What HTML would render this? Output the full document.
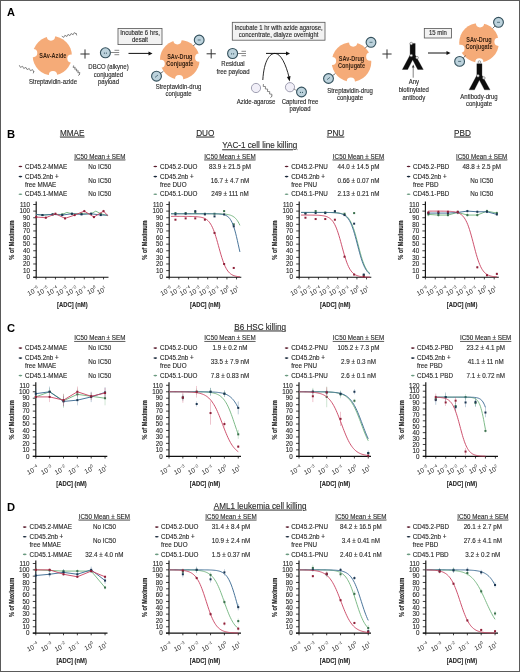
<!DOCTYPE html>
<html><head><meta charset="utf-8"><style>
html,body{margin:0;padding:0;background:#fff;}
.wrap{position:relative;width:520px;height:672px;overflow:hidden;background:#fff;}
svg{display:block;font-family:"Liberation Sans", sans-serif;filter:blur(0.45px);}
.bd{position:absolute;left:0;top:0;width:520px;height:672px;box-sizing:border-box;border:1px solid #5a5a5a;}
</style></head><body>
<div class="wrap">
<svg width="520" height="672" viewBox="0 0 520 672" font-family='"Liberation Sans", sans-serif'>
<rect x="0" y="0" width="520" height="672" fill="#fff"/>
<text transform="translate(7.00,16.30) scale(1,1.05)" font-size="11" text-anchor="start" font-weight="bold" fill="#000" stroke="#000" stroke-width="0" >A</text>
<g transform="translate(52.3,55.8)">
<circle r="19.6" fill="#f5ab78"/>
<circle cx="-1.35" cy="-19.25" r="4.1" fill="#fff"/>
<circle cx="19.11" cy="2.69" r="4.1" fill="#fff"/>
<circle cx="0.67" cy="19.29" r="4.1" fill="#fff"/>
<circle cx="-19.11" cy="-2.69" r="4.1" fill="#fff"/>
</g>
<text transform="translate(52.80,58.00) scale(0.84,1.05)" font-size="6.6" text-anchor="middle" font-weight="bold" fill="#3a2414" stroke="#3a2414" stroke-width="0" >SAv-Azide</text>
<polyline points="61.77,36.18 63.79,37.37 64.88,35.29 66.90,36.48 67.99,34.40 70.01,35.60 71.10,33.52 73.12,34.71 74.21,32.63 76.23,33.82" fill="none" stroke="#555" stroke-width="0.7"/>
<line x1="76.00" y1="33.00" x2="76.69" y2="35.40" stroke="#555" stroke-width="0.7"/>
<polyline points="19.27,65.19 20.40,67.36 22.60,66.30 23.73,68.47 25.94,67.42 27.06,69.58 29.27,68.53 30.40,70.70 32.60,69.64 33.73,71.81" fill="none" stroke="#555" stroke-width="0.7"/>
<line x1="34.00" y1="71.00" x2="33.21" y2="73.37" stroke="#555" stroke-width="0.7"/>
<polyline points="73.64,65.44 73.14,67.45 75.20,67.22 74.69,69.23 76.75,69.00 76.25,71.00 78.31,70.77 77.80,72.78 79.86,72.55 79.36,74.56" fill="none" stroke="#555" stroke-width="0.7"/>
<line x1="80.00" y1="74.00" x2="78.12" y2="75.65" stroke="#555" stroke-width="0.7"/>
<text transform="translate(53.00,84.30) scale(1,1.05)" font-size="6.0" text-anchor="middle" font-weight="normal" fill="#2a2a2a" stroke="#2a2a2a" stroke-width="0.12" >Streptavidin-azide</text>
<path d="M80.4,54 H89.6 M85,49.4 V58.6" stroke="#333" stroke-width="1"/>
<circle cx="105.4" cy="52.8" r="5.0" fill="#bcd2dc" stroke="#33505c" stroke-width="1.1"/>
<circle cx="104.4" cy="53.099999999999994" r="0.6" fill="#2e4f5c"/><circle cx="106.4" cy="53.099999999999994" r="0.6" fill="#2e4f5c"/>
<line x1="110.6" y1="52.5" x2="119.19999999999999" y2="52.5" stroke="#555" stroke-width="0.7"/>
<line x1="114.47" y1="50.3" x2="119.19999999999999" y2="50.3" stroke="#555" stroke-width="0.7"/>
<line x1="114.47" y1="54.7" x2="119.19999999999999" y2="54.7" stroke="#555" stroke-width="0.7"/>
<text transform="translate(108.50,69.00) scale(1,1.05)" font-size="6.0" text-anchor="middle" font-weight="normal" fill="#2a2a2a" stroke="#2a2a2a" stroke-width="0.12" >DBCO (alkyne)</text>
<text transform="translate(108.50,76.60) scale(1,1.05)" font-size="6.0" text-anchor="middle" font-weight="normal" fill="#2a2a2a" stroke="#2a2a2a" stroke-width="0.12" >conjugated</text>
<text transform="translate(108.50,84.30) scale(1,1.05)" font-size="6.0" text-anchor="middle" font-weight="normal" fill="#2a2a2a" stroke="#2a2a2a" stroke-width="0.12" >payload</text>
<rect x="118" y="28.5" width="44" height="16.1" fill="#f2f2f2" stroke="#555" stroke-width="0.8"/>
<text transform="translate(140.00,35.05) scale(1,1.05)" font-size="6.0" text-anchor="middle" font-weight="normal" fill="#2a2a2a" stroke="#2a2a2a" stroke-width="0.12" >Incubate 6 hrs,</text>
<text transform="translate(140.00,42.25) scale(1,1.05)" font-size="6.0" text-anchor="middle" font-weight="normal" fill="#2a2a2a" stroke="#2a2a2a" stroke-width="0.12" >desalt</text>
<line x1="128.5" y1="53.4" x2="149.5" y2="53.4" stroke="#111" stroke-width="1"/>
<path d="M152.5,53.4 l-4,-2 v4 z" fill="#111"/>
<g transform="translate(179.8,59.7)">
<circle r="19.8" fill="#f5ab78"/>
<circle cx="-2.38" cy="-19.35" r="4.1" fill="#fff"/>
<circle cx="19.39" cy="-2.04" r="4.1" fill="#fff"/>
<circle cx="-0.68" cy="19.49" r="4.1" fill="#fff"/>
<circle cx="-19.07" cy="4.05" r="4.1" fill="#fff"/>
</g>
<text transform="translate(179.80,58.80) scale(0.84,1.05)" font-size="6.6" text-anchor="middle" font-weight="bold" fill="#3a2414" stroke="#3a2414" stroke-width="0" >SAv-Drug</text>
<text transform="translate(179.80,65.80) scale(0.84,1.05)" font-size="6.6" text-anchor="middle" font-weight="bold" fill="#3a2414" stroke="#3a2414" stroke-width="0" >Conjugate</text>
<line x1="195.55" y1="43.71" x2="193.31" y2="45.99" stroke="#333" stroke-width="0.7"/>
<line x1="160.74" y1="73.19" x2="163.36" y2="71.35" stroke="#333" stroke-width="0.7"/>
<circle cx="199.2" cy="40" r="4.9" fill="#bcd2dc" stroke="#33505c" stroke-width="1.1"/>
<line x1="197.7" y1="40" x2="200.7" y2="40" stroke="#2e4f5c" stroke-width="0.7"/>
<circle cx="156.5" cy="76.2" r="4.9" fill="#bcd2dc" stroke="#33505c" stroke-width="1.1"/>
<line x1="155.0" y1="77.4" x2="158.0" y2="75.0" stroke="#2e4f5c" stroke-width="0.7"/>
<text transform="translate(178.50,89.00) scale(1,1.05)" font-size="6.0" text-anchor="middle" font-weight="normal" fill="#2a2a2a" stroke="#2a2a2a" stroke-width="0.12" >Streptavidin-drug</text>
<text transform="translate(178.50,96.30) scale(1,1.05)" font-size="6.0" text-anchor="middle" font-weight="normal" fill="#2a2a2a" stroke="#2a2a2a" stroke-width="0.12" >conjugate</text>
<path d="M206.6,53.8 H215.79999999999998 M211.2,49.199999999999996 V58.4" stroke="#333" stroke-width="1"/>
<circle cx="232.6" cy="53.5" r="5.0" fill="#bcd2dc" stroke="#33505c" stroke-width="1.1"/>
<circle cx="231.6" cy="53.8" r="0.6" fill="#2e4f5c"/><circle cx="233.6" cy="53.8" r="0.6" fill="#2e4f5c"/>
<line x1="237.8" y1="53.5" x2="246.0" y2="53.5" stroke="#555" stroke-width="0.7"/>
<line x1="241.49" y1="51.3" x2="246.0" y2="51.3" stroke="#555" stroke-width="0.7"/>
<line x1="241.49" y1="55.7" x2="246.0" y2="55.7" stroke="#555" stroke-width="0.7"/>
<text transform="translate(233.00,65.80) scale(1,1.05)" font-size="6.0" text-anchor="middle" font-weight="normal" fill="#2a2a2a" stroke="#2a2a2a" stroke-width="0.12" >Residual</text>
<text transform="translate(233.00,73.50) scale(1,1.05)" font-size="6.0" text-anchor="middle" font-weight="normal" fill="#2a2a2a" stroke="#2a2a2a" stroke-width="0.12" >free payload</text>
<rect x="232.3" y="22.3" width="92.7" height="17.9" fill="#f2f2f2" stroke="#555" stroke-width="0.8"/>
<text transform="translate(278.65,29.75) scale(1,1.05)" font-size="6.0" text-anchor="middle" font-weight="normal" fill="#2a2a2a" stroke="#2a2a2a" stroke-width="0.12" >Incubate 1 hr with azide agarose,</text>
<text transform="translate(278.65,36.95) scale(1,1.05)" font-size="6.0" text-anchor="middle" font-weight="normal" fill="#2a2a2a" stroke="#2a2a2a" stroke-width="0.12" >concentrate, dialyze overnight</text>
<line x1="266" y1="53.4" x2="287" y2="53.4" stroke="#111" stroke-width="1"/>
<path d="M290,53.4 l-4,-2 v4 z" fill="#111"/>
<path d="M262.8,80 C264,60 270,53.4 275,53.4 C281,53.4 286,65 289,77" fill="none" stroke="#111" stroke-width="0.9"/>
<path d="M289.7,81.5 l-2.8,-4.6 l3.6,-0.8 z" fill="#111"/>
<circle cx="256" cy="88" r="4.6" fill="#f1eff8" stroke="#8a8aa0" stroke-width="0.8"/>
<polyline points="263.45,84.06 263.20,86.41 265.56,86.59 265.31,88.94 267.68,89.12 267.42,91.48 269.79,91.66 269.54,94.01 271.90,94.19 271.65,96.54" fill="none" stroke="#555" stroke-width="0.7"/>
<line x1="272.30" y1="96.00" x2="270.38" y2="97.60" stroke="#555" stroke-width="0.7"/>
<circle cx="290" cy="87.2" r="4.6" fill="#f1eff8" stroke="#8a8aa0" stroke-width="0.8"/>
<line x1="293.5" y1="89" x2="297" y2="90.5" stroke="#666" stroke-width="0.6"/>
<circle cx="301.5" cy="92" r="4.9" fill="#bcd2dc" stroke="#33505c" stroke-width="1.1"/>
<circle cx="300.5" cy="92.3" r="0.6" fill="#2e4f5c"/><circle cx="302.5" cy="92.3" r="0.6" fill="#2e4f5c"/>
<text transform="translate(256.00,104.30) scale(1,1.05)" font-size="6.0" text-anchor="middle" font-weight="normal" fill="#2a2a2a" stroke="#2a2a2a" stroke-width="0.12" >Azide-agarose</text>
<text transform="translate(300.00,104.30) scale(1,1.05)" font-size="6.0" text-anchor="middle" font-weight="normal" fill="#2a2a2a" stroke="#2a2a2a" stroke-width="0.12" >Captured free</text>
<text transform="translate(300.00,111.00) scale(1,1.05)" font-size="6.0" text-anchor="middle" font-weight="normal" fill="#2a2a2a" stroke="#2a2a2a" stroke-width="0.12" >payload</text>
<g transform="translate(351.5,62)">
<circle r="19.8" fill="#f5ab78"/>
<circle cx="1.70" cy="-19.43" r="4.1" fill="#fff"/>
<circle cx="18.74" cy="-5.37" r="4.1" fill="#fff"/>
<circle cx="-0.68" cy="19.49" r="4.1" fill="#fff"/>
<circle cx="-19.47" cy="-1.02" r="4.1" fill="#fff"/>
</g>
<text transform="translate(351.50,61.10) scale(0.84,1.05)" font-size="6.6" text-anchor="middle" font-weight="bold" fill="#3a2414" stroke="#3a2414" stroke-width="0" >SAv-Drug</text>
<text transform="translate(351.50,68.10) scale(0.84,1.05)" font-size="6.6" text-anchor="middle" font-weight="bold" fill="#3a2414" stroke="#3a2414" stroke-width="0" >Conjugate</text>
<line x1="367.34" y1="46.00" x2="365.09" y2="48.27" stroke="#333" stroke-width="0.7"/>
<line x1="332.73" y1="75.47" x2="335.33" y2="73.60" stroke="#333" stroke-width="0.7"/>
<circle cx="371" cy="42.3" r="4.9" fill="#bcd2dc" stroke="#33505c" stroke-width="1.1"/>
<line x1="369.5" y1="42.3" x2="372.5" y2="42.3" stroke="#2e4f5c" stroke-width="0.7"/>
<circle cx="328.5" cy="78.5" r="4.9" fill="#bcd2dc" stroke="#33505c" stroke-width="1.1"/>
<line x1="327.0" y1="79.7" x2="330.0" y2="77.3" stroke="#2e4f5c" stroke-width="0.7"/>
<text transform="translate(350.00,92.80) scale(1,1.05)" font-size="6.0" text-anchor="middle" font-weight="normal" fill="#2a2a2a" stroke="#2a2a2a" stroke-width="0.12" >Streptavidin-drug</text>
<text transform="translate(350.00,100.00) scale(1,1.05)" font-size="6.0" text-anchor="middle" font-weight="normal" fill="#2a2a2a" stroke="#2a2a2a" stroke-width="0.12" >conjugate</text>
<path d="M382.4,54 H391.6 M387,49.4 V58.6" stroke="#333" stroke-width="1"/>
<path d="M410.10,43.40 L415.20,43.40 L415.20,55.00 L423.25,69.50 L417.75,69.50 L412.65,59.80 L407.65,69.50 L402.35,69.50 L410.10,55.00 Z" fill="#0d0d0d" stroke="#0d0d0d" stroke-width="0.3" stroke-linejoin="round"/>
<circle cx="411.25" cy="55.50" r="1.35" fill="#f4f4f4" stroke="#444" stroke-width="0.45"/>
<circle cx="417.05" cy="57.70" r="1.35" fill="#f4f4f4" stroke="#444" stroke-width="0.45"/>
<circle cx="411.25" cy="43.60" r="1.35" fill="#f4f4f4" stroke="#444" stroke-width="0.45"/>
<line x1="413.2" y1="77.7" x2="413.2" y2="66.5" stroke="#333" stroke-width="0.6"/>
<path d="M413.2,64.6 l-1.3,2.9 h2.6 z" fill="#333"/>
<text transform="translate(413.80,84.30) scale(1,1.05)" font-size="6.0" text-anchor="middle" font-weight="normal" fill="#2a2a2a" stroke="#2a2a2a" stroke-width="0.12" >Any</text>
<text transform="translate(413.80,92.00) scale(1,1.05)" font-size="6.0" text-anchor="middle" font-weight="normal" fill="#2a2a2a" stroke="#2a2a2a" stroke-width="0.12" >biotinylated</text>
<text transform="translate(413.80,99.70) scale(1,1.05)" font-size="6.0" text-anchor="middle" font-weight="normal" fill="#2a2a2a" stroke="#2a2a2a" stroke-width="0.12" >antibody</text>
<rect x="424.3" y="28.4" width="27.2" height="9.6" fill="#f2f2f2" stroke="#555" stroke-width="0.8"/>
<text transform="translate(437.90,35.30) scale(1,1.05)" font-size="6.0" text-anchor="middle" font-weight="normal" fill="#2a2a2a" stroke="#2a2a2a" stroke-width="0.12" >15 min</text>
<line x1="428" y1="53" x2="447.5" y2="53" stroke="#111" stroke-width="1"/>
<path d="M450.5,53 l-4,-2 v4 z" fill="#111"/>
<g transform="translate(479,42.8)">
<circle r="19.8" fill="#f5ab78"/>
<circle cx="1.02" cy="-19.47" r="4.1" fill="#fff"/>
<circle cx="19.47" cy="-1.02" r="4.1" fill="#fff"/>
<circle cx="0.34" cy="19.50" r="4.1" fill="#fff"/>
<circle cx="-18.55" cy="6.03" r="4.1" fill="#fff"/>
</g>
<text transform="translate(479.00,41.90) scale(0.84,1.05)" font-size="6.6" text-anchor="middle" font-weight="bold" fill="#3a2414" stroke="#3a2414" stroke-width="0" >SAv-Drug</text>
<text transform="translate(479.00,48.90) scale(0.84,1.05)" font-size="6.6" text-anchor="middle" font-weight="bold" fill="#3a2414" stroke="#3a2414" stroke-width="0" >Conjugate</text>
<line x1="494.92" y1="26.07" x2="492.71" y2="28.39" stroke="#333" stroke-width="0.7"/>
<line x1="463.35" y1="57.80" x2="465.66" y2="55.59" stroke="#333" stroke-width="0.7"/>
<circle cx="498.5" cy="22.3" r="4.9" fill="#bcd2dc" stroke="#33505c" stroke-width="1.1"/>
<line x1="497.0" y1="22.3" x2="500.0" y2="22.3" stroke="#2e4f5c" stroke-width="0.7"/>
<circle cx="459.6" cy="61.4" r="4.9" fill="#bcd2dc" stroke="#33505c" stroke-width="1.1"/>
<line x1="458.1" y1="61.4" x2="461.1" y2="61.4" stroke="#2e4f5c" stroke-width="0.7"/>
<path d="M476.85,63.70 L481.95,63.70 L481.95,75.30 L490.00,89.80 L484.50,89.80 L479.40,80.10 L474.40,89.80 L469.10,89.80 L476.85,75.30 Z" fill="#0d0d0d" stroke="#0d0d0d" stroke-width="0.3" stroke-linejoin="round"/>
<circle cx="478.00" cy="75.80" r="1.35" fill="#f4f4f4" stroke="#444" stroke-width="0.45"/>
<circle cx="483.80" cy="78.00" r="1.35" fill="#f4f4f4" stroke="#444" stroke-width="0.45"/>
<circle cx="479.40" cy="62.10" r="1.35" fill="#f4f4f4" stroke="#444" stroke-width="0.45"/>
<text transform="translate(479.00,99.30) scale(1,1.05)" font-size="6.0" text-anchor="middle" font-weight="normal" fill="#2a2a2a" stroke="#2a2a2a" stroke-width="0.12" >Antibody-drug</text>
<text transform="translate(479.00,106.20) scale(1,1.05)" font-size="6.0" text-anchor="middle" font-weight="normal" fill="#2a2a2a" stroke="#2a2a2a" stroke-width="0.12" >conjugate</text>
<text transform="translate(7.00,138.20) scale(1,1.05)" font-size="11.2" text-anchor="start" font-weight="bold" fill="#000" stroke="#000" stroke-width="0" >B</text>
<text transform="translate(72.25,135.60) scale(1,1.05)" font-size="8.2" text-anchor="middle" font-weight="normal" fill="#2a2a2a" stroke="#2a2a2a" stroke-width="0.12" text-decoration="underline">MMAE</text>
<text transform="translate(205.25,135.60) scale(1,1.05)" font-size="8.2" text-anchor="middle" font-weight="normal" fill="#2a2a2a" stroke="#2a2a2a" stroke-width="0.12" text-decoration="underline">DUO</text>
<text transform="translate(335.60,135.60) scale(1,1.05)" font-size="8.2" text-anchor="middle" font-weight="normal" fill="#2a2a2a" stroke="#2a2a2a" stroke-width="0.12" text-decoration="underline">PNU</text>
<text transform="translate(462.50,135.60) scale(1,1.05)" font-size="8.2" text-anchor="middle" font-weight="normal" fill="#2a2a2a" stroke="#2a2a2a" stroke-width="0.12" text-decoration="underline">PBD</text>
<text transform="translate(259.75,148.30) scale(1,1.05)" font-size="8.1" text-anchor="middle" font-weight="normal" fill="#2a2a2a" stroke="#2a2a2a" stroke-width="0.12" text-decoration="underline">YAC-1 cell line killing</text>
<text transform="translate(99.80,158.60) scale(1,1.05)" font-size="6.3" text-anchor="middle" font-weight="normal" fill="#2a2a2a" stroke="#2a2a2a" stroke-width="0.12" text-decoration="underline">IC50 Mean ± SEM</text>
<ellipse cx="20.40" cy="166.50" rx="1.9" ry="0.8" fill="#5a1d2e"/>
<ellipse cx="20.40" cy="176.60" rx="1.9" ry="0.8" fill="#18283a"/>
<ellipse cx="20.40" cy="194.30" rx="1.9" ry="0.8" fill="#6b9a80"/>
<text transform="translate(24.90,168.60) scale(1,1.05)" font-size="6.3" text-anchor="start" font-weight="normal" fill="#2a2a2a" stroke="#2a2a2a" stroke-width="0.12" >CD45.2-MMAE</text>
<text transform="translate(24.90,178.70) scale(1,1.05)" font-size="6.3" text-anchor="start" font-weight="normal" fill="#2a2a2a" stroke="#2a2a2a" stroke-width="0.12" >CD45.2nb +</text>
<text transform="translate(24.90,187.00) scale(1,1.05)" font-size="6.3" text-anchor="start" font-weight="normal" fill="#2a2a2a" stroke="#2a2a2a" stroke-width="0.12" >free MMAE</text>
<text transform="translate(24.90,196.40) scale(1,1.05)" font-size="6.3" text-anchor="start" font-weight="normal" fill="#2a2a2a" stroke="#2a2a2a" stroke-width="0.12" >CD45.1-MMAE</text>
<text transform="translate(99.80,168.60) scale(1,1.05)" font-size="6.3" text-anchor="middle" font-weight="normal" fill="#2a2a2a" stroke="#2a2a2a" stroke-width="0.12" >No IC50</text>
<text transform="translate(99.80,182.85) scale(1,1.05)" font-size="6.3" text-anchor="middle" font-weight="normal" fill="#2a2a2a" stroke="#2a2a2a" stroke-width="0.12" >No IC50</text>
<text transform="translate(99.80,196.40) scale(1,1.05)" font-size="6.3" text-anchor="middle" font-weight="normal" fill="#2a2a2a" stroke="#2a2a2a" stroke-width="0.12" >No IC50</text>
<text transform="translate(230.00,158.60) scale(1,1.05)" font-size="6.3" text-anchor="middle" font-weight="normal" fill="#2a2a2a" stroke="#2a2a2a" stroke-width="0.12" text-decoration="underline">IC50 Mean ± SEM</text>
<ellipse cx="155.30" cy="166.50" rx="1.9" ry="0.8" fill="#5a1d2e"/>
<ellipse cx="155.30" cy="176.60" rx="1.9" ry="0.8" fill="#18283a"/>
<ellipse cx="155.30" cy="194.30" rx="1.9" ry="0.8" fill="#6b9a80"/>
<text transform="translate(160.00,168.60) scale(1,1.05)" font-size="6.3" text-anchor="start" font-weight="normal" fill="#2a2a2a" stroke="#2a2a2a" stroke-width="0.12" >CD45.2-DUO</text>
<text transform="translate(160.00,178.70) scale(1,1.05)" font-size="6.3" text-anchor="start" font-weight="normal" fill="#2a2a2a" stroke="#2a2a2a" stroke-width="0.12" >CD45.2nb +</text>
<text transform="translate(160.00,187.00) scale(1,1.05)" font-size="6.3" text-anchor="start" font-weight="normal" fill="#2a2a2a" stroke="#2a2a2a" stroke-width="0.12" >free DUO</text>
<text transform="translate(160.00,196.40) scale(1,1.05)" font-size="6.3" text-anchor="start" font-weight="normal" fill="#2a2a2a" stroke="#2a2a2a" stroke-width="0.12" >CD45.1-DUO</text>
<text transform="translate(230.00,168.60) scale(1,1.05)" font-size="6.3" text-anchor="middle" font-weight="normal" fill="#2a2a2a" stroke="#2a2a2a" stroke-width="0.12" >83.9 ± 21.5 pM</text>
<text transform="translate(230.00,182.85) scale(1,1.05)" font-size="6.3" text-anchor="middle" font-weight="normal" fill="#2a2a2a" stroke="#2a2a2a" stroke-width="0.12" >16.7 ± 4.7 nM</text>
<text transform="translate(230.00,196.40) scale(1,1.05)" font-size="6.3" text-anchor="middle" font-weight="normal" fill="#2a2a2a" stroke="#2a2a2a" stroke-width="0.12" >249 ± 111 nM</text>
<text transform="translate(358.50,158.60) scale(1,1.05)" font-size="6.3" text-anchor="middle" font-weight="normal" fill="#2a2a2a" stroke="#2a2a2a" stroke-width="0.12" text-decoration="underline">IC50 Mean ± SEM</text>
<ellipse cx="286.60" cy="166.50" rx="1.9" ry="0.8" fill="#5a1d2e"/>
<ellipse cx="286.60" cy="176.60" rx="1.9" ry="0.8" fill="#18283a"/>
<ellipse cx="286.60" cy="194.30" rx="1.9" ry="0.8" fill="#6b9a80"/>
<text transform="translate(291.20,168.60) scale(1,1.05)" font-size="6.3" text-anchor="start" font-weight="normal" fill="#2a2a2a" stroke="#2a2a2a" stroke-width="0.12" >CD45.2-PNU</text>
<text transform="translate(291.20,178.70) scale(1,1.05)" font-size="6.3" text-anchor="start" font-weight="normal" fill="#2a2a2a" stroke="#2a2a2a" stroke-width="0.12" >CD45.2nb +</text>
<text transform="translate(291.20,187.00) scale(1,1.05)" font-size="6.3" text-anchor="start" font-weight="normal" fill="#2a2a2a" stroke="#2a2a2a" stroke-width="0.12" >free PNU</text>
<text transform="translate(291.20,196.40) scale(1,1.05)" font-size="6.3" text-anchor="start" font-weight="normal" fill="#2a2a2a" stroke="#2a2a2a" stroke-width="0.12" >CD45.1-PNU</text>
<text transform="translate(358.50,168.60) scale(1,1.05)" font-size="6.3" text-anchor="middle" font-weight="normal" fill="#2a2a2a" stroke="#2a2a2a" stroke-width="0.12" >44.0 ± 14.5 pM</text>
<text transform="translate(358.50,182.85) scale(1,1.05)" font-size="6.3" text-anchor="middle" font-weight="normal" fill="#2a2a2a" stroke="#2a2a2a" stroke-width="0.12" >0.66 ± 0.07 nM</text>
<text transform="translate(358.50,196.40) scale(1,1.05)" font-size="6.3" text-anchor="middle" font-weight="normal" fill="#2a2a2a" stroke="#2a2a2a" stroke-width="0.12" >2.13 ± 0.21 nM</text>
<text transform="translate(481.70,158.60) scale(1,1.05)" font-size="6.3" text-anchor="middle" font-weight="normal" fill="#2a2a2a" stroke="#2a2a2a" stroke-width="0.12" text-decoration="underline">IC50 Mean ± SEM</text>
<ellipse cx="408.60" cy="166.50" rx="1.9" ry="0.8" fill="#5a1d2e"/>
<ellipse cx="408.60" cy="176.60" rx="1.9" ry="0.8" fill="#18283a"/>
<ellipse cx="408.60" cy="194.30" rx="1.9" ry="0.8" fill="#6b9a80"/>
<text transform="translate(413.00,168.60) scale(1,1.05)" font-size="6.3" text-anchor="start" font-weight="normal" fill="#2a2a2a" stroke="#2a2a2a" stroke-width="0.12" >CD45.2-PBD</text>
<text transform="translate(413.00,178.70) scale(1,1.05)" font-size="6.3" text-anchor="start" font-weight="normal" fill="#2a2a2a" stroke="#2a2a2a" stroke-width="0.12" >CD45.2nb +</text>
<text transform="translate(413.00,187.00) scale(1,1.05)" font-size="6.3" text-anchor="start" font-weight="normal" fill="#2a2a2a" stroke="#2a2a2a" stroke-width="0.12" >free PBD</text>
<text transform="translate(413.00,196.40) scale(1,1.05)" font-size="6.3" text-anchor="start" font-weight="normal" fill="#2a2a2a" stroke="#2a2a2a" stroke-width="0.12" >CD45.1-PBD</text>
<text transform="translate(481.70,168.60) scale(1,1.05)" font-size="6.3" text-anchor="middle" font-weight="normal" fill="#2a2a2a" stroke="#2a2a2a" stroke-width="0.12" >48.8 ± 2.5 pM</text>
<text transform="translate(481.70,182.85) scale(1,1.05)" font-size="6.3" text-anchor="middle" font-weight="normal" fill="#2a2a2a" stroke="#2a2a2a" stroke-width="0.12" >No IC50</text>
<text transform="translate(481.70,196.40) scale(1,1.05)" font-size="6.3" text-anchor="middle" font-weight="normal" fill="#2a2a2a" stroke="#2a2a2a" stroke-width="0.12" >No IC50</text>
<path d="M36.2,201.5 V277.2 M33.2,277.2 H108.5" fill="none" stroke="#111" stroke-width="1.15"/>
<line x1="33.2" y1="277.20" x2="36.2" y2="277.20" stroke="#111" stroke-width="0.8"/>
<text transform="translate(30.00,279.40) scale(1,1.05)" font-size="6.3" text-anchor="end" font-weight="normal" fill="#2a2a2a" stroke="#2a2a2a" stroke-width="0.12" >0</text>
<line x1="33.2" y1="270.59" x2="36.2" y2="270.59" stroke="#111" stroke-width="0.8"/>
<text transform="translate(30.00,272.79) scale(1,1.05)" font-size="6.3" text-anchor="end" font-weight="normal" fill="#2a2a2a" stroke="#2a2a2a" stroke-width="0.12" >10</text>
<line x1="33.2" y1="263.98" x2="36.2" y2="263.98" stroke="#111" stroke-width="0.8"/>
<text transform="translate(30.00,266.18) scale(1,1.05)" font-size="6.3" text-anchor="end" font-weight="normal" fill="#2a2a2a" stroke="#2a2a2a" stroke-width="0.12" >20</text>
<line x1="33.2" y1="257.37" x2="36.2" y2="257.37" stroke="#111" stroke-width="0.8"/>
<text transform="translate(30.00,259.57) scale(1,1.05)" font-size="6.3" text-anchor="end" font-weight="normal" fill="#2a2a2a" stroke="#2a2a2a" stroke-width="0.12" >30</text>
<line x1="33.2" y1="250.76" x2="36.2" y2="250.76" stroke="#111" stroke-width="0.8"/>
<text transform="translate(30.00,252.96) scale(1,1.05)" font-size="6.3" text-anchor="end" font-weight="normal" fill="#2a2a2a" stroke="#2a2a2a" stroke-width="0.12" >40</text>
<line x1="33.2" y1="244.15" x2="36.2" y2="244.15" stroke="#111" stroke-width="0.8"/>
<text transform="translate(30.00,246.35) scale(1,1.05)" font-size="6.3" text-anchor="end" font-weight="normal" fill="#2a2a2a" stroke="#2a2a2a" stroke-width="0.12" >50</text>
<line x1="33.2" y1="237.55" x2="36.2" y2="237.55" stroke="#111" stroke-width="0.8"/>
<text transform="translate(30.00,239.75) scale(1,1.05)" font-size="6.3" text-anchor="end" font-weight="normal" fill="#2a2a2a" stroke="#2a2a2a" stroke-width="0.12" >60</text>
<line x1="33.2" y1="230.94" x2="36.2" y2="230.94" stroke="#111" stroke-width="0.8"/>
<text transform="translate(30.00,233.14) scale(1,1.05)" font-size="6.3" text-anchor="end" font-weight="normal" fill="#2a2a2a" stroke="#2a2a2a" stroke-width="0.12" >70</text>
<line x1="33.2" y1="224.33" x2="36.2" y2="224.33" stroke="#111" stroke-width="0.8"/>
<text transform="translate(30.00,226.53) scale(1,1.05)" font-size="6.3" text-anchor="end" font-weight="normal" fill="#2a2a2a" stroke="#2a2a2a" stroke-width="0.12" >80</text>
<line x1="33.2" y1="217.72" x2="36.2" y2="217.72" stroke="#111" stroke-width="0.8"/>
<text transform="translate(30.00,219.92) scale(1,1.05)" font-size="6.3" text-anchor="end" font-weight="normal" fill="#2a2a2a" stroke="#2a2a2a" stroke-width="0.12" >90</text>
<line x1="33.2" y1="211.11" x2="36.2" y2="211.11" stroke="#111" stroke-width="0.8"/>
<text transform="translate(30.00,213.31) scale(1,1.05)" font-size="6.3" text-anchor="end" font-weight="normal" fill="#2a2a2a" stroke="#2a2a2a" stroke-width="0.12" >100</text>
<line x1="33.2" y1="204.50" x2="36.2" y2="204.50" stroke="#111" stroke-width="0.8"/>
<text transform="translate(30.00,206.70) scale(1,1.05)" font-size="6.3" text-anchor="end" font-weight="normal" fill="#2a2a2a" stroke="#2a2a2a" stroke-width="0.12" >110</text>
<line x1="36.20" y1="277.2" x2="36.20" y2="279.4" stroke="#111" stroke-width="0.8"/>
<text transform="translate(39.50,290.4) rotate(-27)" font-size="6.6" text-anchor="end" fill="#2a2a2a">10<tspan font-size="4.2" dy="-3.1">&#8722;6</tspan></text>
<line x1="45.82" y1="277.2" x2="45.82" y2="279.4" stroke="#111" stroke-width="0.8"/>
<text transform="translate(49.12,290.4) rotate(-27)" font-size="6.6" text-anchor="end" fill="#2a2a2a">10<tspan font-size="4.2" dy="-3.1">&#8722;5</tspan></text>
<line x1="55.44" y1="277.2" x2="55.44" y2="279.4" stroke="#111" stroke-width="0.8"/>
<text transform="translate(58.74,290.4) rotate(-27)" font-size="6.6" text-anchor="end" fill="#2a2a2a">10<tspan font-size="4.2" dy="-3.1">&#8722;4</tspan></text>
<line x1="65.06" y1="277.2" x2="65.06" y2="279.4" stroke="#111" stroke-width="0.8"/>
<text transform="translate(68.36,290.4) rotate(-27)" font-size="6.6" text-anchor="end" fill="#2a2a2a">10<tspan font-size="4.2" dy="-3.1">&#8722;3</tspan></text>
<line x1="74.68" y1="277.2" x2="74.68" y2="279.4" stroke="#111" stroke-width="0.8"/>
<text transform="translate(77.98,290.4) rotate(-27)" font-size="6.6" text-anchor="end" fill="#2a2a2a">10<tspan font-size="4.2" dy="-3.1">&#8722;2</tspan></text>
<line x1="84.30" y1="277.2" x2="84.30" y2="279.4" stroke="#111" stroke-width="0.8"/>
<text transform="translate(87.60,290.4) rotate(-27)" font-size="6.6" text-anchor="end" fill="#2a2a2a">10<tspan font-size="4.2" dy="-3.1">&#8722;1</tspan></text>
<line x1="93.92" y1="277.2" x2="93.92" y2="279.4" stroke="#111" stroke-width="0.8"/>
<text transform="translate(97.22,290.4) rotate(-27)" font-size="6.6" text-anchor="end" fill="#2a2a2a">10<tspan font-size="4.2" dy="-3.1">0</tspan></text>
<line x1="103.54" y1="277.2" x2="103.54" y2="279.4" stroke="#111" stroke-width="0.8"/>
<text transform="translate(106.84,290.4) rotate(-27)" font-size="6.6" text-anchor="end" fill="#2a2a2a">10<tspan font-size="4.2" dy="-3.1">1</tspan></text>
<text transform="translate(72.35,307.2) scale(0.73,1)" font-size="8" font-weight="bold" text-anchor="middle" fill="#2a2a2a" stroke="#2a2a2a" stroke-width="0.15">[ADC] (nM)</text>
<text transform="translate(14.00,240.05) rotate(-90) scale(0.72,1)" font-size="7.8" font-weight="bold" text-anchor="middle" fill="#2a2a2a" stroke="#2a2a2a" stroke-width="0.15">% of Maximum</text>
<polyline points="36.20,214.41 42.45,215.07 52.65,214.41 62.27,214.41 66.98,212.43 71.89,213.75 81.51,213.75 91.13,213.75 95.84,211.11 100.75,213.75 107.87,215.74" fill="none" stroke="#6fb37c" stroke-width="0.9"/>
<rect x="41.45" y="214.07" width="2" height="2" fill="#3a6f4c"/>
<rect x="51.65" y="213.41" width="2" height="2" fill="#3a6f4c"/>
<rect x="61.27" y="213.41" width="2" height="2" fill="#3a6f4c"/>
<rect x="70.89" y="212.75" width="2" height="2" fill="#3a6f4c"/>
<rect x="80.51" y="212.75" width="2" height="2" fill="#3a6f4c"/>
<rect x="90.13" y="212.75" width="2" height="2" fill="#3a6f4c"/>
<rect x="99.75" y="212.75" width="2" height="2" fill="#3a6f4c"/>
<polyline points="36.20,214.41 42.45,215.07 52.65,214.41 62.27,215.07 71.89,213.75 81.51,214.41 91.13,213.75 100.75,215.07 107.87,215.07" fill="none" stroke="#36658f" stroke-width="0.9"/>
<rect x="41.45" y="214.07" width="2" height="2" fill="#1c3550"/>
<rect x="51.65" y="213.41" width="2" height="2" fill="#1c3550"/>
<rect x="61.27" y="214.07" width="2" height="2" fill="#1c3550"/>
<rect x="70.89" y="212.75" width="2" height="2" fill="#1c3550"/>
<rect x="80.51" y="213.41" width="2" height="2" fill="#1c3550"/>
<rect x="90.13" y="212.75" width="2" height="2" fill="#1c3550"/>
<rect x="99.75" y="214.07" width="2" height="2" fill="#1c3550"/>
<polyline points="36.20,217.06 45.82,217.72 55.44,213.75 65.06,218.38 74.68,215.07 84.30,211.11 93.92,217.06 103.54,211.11 107.87,215.74" fill="none" stroke="#c8405f" stroke-width="0.9"/>
<line x1="36.20" y1="218.38" x2="36.20" y2="215.74" stroke="#c8405f" stroke-width="0.6" opacity="0.55"/>
<rect x="35.20" y="216.06" width="2" height="2" fill="#8e2038"/>
<line x1="45.82" y1="219.04" x2="45.82" y2="216.40" stroke="#c8405f" stroke-width="0.6" opacity="0.55"/>
<rect x="44.82" y="216.72" width="2" height="2" fill="#8e2038"/>
<line x1="55.44" y1="215.07" x2="55.44" y2="212.43" stroke="#c8405f" stroke-width="0.6" opacity="0.55"/>
<rect x="54.44" y="212.75" width="2" height="2" fill="#8e2038"/>
<line x1="65.06" y1="219.70" x2="65.06" y2="217.06" stroke="#c8405f" stroke-width="0.6" opacity="0.55"/>
<rect x="64.06" y="217.38" width="2" height="2" fill="#8e2038"/>
<line x1="74.68" y1="216.40" x2="74.68" y2="213.75" stroke="#c8405f" stroke-width="0.6" opacity="0.55"/>
<rect x="73.68" y="214.07" width="2" height="2" fill="#8e2038"/>
<line x1="84.30" y1="212.43" x2="84.30" y2="209.79" stroke="#c8405f" stroke-width="0.6" opacity="0.55"/>
<rect x="83.30" y="210.11" width="2" height="2" fill="#8e2038"/>
<line x1="93.92" y1="218.38" x2="93.92" y2="215.74" stroke="#c8405f" stroke-width="0.6" opacity="0.55"/>
<rect x="92.92" y="216.06" width="2" height="2" fill="#8e2038"/>
<line x1="103.54" y1="212.43" x2="103.54" y2="209.79" stroke="#c8405f" stroke-width="0.6" opacity="0.55"/>
<rect x="102.54" y="210.11" width="2" height="2" fill="#8e2038"/>
<path d="M169.2,201.5 V277.2 M166.2,277.2 H241.3" fill="none" stroke="#111" stroke-width="1.15"/>
<line x1="166.2" y1="277.20" x2="169.2" y2="277.20" stroke="#111" stroke-width="0.8"/>
<text transform="translate(163.00,279.40) scale(1,1.05)" font-size="6.3" text-anchor="end" font-weight="normal" fill="#2a2a2a" stroke="#2a2a2a" stroke-width="0.12" >0</text>
<line x1="166.2" y1="270.59" x2="169.2" y2="270.59" stroke="#111" stroke-width="0.8"/>
<text transform="translate(163.00,272.79) scale(1,1.05)" font-size="6.3" text-anchor="end" font-weight="normal" fill="#2a2a2a" stroke="#2a2a2a" stroke-width="0.12" >10</text>
<line x1="166.2" y1="263.98" x2="169.2" y2="263.98" stroke="#111" stroke-width="0.8"/>
<text transform="translate(163.00,266.18) scale(1,1.05)" font-size="6.3" text-anchor="end" font-weight="normal" fill="#2a2a2a" stroke="#2a2a2a" stroke-width="0.12" >20</text>
<line x1="166.2" y1="257.37" x2="169.2" y2="257.37" stroke="#111" stroke-width="0.8"/>
<text transform="translate(163.00,259.57) scale(1,1.05)" font-size="6.3" text-anchor="end" font-weight="normal" fill="#2a2a2a" stroke="#2a2a2a" stroke-width="0.12" >30</text>
<line x1="166.2" y1="250.76" x2="169.2" y2="250.76" stroke="#111" stroke-width="0.8"/>
<text transform="translate(163.00,252.96) scale(1,1.05)" font-size="6.3" text-anchor="end" font-weight="normal" fill="#2a2a2a" stroke="#2a2a2a" stroke-width="0.12" >40</text>
<line x1="166.2" y1="244.15" x2="169.2" y2="244.15" stroke="#111" stroke-width="0.8"/>
<text transform="translate(163.00,246.35) scale(1,1.05)" font-size="6.3" text-anchor="end" font-weight="normal" fill="#2a2a2a" stroke="#2a2a2a" stroke-width="0.12" >50</text>
<line x1="166.2" y1="237.55" x2="169.2" y2="237.55" stroke="#111" stroke-width="0.8"/>
<text transform="translate(163.00,239.75) scale(1,1.05)" font-size="6.3" text-anchor="end" font-weight="normal" fill="#2a2a2a" stroke="#2a2a2a" stroke-width="0.12" >60</text>
<line x1="166.2" y1="230.94" x2="169.2" y2="230.94" stroke="#111" stroke-width="0.8"/>
<text transform="translate(163.00,233.14) scale(1,1.05)" font-size="6.3" text-anchor="end" font-weight="normal" fill="#2a2a2a" stroke="#2a2a2a" stroke-width="0.12" >70</text>
<line x1="166.2" y1="224.33" x2="169.2" y2="224.33" stroke="#111" stroke-width="0.8"/>
<text transform="translate(163.00,226.53) scale(1,1.05)" font-size="6.3" text-anchor="end" font-weight="normal" fill="#2a2a2a" stroke="#2a2a2a" stroke-width="0.12" >80</text>
<line x1="166.2" y1="217.72" x2="169.2" y2="217.72" stroke="#111" stroke-width="0.8"/>
<text transform="translate(163.00,219.92) scale(1,1.05)" font-size="6.3" text-anchor="end" font-weight="normal" fill="#2a2a2a" stroke="#2a2a2a" stroke-width="0.12" >90</text>
<line x1="166.2" y1="211.11" x2="169.2" y2="211.11" stroke="#111" stroke-width="0.8"/>
<text transform="translate(163.00,213.31) scale(1,1.05)" font-size="6.3" text-anchor="end" font-weight="normal" fill="#2a2a2a" stroke="#2a2a2a" stroke-width="0.12" >100</text>
<line x1="166.2" y1="204.50" x2="169.2" y2="204.50" stroke="#111" stroke-width="0.8"/>
<text transform="translate(163.00,206.70) scale(1,1.05)" font-size="6.3" text-anchor="end" font-weight="normal" fill="#2a2a2a" stroke="#2a2a2a" stroke-width="0.12" >110</text>
<line x1="169.20" y1="277.2" x2="169.20" y2="279.4" stroke="#111" stroke-width="0.8"/>
<text transform="translate(172.50,290.4) rotate(-27)" font-size="6.6" text-anchor="end" fill="#2a2a2a">10<tspan font-size="4.2" dy="-3.1">&#8722;6</tspan></text>
<line x1="178.82" y1="277.2" x2="178.82" y2="279.4" stroke="#111" stroke-width="0.8"/>
<text transform="translate(182.12,290.4) rotate(-27)" font-size="6.6" text-anchor="end" fill="#2a2a2a">10<tspan font-size="4.2" dy="-3.1">&#8722;5</tspan></text>
<line x1="188.44" y1="277.2" x2="188.44" y2="279.4" stroke="#111" stroke-width="0.8"/>
<text transform="translate(191.74,290.4) rotate(-27)" font-size="6.6" text-anchor="end" fill="#2a2a2a">10<tspan font-size="4.2" dy="-3.1">&#8722;4</tspan></text>
<line x1="198.06" y1="277.2" x2="198.06" y2="279.4" stroke="#111" stroke-width="0.8"/>
<text transform="translate(201.36,290.4) rotate(-27)" font-size="6.6" text-anchor="end" fill="#2a2a2a">10<tspan font-size="4.2" dy="-3.1">&#8722;3</tspan></text>
<line x1="207.68" y1="277.2" x2="207.68" y2="279.4" stroke="#111" stroke-width="0.8"/>
<text transform="translate(210.98,290.4) rotate(-27)" font-size="6.6" text-anchor="end" fill="#2a2a2a">10<tspan font-size="4.2" dy="-3.1">&#8722;2</tspan></text>
<line x1="217.30" y1="277.2" x2="217.30" y2="279.4" stroke="#111" stroke-width="0.8"/>
<text transform="translate(220.60,290.4) rotate(-27)" font-size="6.6" text-anchor="end" fill="#2a2a2a">10<tspan font-size="4.2" dy="-3.1">&#8722;1</tspan></text>
<line x1="226.92" y1="277.2" x2="226.92" y2="279.4" stroke="#111" stroke-width="0.8"/>
<text transform="translate(230.22,290.4) rotate(-27)" font-size="6.6" text-anchor="end" fill="#2a2a2a">10<tspan font-size="4.2" dy="-3.1">0</tspan></text>
<line x1="236.54" y1="277.2" x2="236.54" y2="279.4" stroke="#111" stroke-width="0.8"/>
<text transform="translate(239.84,290.4) rotate(-27)" font-size="6.6" text-anchor="end" fill="#2a2a2a">10<tspan font-size="4.2" dy="-3.1">1</tspan></text>
<text transform="translate(205.25,307.2) scale(0.73,1)" font-size="8" font-weight="bold" text-anchor="middle" fill="#2a2a2a" stroke="#2a2a2a" stroke-width="0.15">[ADC] (nM)</text>
<text transform="translate(147.00,240.05) rotate(-90) scale(0.72,1)" font-size="7.8" font-weight="bold" text-anchor="middle" fill="#2a2a2a" stroke="#2a2a2a" stroke-width="0.15">% of Maximum</text>
<polyline points="171.12,213.75 171.98,213.75 172.84,213.75 173.70,213.75 174.56,213.75 175.42,213.75 176.28,213.75 177.14,213.75 178.00,213.75 178.86,213.75 179.72,213.75 180.58,213.75 181.44,213.75 182.30,213.75 183.16,213.75 184.02,213.75 184.88,213.75 185.74,213.75 186.60,213.75 187.46,213.75 188.32,213.75 189.18,213.75 190.04,213.75 190.90,213.75 191.76,213.75 192.62,213.75 193.48,213.75 194.34,213.75 195.20,213.75 196.06,213.75 196.92,213.75 197.78,213.75 198.64,213.75 199.50,213.75 200.36,213.75 201.22,213.75 202.08,213.75 202.94,213.75 203.80,213.76 204.66,213.76 205.52,213.76 206.38,213.76 207.24,213.76 208.09,213.76 208.95,213.76 209.81,213.76 210.67,213.77 211.53,213.77 212.39,213.77 213.25,213.78 214.11,213.78 214.97,213.79 215.83,213.80 216.69,213.81 217.55,213.82 218.41,213.84 219.27,213.85 220.13,213.88 220.99,213.91 221.85,213.94 222.71,213.98 223.57,214.04 224.43,214.10 225.29,214.18 226.15,214.28 227.01,214.39 227.87,214.54 228.73,214.72 229.59,214.93 230.45,215.20 231.31,215.52 232.17,215.91 233.03,216.38 233.89,216.95 234.75,217.63 235.61,218.45 236.47,219.43 237.33,220.59 238.19,221.95 239.05,223.53 239.91,225.36" fill="none" stroke="#6fb37c" stroke-width="0.9"/>
<rect x="174.45" y="212.09" width="2" height="2" fill="#3a6f4c"/>
<rect x="184.65" y="212.09" width="2" height="2" fill="#3a6f4c"/>
<rect x="194.27" y="211.43" width="2" height="2" fill="#3a6f4c"/>
<rect x="203.89" y="212.75" width="2" height="2" fill="#3a6f4c"/>
<rect x="213.51" y="212.75" width="2" height="2" fill="#3a6f4c"/>
<rect x="223.13" y="210.11" width="2" height="2" fill="#3a6f4c"/>
<rect x="232.75" y="223.33" width="2" height="2" fill="#3a6f4c"/>
<polyline points="171.12,213.75 171.98,213.75 172.84,213.75 173.70,213.75 174.56,213.75 175.42,213.75 176.28,213.75 177.14,213.75 178.00,213.75 178.86,213.75 179.72,213.75 180.58,213.75 181.44,213.75 182.30,213.75 183.16,213.75 184.02,213.75 184.88,213.75 185.74,213.75 186.60,213.75 187.46,213.75 188.32,213.75 189.18,213.75 190.04,213.75 190.90,213.75 191.76,213.75 192.62,213.75 193.48,213.75 194.34,213.75 195.20,213.75 196.06,213.75 196.92,213.75 197.78,213.75 198.64,213.75 199.50,213.75 200.36,213.75 201.22,213.75 202.08,213.75 202.94,213.76 203.80,213.76 204.66,213.76 205.52,213.76 206.38,213.76 207.24,213.76 208.09,213.76 208.95,213.77 209.81,213.77 210.67,213.77 211.53,213.78 212.39,213.79 213.25,213.80 214.11,213.81 214.97,213.83 215.83,213.85 216.69,213.87 217.55,213.91 218.41,213.95 219.27,214.01 220.13,214.08 220.99,214.17 221.85,214.29 222.71,214.43 223.57,214.62 224.43,214.86 225.29,215.16 226.15,215.55 227.01,216.03 227.87,216.64 228.73,217.40 229.59,218.35 230.45,219.52 231.31,220.96 232.17,222.69 233.03,224.76 233.89,227.19 234.75,229.99 235.61,233.15 236.47,236.62 237.33,240.34 238.19,244.22 239.05,248.13 239.91,251.96" fill="none" stroke="#36658f" stroke-width="0.9"/>
<rect x="174.45" y="213.41" width="2" height="2" fill="#1c3550"/>
<rect x="184.65" y="212.75" width="2" height="2" fill="#1c3550"/>
<rect x="194.27" y="210.11" width="2" height="2" fill="#1c3550"/>
<rect x="203.89" y="213.41" width="2" height="2" fill="#1c3550"/>
<rect x="213.51" y="215.40" width="2" height="2" fill="#1c3550"/>
<rect x="223.13" y="213.41" width="2" height="2" fill="#1c3550"/>
<rect x="232.75" y="225.31" width="2" height="2" fill="#1c3550"/>
<polyline points="171.12,216.40 171.98,216.40 172.84,216.40 173.70,216.40 174.56,216.40 175.42,216.40 176.28,216.40 177.14,216.40 178.00,216.40 178.86,216.40 179.72,216.40 180.58,216.40 181.44,216.40 182.30,216.41 183.16,216.41 184.02,216.41 184.88,216.41 185.74,216.42 186.60,216.42 187.46,216.43 188.32,216.44 189.18,216.45 190.04,216.46 190.90,216.47 191.76,216.49 192.62,216.51 193.48,216.54 194.34,216.57 195.20,216.61 196.06,216.66 196.92,216.72 197.78,216.80 198.64,216.89 199.50,217.00 200.36,217.13 201.22,217.30 202.08,217.50 202.94,217.75 203.80,218.05 204.66,218.41 205.52,218.86 206.38,219.39 207.24,220.03 208.09,220.81 208.95,221.72 209.81,222.81 210.67,224.09 211.53,225.59 212.39,227.31 213.25,229.28 214.11,231.49 214.97,233.94 215.83,236.62 216.69,239.48 217.55,242.50 218.41,245.60 219.27,248.72 220.13,251.81 220.99,254.79 221.85,257.61 222.71,260.24 223.57,262.64 224.43,264.80 225.29,266.70 226.15,268.37 227.01,269.82 227.87,271.05 228.73,272.10 229.59,272.98 230.45,273.72 231.31,274.34 232.17,274.85 233.03,275.27 233.89,275.62 234.75,275.91 235.61,276.15 236.47,276.34 237.33,276.50 238.19,276.63 239.05,276.73 239.91,276.82" fill="none" stroke="#c8405f" stroke-width="0.9"/>
<rect x="174.45" y="218.70" width="2" height="2" fill="#8e2038"/>
<rect x="184.65" y="217.38" width="2" height="2" fill="#8e2038"/>
<rect x="194.27" y="217.38" width="2" height="2" fill="#8e2038"/>
<rect x="203.89" y="218.70" width="2" height="2" fill="#8e2038"/>
<rect x="213.51" y="231.92" width="2" height="2" fill="#8e2038"/>
<rect x="223.13" y="262.98" width="2" height="2" fill="#8e2038"/>
<rect x="232.75" y="266.95" width="2" height="2" fill="#8e2038"/>
<path d="M299.2,201.5 V277.2 M296.2,277.2 H371.3" fill="none" stroke="#111" stroke-width="1.15"/>
<line x1="296.2" y1="277.20" x2="299.2" y2="277.20" stroke="#111" stroke-width="0.8"/>
<text transform="translate(293.00,279.40) scale(1,1.05)" font-size="6.3" text-anchor="end" font-weight="normal" fill="#2a2a2a" stroke="#2a2a2a" stroke-width="0.12" >0</text>
<line x1="296.2" y1="270.59" x2="299.2" y2="270.59" stroke="#111" stroke-width="0.8"/>
<text transform="translate(293.00,272.79) scale(1,1.05)" font-size="6.3" text-anchor="end" font-weight="normal" fill="#2a2a2a" stroke="#2a2a2a" stroke-width="0.12" >10</text>
<line x1="296.2" y1="263.98" x2="299.2" y2="263.98" stroke="#111" stroke-width="0.8"/>
<text transform="translate(293.00,266.18) scale(1,1.05)" font-size="6.3" text-anchor="end" font-weight="normal" fill="#2a2a2a" stroke="#2a2a2a" stroke-width="0.12" >20</text>
<line x1="296.2" y1="257.37" x2="299.2" y2="257.37" stroke="#111" stroke-width="0.8"/>
<text transform="translate(293.00,259.57) scale(1,1.05)" font-size="6.3" text-anchor="end" font-weight="normal" fill="#2a2a2a" stroke="#2a2a2a" stroke-width="0.12" >30</text>
<line x1="296.2" y1="250.76" x2="299.2" y2="250.76" stroke="#111" stroke-width="0.8"/>
<text transform="translate(293.00,252.96) scale(1,1.05)" font-size="6.3" text-anchor="end" font-weight="normal" fill="#2a2a2a" stroke="#2a2a2a" stroke-width="0.12" >40</text>
<line x1="296.2" y1="244.15" x2="299.2" y2="244.15" stroke="#111" stroke-width="0.8"/>
<text transform="translate(293.00,246.35) scale(1,1.05)" font-size="6.3" text-anchor="end" font-weight="normal" fill="#2a2a2a" stroke="#2a2a2a" stroke-width="0.12" >50</text>
<line x1="296.2" y1="237.55" x2="299.2" y2="237.55" stroke="#111" stroke-width="0.8"/>
<text transform="translate(293.00,239.75) scale(1,1.05)" font-size="6.3" text-anchor="end" font-weight="normal" fill="#2a2a2a" stroke="#2a2a2a" stroke-width="0.12" >60</text>
<line x1="296.2" y1="230.94" x2="299.2" y2="230.94" stroke="#111" stroke-width="0.8"/>
<text transform="translate(293.00,233.14) scale(1,1.05)" font-size="6.3" text-anchor="end" font-weight="normal" fill="#2a2a2a" stroke="#2a2a2a" stroke-width="0.12" >70</text>
<line x1="296.2" y1="224.33" x2="299.2" y2="224.33" stroke="#111" stroke-width="0.8"/>
<text transform="translate(293.00,226.53) scale(1,1.05)" font-size="6.3" text-anchor="end" font-weight="normal" fill="#2a2a2a" stroke="#2a2a2a" stroke-width="0.12" >80</text>
<line x1="296.2" y1="217.72" x2="299.2" y2="217.72" stroke="#111" stroke-width="0.8"/>
<text transform="translate(293.00,219.92) scale(1,1.05)" font-size="6.3" text-anchor="end" font-weight="normal" fill="#2a2a2a" stroke="#2a2a2a" stroke-width="0.12" >90</text>
<line x1="296.2" y1="211.11" x2="299.2" y2="211.11" stroke="#111" stroke-width="0.8"/>
<text transform="translate(293.00,213.31) scale(1,1.05)" font-size="6.3" text-anchor="end" font-weight="normal" fill="#2a2a2a" stroke="#2a2a2a" stroke-width="0.12" >100</text>
<line x1="296.2" y1="204.50" x2="299.2" y2="204.50" stroke="#111" stroke-width="0.8"/>
<text transform="translate(293.00,206.70) scale(1,1.05)" font-size="6.3" text-anchor="end" font-weight="normal" fill="#2a2a2a" stroke="#2a2a2a" stroke-width="0.12" >110</text>
<line x1="299.20" y1="277.2" x2="299.20" y2="279.4" stroke="#111" stroke-width="0.8"/>
<text transform="translate(302.50,290.4) rotate(-27)" font-size="6.6" text-anchor="end" fill="#2a2a2a">10<tspan font-size="4.2" dy="-3.1">&#8722;6</tspan></text>
<line x1="308.82" y1="277.2" x2="308.82" y2="279.4" stroke="#111" stroke-width="0.8"/>
<text transform="translate(312.12,290.4) rotate(-27)" font-size="6.6" text-anchor="end" fill="#2a2a2a">10<tspan font-size="4.2" dy="-3.1">&#8722;5</tspan></text>
<line x1="318.44" y1="277.2" x2="318.44" y2="279.4" stroke="#111" stroke-width="0.8"/>
<text transform="translate(321.74,290.4) rotate(-27)" font-size="6.6" text-anchor="end" fill="#2a2a2a">10<tspan font-size="4.2" dy="-3.1">&#8722;4</tspan></text>
<line x1="328.06" y1="277.2" x2="328.06" y2="279.4" stroke="#111" stroke-width="0.8"/>
<text transform="translate(331.36,290.4) rotate(-27)" font-size="6.6" text-anchor="end" fill="#2a2a2a">10<tspan font-size="4.2" dy="-3.1">&#8722;3</tspan></text>
<line x1="337.68" y1="277.2" x2="337.68" y2="279.4" stroke="#111" stroke-width="0.8"/>
<text transform="translate(340.98,290.4) rotate(-27)" font-size="6.6" text-anchor="end" fill="#2a2a2a">10<tspan font-size="4.2" dy="-3.1">&#8722;2</tspan></text>
<line x1="347.30" y1="277.2" x2="347.30" y2="279.4" stroke="#111" stroke-width="0.8"/>
<text transform="translate(350.60,290.4) rotate(-27)" font-size="6.6" text-anchor="end" fill="#2a2a2a">10<tspan font-size="4.2" dy="-3.1">&#8722;1</tspan></text>
<line x1="356.92" y1="277.2" x2="356.92" y2="279.4" stroke="#111" stroke-width="0.8"/>
<text transform="translate(360.22,290.4) rotate(-27)" font-size="6.6" text-anchor="end" fill="#2a2a2a">10<tspan font-size="4.2" dy="-3.1">0</tspan></text>
<line x1="366.54" y1="277.2" x2="366.54" y2="279.4" stroke="#111" stroke-width="0.8"/>
<text transform="translate(369.84,290.4) rotate(-27)" font-size="6.6" text-anchor="end" fill="#2a2a2a">10<tspan font-size="4.2" dy="-3.1">1</tspan></text>
<text transform="translate(335.25,307.2) scale(0.73,1)" font-size="8" font-weight="bold" text-anchor="middle" fill="#2a2a2a" stroke="#2a2a2a" stroke-width="0.15">[ADC] (nM)</text>
<text transform="translate(277.00,240.05) rotate(-90) scale(0.72,1)" font-size="7.8" font-weight="bold" text-anchor="middle" fill="#2a2a2a" stroke="#2a2a2a" stroke-width="0.15">% of Maximum</text>
<polyline points="301.12,212.43 301.98,212.43 302.84,212.43 303.70,212.43 304.56,212.43 305.42,212.43 306.28,212.43 307.14,212.43 308.00,212.43 308.86,212.43 309.72,212.43 310.58,212.43 311.44,212.43 312.30,212.43 313.16,212.43 314.02,212.43 314.88,212.43 315.74,212.43 316.60,212.43 317.46,212.43 318.32,212.44 319.18,212.44 320.04,212.44 320.90,212.44 321.76,212.44 322.62,212.44 323.48,212.45 324.34,212.45 325.20,212.46 326.06,212.46 326.92,212.47 327.78,212.48 328.64,212.49 329.50,212.50 330.36,212.51 331.22,212.53 332.08,212.56 332.94,212.58 333.80,212.62 334.66,212.66 335.52,212.72 336.38,212.78 337.24,212.86 338.09,212.96 338.95,213.08 339.81,213.22 340.67,213.40 341.53,213.62 342.39,213.88 343.25,214.20 344.11,214.60 344.97,215.07 345.83,215.64 346.69,216.33 347.55,217.16 348.41,218.14 349.27,219.31 350.13,220.68 350.99,222.28 351.85,224.13 352.71,226.23 353.57,228.60 354.43,231.22 355.29,234.08 356.15,237.13 357.01,240.35 357.87,243.65 358.73,246.98 359.59,250.26 360.45,253.43 361.31,256.44 362.17,259.23 363.03,261.77 363.89,264.06 364.75,266.09 365.61,267.86 366.47,269.38 367.33,270.69 368.19,271.80 369.05,272.74 369.91,273.52" fill="none" stroke="#6fb37c" stroke-width="0.9"/>
<rect x="304.45" y="212.09" width="2" height="2" fill="#3a6f4c"/>
<rect x="314.65" y="210.11" width="2" height="2" fill="#3a6f4c"/>
<rect x="324.27" y="211.43" width="2" height="2" fill="#3a6f4c"/>
<rect x="333.89" y="210.77" width="2" height="2" fill="#3a6f4c"/>
<rect x="343.51" y="212.75" width="2" height="2" fill="#3a6f4c"/>
<rect x="353.13" y="212.09" width="2" height="2" fill="#3a6f4c"/>
<rect x="362.75" y="274.22" width="2" height="2" fill="#3a6f4c"/>
<polyline points="301.12,212.43 301.98,212.43 302.84,212.43 303.70,212.43 304.56,212.43 305.42,212.43 306.28,212.43 307.14,212.43 308.00,212.43 308.86,212.43 309.72,212.43 310.58,212.43 311.44,212.43 312.30,212.43 313.16,212.43 314.02,212.43 314.88,212.43 315.74,212.43 316.60,212.43 317.46,212.44 318.32,212.44 319.18,212.44 320.04,212.44 320.90,212.44 321.76,212.44 322.62,212.45 323.48,212.45 324.34,212.45 325.20,212.46 326.06,212.47 326.92,212.47 327.78,212.48 328.64,212.50 329.50,212.51 330.36,212.53 331.22,212.55 332.08,212.58 332.94,212.61 333.80,212.65 334.66,212.70 335.52,212.77 336.38,212.84 337.24,212.93 338.09,213.05 338.95,213.19 339.81,213.36 340.67,213.57 341.53,213.82 342.39,214.13 343.25,214.50 344.11,214.96 344.97,215.51 345.83,216.17 346.69,216.97 347.55,217.92 348.41,219.04 349.27,220.37 350.13,221.91 350.99,223.70 351.85,225.75 352.71,228.06 353.57,230.63 354.43,233.44 355.29,236.46 356.15,239.64 357.01,242.93 357.87,246.26 358.73,249.56 359.59,252.76 360.45,255.80 361.31,258.64 362.17,261.24 363.03,263.59 363.89,265.67 364.75,267.49 365.61,269.07 366.47,270.43 367.33,271.58 368.19,272.55 369.05,273.36 369.91,274.04" fill="none" stroke="#36658f" stroke-width="0.9"/>
<rect x="304.45" y="212.75" width="2" height="2" fill="#1c3550"/>
<rect x="314.65" y="212.09" width="2" height="2" fill="#1c3550"/>
<rect x="324.27" y="212.09" width="2" height="2" fill="#1c3550"/>
<rect x="333.89" y="210.11" width="2" height="2" fill="#1c3550"/>
<rect x="343.51" y="214.07" width="2" height="2" fill="#1c3550"/>
<rect x="353.13" y="222.67" width="2" height="2" fill="#1c3550"/>
<rect x="362.75" y="273.56" width="2" height="2" fill="#1c3550"/>
<polyline points="301.12,215.08 301.98,215.08 302.84,215.08 303.70,215.08 304.56,215.08 305.42,215.08 306.28,215.09 307.14,215.09 308.00,215.09 308.86,215.10 309.72,215.10 310.58,215.11 311.44,215.12 312.30,215.13 313.16,215.14 314.02,215.15 314.88,215.17 315.74,215.19 316.60,215.22 317.46,215.25 318.32,215.29 319.18,215.34 320.04,215.40 320.90,215.48 321.76,215.57 322.62,215.68 323.48,215.82 324.34,215.99 325.20,216.19 326.06,216.44 326.92,216.74 327.78,217.11 328.64,217.56 329.50,218.10 330.36,218.75 331.22,219.53 332.08,220.46 332.94,221.56 333.80,222.86 334.66,224.37 335.52,226.12 336.38,228.12 337.24,230.36 338.09,232.86 338.95,235.58 339.81,238.50 340.67,241.57 341.53,244.73 342.39,247.92 343.25,251.08 344.11,254.13 344.97,257.03 345.83,259.73 346.69,262.19 347.55,264.41 348.41,266.37 349.27,268.09 350.13,269.58 350.99,270.85 351.85,271.93 352.71,272.84 353.57,273.61 354.43,274.24 355.29,274.77 356.15,275.21 357.01,275.57 357.87,275.87 358.73,276.11 359.59,276.31 360.45,276.47 361.31,276.61 362.17,276.72 363.03,276.81 363.89,276.88 364.75,276.94 365.61,276.99 366.47,277.03 367.33,277.06 368.19,277.08 369.05,277.11 369.91,277.12" fill="none" stroke="#c8405f" stroke-width="0.9"/>
<rect x="304.45" y="216.72" width="2" height="2" fill="#8e2038"/>
<rect x="314.65" y="218.04" width="2" height="2" fill="#8e2038"/>
<rect x="324.27" y="218.04" width="2" height="2" fill="#8e2038"/>
<rect x="333.89" y="218.70" width="2" height="2" fill="#8e2038"/>
<rect x="343.51" y="255.71" width="2" height="2" fill="#8e2038"/>
<rect x="353.13" y="273.56" width="2" height="2" fill="#8e2038"/>
<rect x="362.75" y="275.54" width="2" height="2" fill="#8e2038"/>
<path d="M425.4,201.5 V277.2 M422.4,277.2 H498.8" fill="none" stroke="#111" stroke-width="1.15"/>
<line x1="422.4" y1="277.20" x2="425.4" y2="277.20" stroke="#111" stroke-width="0.8"/>
<text transform="translate(419.20,279.40) scale(1,1.05)" font-size="6.3" text-anchor="end" font-weight="normal" fill="#2a2a2a" stroke="#2a2a2a" stroke-width="0.12" >0</text>
<line x1="422.4" y1="270.59" x2="425.4" y2="270.59" stroke="#111" stroke-width="0.8"/>
<text transform="translate(419.20,272.79) scale(1,1.05)" font-size="6.3" text-anchor="end" font-weight="normal" fill="#2a2a2a" stroke="#2a2a2a" stroke-width="0.12" >10</text>
<line x1="422.4" y1="263.98" x2="425.4" y2="263.98" stroke="#111" stroke-width="0.8"/>
<text transform="translate(419.20,266.18) scale(1,1.05)" font-size="6.3" text-anchor="end" font-weight="normal" fill="#2a2a2a" stroke="#2a2a2a" stroke-width="0.12" >20</text>
<line x1="422.4" y1="257.37" x2="425.4" y2="257.37" stroke="#111" stroke-width="0.8"/>
<text transform="translate(419.20,259.57) scale(1,1.05)" font-size="6.3" text-anchor="end" font-weight="normal" fill="#2a2a2a" stroke="#2a2a2a" stroke-width="0.12" >30</text>
<line x1="422.4" y1="250.76" x2="425.4" y2="250.76" stroke="#111" stroke-width="0.8"/>
<text transform="translate(419.20,252.96) scale(1,1.05)" font-size="6.3" text-anchor="end" font-weight="normal" fill="#2a2a2a" stroke="#2a2a2a" stroke-width="0.12" >40</text>
<line x1="422.4" y1="244.15" x2="425.4" y2="244.15" stroke="#111" stroke-width="0.8"/>
<text transform="translate(419.20,246.35) scale(1,1.05)" font-size="6.3" text-anchor="end" font-weight="normal" fill="#2a2a2a" stroke="#2a2a2a" stroke-width="0.12" >50</text>
<line x1="422.4" y1="237.55" x2="425.4" y2="237.55" stroke="#111" stroke-width="0.8"/>
<text transform="translate(419.20,239.75) scale(1,1.05)" font-size="6.3" text-anchor="end" font-weight="normal" fill="#2a2a2a" stroke="#2a2a2a" stroke-width="0.12" >60</text>
<line x1="422.4" y1="230.94" x2="425.4" y2="230.94" stroke="#111" stroke-width="0.8"/>
<text transform="translate(419.20,233.14) scale(1,1.05)" font-size="6.3" text-anchor="end" font-weight="normal" fill="#2a2a2a" stroke="#2a2a2a" stroke-width="0.12" >70</text>
<line x1="422.4" y1="224.33" x2="425.4" y2="224.33" stroke="#111" stroke-width="0.8"/>
<text transform="translate(419.20,226.53) scale(1,1.05)" font-size="6.3" text-anchor="end" font-weight="normal" fill="#2a2a2a" stroke="#2a2a2a" stroke-width="0.12" >80</text>
<line x1="422.4" y1="217.72" x2="425.4" y2="217.72" stroke="#111" stroke-width="0.8"/>
<text transform="translate(419.20,219.92) scale(1,1.05)" font-size="6.3" text-anchor="end" font-weight="normal" fill="#2a2a2a" stroke="#2a2a2a" stroke-width="0.12" >90</text>
<line x1="422.4" y1="211.11" x2="425.4" y2="211.11" stroke="#111" stroke-width="0.8"/>
<text transform="translate(419.20,213.31) scale(1,1.05)" font-size="6.3" text-anchor="end" font-weight="normal" fill="#2a2a2a" stroke="#2a2a2a" stroke-width="0.12" >100</text>
<line x1="422.4" y1="204.50" x2="425.4" y2="204.50" stroke="#111" stroke-width="0.8"/>
<text transform="translate(419.20,206.70) scale(1,1.05)" font-size="6.3" text-anchor="end" font-weight="normal" fill="#2a2a2a" stroke="#2a2a2a" stroke-width="0.12" >110</text>
<line x1="425.40" y1="277.2" x2="425.40" y2="279.4" stroke="#111" stroke-width="0.8"/>
<text transform="translate(428.70,290.4) rotate(-27)" font-size="6.6" text-anchor="end" fill="#2a2a2a">10<tspan font-size="4.2" dy="-3.1">&#8722;6</tspan></text>
<line x1="435.23" y1="277.2" x2="435.23" y2="279.4" stroke="#111" stroke-width="0.8"/>
<text transform="translate(438.53,290.4) rotate(-27)" font-size="6.6" text-anchor="end" fill="#2a2a2a">10<tspan font-size="4.2" dy="-3.1">&#8722;5</tspan></text>
<line x1="445.06" y1="277.2" x2="445.06" y2="279.4" stroke="#111" stroke-width="0.8"/>
<text transform="translate(448.36,290.4) rotate(-27)" font-size="6.6" text-anchor="end" fill="#2a2a2a">10<tspan font-size="4.2" dy="-3.1">&#8722;4</tspan></text>
<line x1="454.89" y1="277.2" x2="454.89" y2="279.4" stroke="#111" stroke-width="0.8"/>
<text transform="translate(458.19,290.4) rotate(-27)" font-size="6.6" text-anchor="end" fill="#2a2a2a">10<tspan font-size="4.2" dy="-3.1">&#8722;3</tspan></text>
<line x1="464.72" y1="277.2" x2="464.72" y2="279.4" stroke="#111" stroke-width="0.8"/>
<text transform="translate(468.02,290.4) rotate(-27)" font-size="6.6" text-anchor="end" fill="#2a2a2a">10<tspan font-size="4.2" dy="-3.1">&#8722;2</tspan></text>
<line x1="474.55" y1="277.2" x2="474.55" y2="279.4" stroke="#111" stroke-width="0.8"/>
<text transform="translate(477.85,290.4) rotate(-27)" font-size="6.6" text-anchor="end" fill="#2a2a2a">10<tspan font-size="4.2" dy="-3.1">&#8722;1</tspan></text>
<line x1="484.38" y1="277.2" x2="484.38" y2="279.4" stroke="#111" stroke-width="0.8"/>
<text transform="translate(487.68,290.4) rotate(-27)" font-size="6.6" text-anchor="end" fill="#2a2a2a">10<tspan font-size="4.2" dy="-3.1">0</tspan></text>
<line x1="494.21" y1="277.2" x2="494.21" y2="279.4" stroke="#111" stroke-width="0.8"/>
<text transform="translate(497.51,290.4) rotate(-27)" font-size="6.6" text-anchor="end" fill="#2a2a2a">10<tspan font-size="4.2" dy="-3.1">1</tspan></text>
<text transform="translate(462.10,307.2) scale(0.73,1)" font-size="8" font-weight="bold" text-anchor="middle" fill="#2a2a2a" stroke="#2a2a2a" stroke-width="0.15">[ADC] (nM)</text>
<text transform="translate(403.20,240.05) rotate(-90) scale(0.72,1)" font-size="7.8" font-weight="bold" text-anchor="middle" fill="#2a2a2a" stroke="#2a2a2a" stroke-width="0.15">% of Maximum</text>
<polyline points="428.35,214.41 438.38,215.07 447.91,215.07 457.74,212.43 467.37,215.07 477.30,215.07 486.94,211.11 496.86,213.09" fill="none" stroke="#6fb37c" stroke-width="0.9"/>
<line x1="428.35" y1="216.40" x2="428.35" y2="212.43" stroke="#6fb37c" stroke-width="0.6" opacity="0.55"/>
<rect x="427.35" y="213.41" width="2" height="2" fill="#3a6f4c"/>
<line x1="438.38" y1="217.06" x2="438.38" y2="213.09" stroke="#6fb37c" stroke-width="0.6" opacity="0.55"/>
<rect x="437.38" y="214.07" width="2" height="2" fill="#3a6f4c"/>
<line x1="447.91" y1="217.06" x2="447.91" y2="213.09" stroke="#6fb37c" stroke-width="0.6" opacity="0.55"/>
<rect x="446.91" y="214.07" width="2" height="2" fill="#3a6f4c"/>
<line x1="457.74" y1="214.41" x2="457.74" y2="210.45" stroke="#6fb37c" stroke-width="0.6" opacity="0.55"/>
<rect x="456.74" y="211.43" width="2" height="2" fill="#3a6f4c"/>
<line x1="467.37" y1="217.06" x2="467.37" y2="213.09" stroke="#6fb37c" stroke-width="0.6" opacity="0.55"/>
<rect x="466.37" y="214.07" width="2" height="2" fill="#3a6f4c"/>
<line x1="477.30" y1="217.06" x2="477.30" y2="213.09" stroke="#6fb37c" stroke-width="0.6" opacity="0.55"/>
<rect x="476.30" y="214.07" width="2" height="2" fill="#3a6f4c"/>
<line x1="486.94" y1="213.09" x2="486.94" y2="209.13" stroke="#6fb37c" stroke-width="0.6" opacity="0.55"/>
<rect x="485.94" y="210.11" width="2" height="2" fill="#3a6f4c"/>
<line x1="496.86" y1="215.07" x2="496.86" y2="211.11" stroke="#6fb37c" stroke-width="0.6" opacity="0.55"/>
<rect x="495.86" y="212.09" width="2" height="2" fill="#3a6f4c"/>
<polyline points="428.35,213.09 438.38,213.09 447.91,213.09 457.74,212.43 467.37,211.11 477.30,211.77 486.94,211.77 496.86,214.41" fill="none" stroke="#36658f" stroke-width="0.9"/>
<line x1="428.35" y1="214.41" x2="428.35" y2="211.77" stroke="#36658f" stroke-width="0.6" opacity="0.55"/>
<rect x="427.35" y="212.09" width="2" height="2" fill="#1c3550"/>
<line x1="438.38" y1="214.41" x2="438.38" y2="211.77" stroke="#36658f" stroke-width="0.6" opacity="0.55"/>
<rect x="437.38" y="212.09" width="2" height="2" fill="#1c3550"/>
<line x1="447.91" y1="214.41" x2="447.91" y2="211.77" stroke="#36658f" stroke-width="0.6" opacity="0.55"/>
<rect x="446.91" y="212.09" width="2" height="2" fill="#1c3550"/>
<line x1="457.74" y1="213.75" x2="457.74" y2="211.11" stroke="#36658f" stroke-width="0.6" opacity="0.55"/>
<rect x="456.74" y="211.43" width="2" height="2" fill="#1c3550"/>
<line x1="467.37" y1="212.43" x2="467.37" y2="209.79" stroke="#36658f" stroke-width="0.6" opacity="0.55"/>
<rect x="466.37" y="210.11" width="2" height="2" fill="#1c3550"/>
<line x1="477.30" y1="213.09" x2="477.30" y2="210.45" stroke="#36658f" stroke-width="0.6" opacity="0.55"/>
<rect x="476.30" y="210.77" width="2" height="2" fill="#1c3550"/>
<line x1="486.94" y1="213.09" x2="486.94" y2="210.45" stroke="#36658f" stroke-width="0.6" opacity="0.55"/>
<rect x="485.94" y="210.77" width="2" height="2" fill="#1c3550"/>
<line x1="496.86" y1="215.74" x2="496.86" y2="213.09" stroke="#36658f" stroke-width="0.6" opacity="0.55"/>
<rect x="495.86" y="213.41" width="2" height="2" fill="#1c3550"/>
<polyline points="428.35,211.11 429.21,211.11 430.06,211.11 430.92,211.11 431.77,211.11 432.63,211.11 433.49,211.11 434.34,211.12 435.20,211.12 436.06,211.12 436.91,211.12 437.77,211.12 438.63,211.13 439.48,211.13 440.34,211.14 441.20,211.14 442.05,211.15 442.91,211.16 443.76,211.17 444.62,211.18 445.48,211.20 446.33,211.22 447.19,211.25 448.05,211.28 448.90,211.31 449.76,211.36 450.62,211.41 451.47,211.48 452.33,211.56 453.19,211.66 454.04,211.78 454.90,211.93 455.76,212.11 456.61,212.33 457.47,212.60 458.32,212.92 459.18,213.31 460.04,213.78 460.89,214.34 461.75,215.01 462.61,215.82 463.46,216.78 464.32,217.91 465.18,219.23 466.03,220.77 466.89,222.54 467.75,224.57 468.60,226.85 469.46,229.38 470.31,232.14 471.17,235.12 472.03,238.26 472.88,241.52 473.74,244.82 474.60,248.12 475.45,251.34 476.31,254.42 477.17,257.31 478.02,259.99 478.88,262.42 479.74,264.59 480.59,266.51 481.45,268.19 482.30,269.64 483.16,270.88 484.02,271.94 484.87,272.83 485.73,273.58 486.59,274.21 487.44,274.73 488.30,275.17 489.16,275.53 490.01,275.83 490.87,276.07 491.73,276.27 492.58,276.44 493.44,276.58 494.29,276.69 495.15,276.78 496.01,276.86 496.86,276.92" fill="none" stroke="#c8405f" stroke-width="0.9"/>
<line x1="428.35" y1="213.75" x2="428.35" y2="211.11" stroke="#c8405f" stroke-width="0.6" opacity="0.55"/>
<rect x="427.35" y="211.43" width="2" height="2" fill="#8e2038"/>
<line x1="438.38" y1="213.09" x2="438.38" y2="210.45" stroke="#c8405f" stroke-width="0.6" opacity="0.55"/>
<rect x="437.38" y="210.77" width="2" height="2" fill="#8e2038"/>
<line x1="447.91" y1="213.09" x2="447.91" y2="210.45" stroke="#c8405f" stroke-width="0.6" opacity="0.55"/>
<rect x="446.91" y="210.77" width="2" height="2" fill="#8e2038"/>
<line x1="457.74" y1="213.09" x2="457.74" y2="210.45" stroke="#c8405f" stroke-width="0.6" opacity="0.55"/>
<rect x="456.74" y="210.77" width="2" height="2" fill="#8e2038"/>
<line x1="477.30" y1="268.61" x2="477.30" y2="265.96" stroke="#c8405f" stroke-width="0.6" opacity="0.55"/>
<rect x="476.30" y="266.29" width="2" height="2" fill="#8e2038"/>
<line x1="486.94" y1="276.54" x2="486.94" y2="273.90" stroke="#c8405f" stroke-width="0.6" opacity="0.55"/>
<rect x="485.94" y="274.22" width="2" height="2" fill="#8e2038"/>
<line x1="496.86" y1="275.22" x2="496.86" y2="272.57" stroke="#c8405f" stroke-width="0.6" opacity="0.55"/>
<rect x="495.86" y="272.90" width="2" height="2" fill="#8e2038"/>
<text transform="translate(7.00,331.80) scale(1,1.05)" font-size="11.2" text-anchor="start" font-weight="bold" fill="#000" stroke="#000" stroke-width="0" >C</text>
<text transform="translate(260.10,329.50) scale(1,1.05)" font-size="8.1" text-anchor="middle" font-weight="normal" fill="#2a2a2a" stroke="#2a2a2a" stroke-width="0.12" text-decoration="underline">B6 HSC killing</text>
<text transform="translate(99.80,340.00) scale(1,1.05)" font-size="6.3" text-anchor="middle" font-weight="normal" fill="#2a2a2a" stroke="#2a2a2a" stroke-width="0.12" text-decoration="underline">IC50 Mean ± SEM</text>
<ellipse cx="20.40" cy="348.10" rx="1.9" ry="0.8" fill="#5a1d2e"/>
<ellipse cx="20.40" cy="358.10" rx="1.9" ry="0.8" fill="#18283a"/>
<ellipse cx="20.40" cy="375.60" rx="1.9" ry="0.8" fill="#6b9a80"/>
<text transform="translate(24.90,350.20) scale(1,1.05)" font-size="6.3" text-anchor="start" font-weight="normal" fill="#2a2a2a" stroke="#2a2a2a" stroke-width="0.12" >CD45.2-MMAE</text>
<text transform="translate(24.90,360.20) scale(1,1.05)" font-size="6.3" text-anchor="start" font-weight="normal" fill="#2a2a2a" stroke="#2a2a2a" stroke-width="0.12" >CD45.2nb +</text>
<text transform="translate(24.90,368.40) scale(1,1.05)" font-size="6.3" text-anchor="start" font-weight="normal" fill="#2a2a2a" stroke="#2a2a2a" stroke-width="0.12" >free MMAE</text>
<text transform="translate(24.90,377.70) scale(1,1.05)" font-size="6.3" text-anchor="start" font-weight="normal" fill="#2a2a2a" stroke="#2a2a2a" stroke-width="0.12" >CD45.1-MMAE</text>
<text transform="translate(99.80,350.20) scale(1,1.05)" font-size="6.3" text-anchor="middle" font-weight="normal" fill="#2a2a2a" stroke="#2a2a2a" stroke-width="0.12" >No IC50</text>
<text transform="translate(99.80,364.30) scale(1,1.05)" font-size="6.3" text-anchor="middle" font-weight="normal" fill="#2a2a2a" stroke="#2a2a2a" stroke-width="0.12" >No IC50</text>
<text transform="translate(99.80,377.70) scale(1,1.05)" font-size="6.3" text-anchor="middle" font-weight="normal" fill="#2a2a2a" stroke="#2a2a2a" stroke-width="0.12" >No IC50</text>
<text transform="translate(230.00,340.00) scale(1,1.05)" font-size="6.3" text-anchor="middle" font-weight="normal" fill="#2a2a2a" stroke="#2a2a2a" stroke-width="0.12" text-decoration="underline">IC50 Mean ± SEM</text>
<ellipse cx="155.30" cy="348.10" rx="1.9" ry="0.8" fill="#5a1d2e"/>
<ellipse cx="155.30" cy="358.10" rx="1.9" ry="0.8" fill="#18283a"/>
<ellipse cx="155.30" cy="375.60" rx="1.9" ry="0.8" fill="#6b9a80"/>
<text transform="translate(160.00,350.20) scale(1,1.05)" font-size="6.3" text-anchor="start" font-weight="normal" fill="#2a2a2a" stroke="#2a2a2a" stroke-width="0.12" >CD45.2-DUO</text>
<text transform="translate(160.00,360.20) scale(1,1.05)" font-size="6.3" text-anchor="start" font-weight="normal" fill="#2a2a2a" stroke="#2a2a2a" stroke-width="0.12" >CD45.2nb +</text>
<text transform="translate(160.00,368.40) scale(1,1.05)" font-size="6.3" text-anchor="start" font-weight="normal" fill="#2a2a2a" stroke="#2a2a2a" stroke-width="0.12" >free DUO</text>
<text transform="translate(160.00,377.70) scale(1,1.05)" font-size="6.3" text-anchor="start" font-weight="normal" fill="#2a2a2a" stroke="#2a2a2a" stroke-width="0.12" >CD45.1-DUO</text>
<text transform="translate(230.00,350.20) scale(1,1.05)" font-size="6.3" text-anchor="middle" font-weight="normal" fill="#2a2a2a" stroke="#2a2a2a" stroke-width="0.12" >1.9 ± 0.2 nM</text>
<text transform="translate(230.00,364.30) scale(1,1.05)" font-size="6.3" text-anchor="middle" font-weight="normal" fill="#2a2a2a" stroke="#2a2a2a" stroke-width="0.12" >33.5 ± 7.9 nM</text>
<text transform="translate(230.00,377.70) scale(1,1.05)" font-size="6.3" text-anchor="middle" font-weight="normal" fill="#2a2a2a" stroke="#2a2a2a" stroke-width="0.12" >7.8 ± 0.83 nM</text>
<text transform="translate(358.50,340.00) scale(1,1.05)" font-size="6.3" text-anchor="middle" font-weight="normal" fill="#2a2a2a" stroke="#2a2a2a" stroke-width="0.12" text-decoration="underline">IC50 Mean ± SEM</text>
<ellipse cx="286.60" cy="348.10" rx="1.9" ry="0.8" fill="#5a1d2e"/>
<ellipse cx="286.60" cy="358.10" rx="1.9" ry="0.8" fill="#18283a"/>
<ellipse cx="286.60" cy="375.60" rx="1.9" ry="0.8" fill="#6b9a80"/>
<text transform="translate(291.20,350.20) scale(1,1.05)" font-size="6.3" text-anchor="start" font-weight="normal" fill="#2a2a2a" stroke="#2a2a2a" stroke-width="0.12" >CD45.2-PNU</text>
<text transform="translate(291.20,360.20) scale(1,1.05)" font-size="6.3" text-anchor="start" font-weight="normal" fill="#2a2a2a" stroke="#2a2a2a" stroke-width="0.12" >CD45.2nb +</text>
<text transform="translate(291.20,368.40) scale(1,1.05)" font-size="6.3" text-anchor="start" font-weight="normal" fill="#2a2a2a" stroke="#2a2a2a" stroke-width="0.12" >free PNU</text>
<text transform="translate(291.20,377.70) scale(1,1.05)" font-size="6.3" text-anchor="start" font-weight="normal" fill="#2a2a2a" stroke="#2a2a2a" stroke-width="0.12" >CD45.1-PNU</text>
<text transform="translate(358.50,350.20) scale(1,1.05)" font-size="6.3" text-anchor="middle" font-weight="normal" fill="#2a2a2a" stroke="#2a2a2a" stroke-width="0.12" >105.2 ± 7.3 pM</text>
<text transform="translate(358.50,364.30) scale(1,1.05)" font-size="6.3" text-anchor="middle" font-weight="normal" fill="#2a2a2a" stroke="#2a2a2a" stroke-width="0.12" >2.9 ± 0.3 nM</text>
<text transform="translate(358.50,377.70) scale(1,1.05)" font-size="6.3" text-anchor="middle" font-weight="normal" fill="#2a2a2a" stroke="#2a2a2a" stroke-width="0.12" >2.6 ± 0.1 nM</text>
<text transform="translate(485.70,340.00) scale(1,1.05)" font-size="6.3" text-anchor="middle" font-weight="normal" fill="#2a2a2a" stroke="#2a2a2a" stroke-width="0.12" text-decoration="underline">IC50 Mean ± SEM</text>
<ellipse cx="412.80" cy="348.10" rx="1.9" ry="0.8" fill="#5a1d2e"/>
<ellipse cx="412.80" cy="358.10" rx="1.9" ry="0.8" fill="#18283a"/>
<ellipse cx="412.80" cy="375.60" rx="1.9" ry="0.8" fill="#6b9a80"/>
<text transform="translate(417.00,350.20) scale(1,1.05)" font-size="6.3" text-anchor="start" font-weight="normal" fill="#2a2a2a" stroke="#2a2a2a" stroke-width="0.12" >CD45.2-PBD</text>
<text transform="translate(417.00,360.20) scale(1,1.05)" font-size="6.3" text-anchor="start" font-weight="normal" fill="#2a2a2a" stroke="#2a2a2a" stroke-width="0.12" >CD45.2nb +</text>
<text transform="translate(417.00,368.40) scale(1,1.05)" font-size="6.3" text-anchor="start" font-weight="normal" fill="#2a2a2a" stroke="#2a2a2a" stroke-width="0.12" >free PBD</text>
<text transform="translate(417.00,377.70) scale(1,1.05)" font-size="6.3" text-anchor="start" font-weight="normal" fill="#2a2a2a" stroke="#2a2a2a" stroke-width="0.12" >CD45.1 PBD</text>
<text transform="translate(485.70,350.20) scale(1,1.05)" font-size="6.3" text-anchor="middle" font-weight="normal" fill="#2a2a2a" stroke="#2a2a2a" stroke-width="0.12" >23.2 ± 4.1 pM</text>
<text transform="translate(485.70,364.30) scale(1,1.05)" font-size="6.3" text-anchor="middle" font-weight="normal" fill="#2a2a2a" stroke="#2a2a2a" stroke-width="0.12" >41.1 ± 11 nM</text>
<text transform="translate(485.70,377.70) scale(1,1.05)" font-size="6.3" text-anchor="middle" font-weight="normal" fill="#2a2a2a" stroke="#2a2a2a" stroke-width="0.12" >7.1 ± 0.72 nM</text>
<path d="M35.8,382.3 V456.3 M32.8,456.3 H107.3" fill="none" stroke="#111" stroke-width="1.15"/>
<line x1="32.8" y1="456.30" x2="35.8" y2="456.30" stroke="#111" stroke-width="0.8"/>
<text transform="translate(29.60,458.50) scale(1,1.05)" font-size="6.3" text-anchor="end" font-weight="normal" fill="#2a2a2a" stroke="#2a2a2a" stroke-width="0.12" >0</text>
<line x1="32.8" y1="449.85" x2="35.8" y2="449.85" stroke="#111" stroke-width="0.8"/>
<text transform="translate(29.60,452.05) scale(1,1.05)" font-size="6.3" text-anchor="end" font-weight="normal" fill="#2a2a2a" stroke="#2a2a2a" stroke-width="0.12" >10</text>
<line x1="32.8" y1="443.39" x2="35.8" y2="443.39" stroke="#111" stroke-width="0.8"/>
<text transform="translate(29.60,445.59) scale(1,1.05)" font-size="6.3" text-anchor="end" font-weight="normal" fill="#2a2a2a" stroke="#2a2a2a" stroke-width="0.12" >20</text>
<line x1="32.8" y1="436.94" x2="35.8" y2="436.94" stroke="#111" stroke-width="0.8"/>
<text transform="translate(29.60,439.14) scale(1,1.05)" font-size="6.3" text-anchor="end" font-weight="normal" fill="#2a2a2a" stroke="#2a2a2a" stroke-width="0.12" >30</text>
<line x1="32.8" y1="430.48" x2="35.8" y2="430.48" stroke="#111" stroke-width="0.8"/>
<text transform="translate(29.60,432.68) scale(1,1.05)" font-size="6.3" text-anchor="end" font-weight="normal" fill="#2a2a2a" stroke="#2a2a2a" stroke-width="0.12" >40</text>
<line x1="32.8" y1="424.03" x2="35.8" y2="424.03" stroke="#111" stroke-width="0.8"/>
<text transform="translate(29.60,426.23) scale(1,1.05)" font-size="6.3" text-anchor="end" font-weight="normal" fill="#2a2a2a" stroke="#2a2a2a" stroke-width="0.12" >50</text>
<line x1="32.8" y1="417.57" x2="35.8" y2="417.57" stroke="#111" stroke-width="0.8"/>
<text transform="translate(29.60,419.77) scale(1,1.05)" font-size="6.3" text-anchor="end" font-weight="normal" fill="#2a2a2a" stroke="#2a2a2a" stroke-width="0.12" >60</text>
<line x1="32.8" y1="411.12" x2="35.8" y2="411.12" stroke="#111" stroke-width="0.8"/>
<text transform="translate(29.60,413.32) scale(1,1.05)" font-size="6.3" text-anchor="end" font-weight="normal" fill="#2a2a2a" stroke="#2a2a2a" stroke-width="0.12" >70</text>
<line x1="32.8" y1="404.66" x2="35.8" y2="404.66" stroke="#111" stroke-width="0.8"/>
<text transform="translate(29.60,406.86) scale(1,1.05)" font-size="6.3" text-anchor="end" font-weight="normal" fill="#2a2a2a" stroke="#2a2a2a" stroke-width="0.12" >80</text>
<line x1="32.8" y1="398.21" x2="35.8" y2="398.21" stroke="#111" stroke-width="0.8"/>
<text transform="translate(29.60,400.41) scale(1,1.05)" font-size="6.3" text-anchor="end" font-weight="normal" fill="#2a2a2a" stroke="#2a2a2a" stroke-width="0.12" >90</text>
<line x1="32.8" y1="391.75" x2="35.8" y2="391.75" stroke="#111" stroke-width="0.8"/>
<text transform="translate(29.60,393.95) scale(1,1.05)" font-size="6.3" text-anchor="end" font-weight="normal" fill="#2a2a2a" stroke="#2a2a2a" stroke-width="0.12" >100</text>
<line x1="32.8" y1="385.30" x2="35.8" y2="385.30" stroke="#111" stroke-width="0.8"/>
<text transform="translate(29.60,387.50) scale(1,1.05)" font-size="6.3" text-anchor="end" font-weight="normal" fill="#2a2a2a" stroke="#2a2a2a" stroke-width="0.12" >110</text>
<line x1="35.80" y1="456.3" x2="35.80" y2="458.5" stroke="#111" stroke-width="0.8"/>
<text transform="translate(39.10,469.5) rotate(-27)" font-size="6.6" text-anchor="end" fill="#2a2a2a">10<tspan font-size="4.2" dy="-3.1">&#8722;4</tspan></text>
<line x1="49.65" y1="456.3" x2="49.65" y2="458.5" stroke="#111" stroke-width="0.8"/>
<text transform="translate(52.95,469.5) rotate(-27)" font-size="6.6" text-anchor="end" fill="#2a2a2a">10<tspan font-size="4.2" dy="-3.1">&#8722;3</tspan></text>
<line x1="63.50" y1="456.3" x2="63.50" y2="458.5" stroke="#111" stroke-width="0.8"/>
<text transform="translate(66.80,469.5) rotate(-27)" font-size="6.6" text-anchor="end" fill="#2a2a2a">10<tspan font-size="4.2" dy="-3.1">&#8722;2</tspan></text>
<line x1="77.35" y1="456.3" x2="77.35" y2="458.5" stroke="#111" stroke-width="0.8"/>
<text transform="translate(80.65,469.5) rotate(-27)" font-size="6.6" text-anchor="end" fill="#2a2a2a">10<tspan font-size="4.2" dy="-3.1">&#8722;1</tspan></text>
<line x1="91.20" y1="456.3" x2="91.20" y2="458.5" stroke="#111" stroke-width="0.8"/>
<text transform="translate(94.50,469.5) rotate(-27)" font-size="6.6" text-anchor="end" fill="#2a2a2a">10<tspan font-size="4.2" dy="-3.1">0</tspan></text>
<line x1="105.05" y1="456.3" x2="105.05" y2="458.5" stroke="#111" stroke-width="0.8"/>
<text transform="translate(108.35,469.5) rotate(-27)" font-size="6.6" text-anchor="end" fill="#2a2a2a">10<tspan font-size="4.2" dy="-3.1">1</tspan></text>
<text transform="translate(71.55,486.3) scale(0.73,1)" font-size="8" font-weight="bold" text-anchor="middle" fill="#2a2a2a" stroke="#2a2a2a" stroke-width="0.15">[ADC] (nM)</text>
<text transform="translate(13.60,420.00) rotate(-90) scale(0.72,1)" font-size="7.8" font-weight="bold" text-anchor="middle" fill="#2a2a2a" stroke="#2a2a2a" stroke-width="0.15">% of Maximum</text>
<polyline points="35.80,396.92 49.65,391.75 63.50,400.79 77.35,394.34 91.20,396.27 105.05,398.21" fill="none" stroke="#6fb37c" stroke-width="0.9"/>
<line x1="35.80" y1="398.85" x2="35.80" y2="394.98" stroke="#6fb37c" stroke-width="0.6" opacity="0.55"/>
<rect x="34.80" y="395.92" width="2" height="2" fill="#3a6f4c"/>
<line x1="49.65" y1="395.63" x2="49.65" y2="387.88" stroke="#6fb37c" stroke-width="0.6" opacity="0.55"/>
<rect x="48.65" y="390.75" width="2" height="2" fill="#3a6f4c"/>
<line x1="63.50" y1="407.89" x2="63.50" y2="393.69" stroke="#6fb37c" stroke-width="0.6" opacity="0.55"/>
<rect x="62.50" y="399.79" width="2" height="2" fill="#3a6f4c"/>
<line x1="77.35" y1="400.15" x2="77.35" y2="388.53" stroke="#6fb37c" stroke-width="0.6" opacity="0.55"/>
<rect x="76.35" y="393.34" width="2" height="2" fill="#3a6f4c"/>
<line x1="91.20" y1="399.50" x2="91.20" y2="393.05" stroke="#6fb37c" stroke-width="0.6" opacity="0.55"/>
<rect x="90.20" y="395.27" width="2" height="2" fill="#3a6f4c"/>
<line x1="105.05" y1="405.31" x2="105.05" y2="391.11" stroke="#6fb37c" stroke-width="0.6" opacity="0.55"/>
<rect x="104.05" y="397.21" width="2" height="2" fill="#3a6f4c"/>
<polyline points="35.80,393.69 49.65,391.75 63.50,401.44 77.35,400.15 91.20,396.92 105.05,392.40" fill="none" stroke="#36658f" stroke-width="0.9"/>
<line x1="35.80" y1="398.85" x2="35.80" y2="388.53" stroke="#36658f" stroke-width="0.6" opacity="0.55"/>
<rect x="34.80" y="392.69" width="2" height="2" fill="#1c3550"/>
<line x1="49.65" y1="396.92" x2="49.65" y2="386.59" stroke="#36658f" stroke-width="0.6" opacity="0.55"/>
<rect x="48.65" y="390.75" width="2" height="2" fill="#1c3550"/>
<line x1="63.50" y1="406.60" x2="63.50" y2="396.27" stroke="#36658f" stroke-width="0.6" opacity="0.55"/>
<rect x="62.50" y="400.44" width="2" height="2" fill="#1c3550"/>
<line x1="77.35" y1="405.31" x2="77.35" y2="394.98" stroke="#36658f" stroke-width="0.6" opacity="0.55"/>
<rect x="76.35" y="399.15" width="2" height="2" fill="#1c3550"/>
<line x1="91.20" y1="402.08" x2="91.20" y2="391.75" stroke="#36658f" stroke-width="0.6" opacity="0.55"/>
<rect x="90.20" y="395.92" width="2" height="2" fill="#1c3550"/>
<line x1="105.05" y1="397.56" x2="105.05" y2="387.24" stroke="#36658f" stroke-width="0.6" opacity="0.55"/>
<rect x="104.05" y="391.40" width="2" height="2" fill="#1c3550"/>
<polyline points="35.80,396.92 49.65,396.92 63.50,400.15 77.35,391.75 91.20,396.27 105.05,393.05" fill="none" stroke="#c8405f" stroke-width="0.9"/>
<line x1="35.80" y1="398.21" x2="35.80" y2="395.63" stroke="#c8405f" stroke-width="0.6" opacity="0.55"/>
<rect x="34.80" y="395.92" width="2" height="2" fill="#8e2038"/>
<line x1="49.65" y1="402.08" x2="49.65" y2="391.75" stroke="#c8405f" stroke-width="0.6" opacity="0.55"/>
<rect x="48.65" y="395.92" width="2" height="2" fill="#8e2038"/>
<line x1="63.50" y1="405.95" x2="63.50" y2="394.34" stroke="#c8405f" stroke-width="0.6" opacity="0.55"/>
<rect x="62.50" y="399.15" width="2" height="2" fill="#8e2038"/>
<line x1="77.35" y1="396.92" x2="77.35" y2="386.59" stroke="#c8405f" stroke-width="0.6" opacity="0.55"/>
<rect x="76.35" y="390.75" width="2" height="2" fill="#8e2038"/>
<line x1="91.20" y1="400.15" x2="91.20" y2="392.40" stroke="#c8405f" stroke-width="0.6" opacity="0.55"/>
<rect x="90.20" y="395.27" width="2" height="2" fill="#8e2038"/>
<line x1="105.05" y1="398.21" x2="105.05" y2="387.88" stroke="#c8405f" stroke-width="0.6" opacity="0.55"/>
<rect x="104.05" y="392.05" width="2" height="2" fill="#8e2038"/>
<path d="M169,382.3 V456.3 M166,456.3 H241" fill="none" stroke="#111" stroke-width="1.15"/>
<line x1="166" y1="456.30" x2="169" y2="456.30" stroke="#111" stroke-width="0.8"/>
<text transform="translate(162.80,458.50) scale(1,1.05)" font-size="6.3" text-anchor="end" font-weight="normal" fill="#2a2a2a" stroke="#2a2a2a" stroke-width="0.12" >0</text>
<line x1="166" y1="449.85" x2="169" y2="449.85" stroke="#111" stroke-width="0.8"/>
<text transform="translate(162.80,452.05) scale(1,1.05)" font-size="6.3" text-anchor="end" font-weight="normal" fill="#2a2a2a" stroke="#2a2a2a" stroke-width="0.12" >10</text>
<line x1="166" y1="443.39" x2="169" y2="443.39" stroke="#111" stroke-width="0.8"/>
<text transform="translate(162.80,445.59) scale(1,1.05)" font-size="6.3" text-anchor="end" font-weight="normal" fill="#2a2a2a" stroke="#2a2a2a" stroke-width="0.12" >20</text>
<line x1="166" y1="436.94" x2="169" y2="436.94" stroke="#111" stroke-width="0.8"/>
<text transform="translate(162.80,439.14) scale(1,1.05)" font-size="6.3" text-anchor="end" font-weight="normal" fill="#2a2a2a" stroke="#2a2a2a" stroke-width="0.12" >30</text>
<line x1="166" y1="430.48" x2="169" y2="430.48" stroke="#111" stroke-width="0.8"/>
<text transform="translate(162.80,432.68) scale(1,1.05)" font-size="6.3" text-anchor="end" font-weight="normal" fill="#2a2a2a" stroke="#2a2a2a" stroke-width="0.12" >40</text>
<line x1="166" y1="424.03" x2="169" y2="424.03" stroke="#111" stroke-width="0.8"/>
<text transform="translate(162.80,426.23) scale(1,1.05)" font-size="6.3" text-anchor="end" font-weight="normal" fill="#2a2a2a" stroke="#2a2a2a" stroke-width="0.12" >50</text>
<line x1="166" y1="417.57" x2="169" y2="417.57" stroke="#111" stroke-width="0.8"/>
<text transform="translate(162.80,419.77) scale(1,1.05)" font-size="6.3" text-anchor="end" font-weight="normal" fill="#2a2a2a" stroke="#2a2a2a" stroke-width="0.12" >60</text>
<line x1="166" y1="411.12" x2="169" y2="411.12" stroke="#111" stroke-width="0.8"/>
<text transform="translate(162.80,413.32) scale(1,1.05)" font-size="6.3" text-anchor="end" font-weight="normal" fill="#2a2a2a" stroke="#2a2a2a" stroke-width="0.12" >70</text>
<line x1="166" y1="404.66" x2="169" y2="404.66" stroke="#111" stroke-width="0.8"/>
<text transform="translate(162.80,406.86) scale(1,1.05)" font-size="6.3" text-anchor="end" font-weight="normal" fill="#2a2a2a" stroke="#2a2a2a" stroke-width="0.12" >80</text>
<line x1="166" y1="398.21" x2="169" y2="398.21" stroke="#111" stroke-width="0.8"/>
<text transform="translate(162.80,400.41) scale(1,1.05)" font-size="6.3" text-anchor="end" font-weight="normal" fill="#2a2a2a" stroke="#2a2a2a" stroke-width="0.12" >90</text>
<line x1="166" y1="391.75" x2="169" y2="391.75" stroke="#111" stroke-width="0.8"/>
<text transform="translate(162.80,393.95) scale(1,1.05)" font-size="6.3" text-anchor="end" font-weight="normal" fill="#2a2a2a" stroke="#2a2a2a" stroke-width="0.12" >100</text>
<line x1="166" y1="385.30" x2="169" y2="385.30" stroke="#111" stroke-width="0.8"/>
<text transform="translate(162.80,387.50) scale(1,1.05)" font-size="6.3" text-anchor="end" font-weight="normal" fill="#2a2a2a" stroke="#2a2a2a" stroke-width="0.12" >110</text>
<line x1="169.00" y1="456.3" x2="169.00" y2="458.5" stroke="#111" stroke-width="0.8"/>
<text transform="translate(172.30,469.5) rotate(-27)" font-size="6.6" text-anchor="end" fill="#2a2a2a">10<tspan font-size="4.2" dy="-3.1">&#8722;4</tspan></text>
<line x1="182.85" y1="456.3" x2="182.85" y2="458.5" stroke="#111" stroke-width="0.8"/>
<text transform="translate(186.15,469.5) rotate(-27)" font-size="6.6" text-anchor="end" fill="#2a2a2a">10<tspan font-size="4.2" dy="-3.1">&#8722;3</tspan></text>
<line x1="196.70" y1="456.3" x2="196.70" y2="458.5" stroke="#111" stroke-width="0.8"/>
<text transform="translate(200.00,469.5) rotate(-27)" font-size="6.6" text-anchor="end" fill="#2a2a2a">10<tspan font-size="4.2" dy="-3.1">&#8722;2</tspan></text>
<line x1="210.55" y1="456.3" x2="210.55" y2="458.5" stroke="#111" stroke-width="0.8"/>
<text transform="translate(213.85,469.5) rotate(-27)" font-size="6.6" text-anchor="end" fill="#2a2a2a">10<tspan font-size="4.2" dy="-3.1">&#8722;1</tspan></text>
<line x1="224.40" y1="456.3" x2="224.40" y2="458.5" stroke="#111" stroke-width="0.8"/>
<text transform="translate(227.70,469.5) rotate(-27)" font-size="6.6" text-anchor="end" fill="#2a2a2a">10<tspan font-size="4.2" dy="-3.1">0</tspan></text>
<line x1="238.25" y1="456.3" x2="238.25" y2="458.5" stroke="#111" stroke-width="0.8"/>
<text transform="translate(241.55,469.5) rotate(-27)" font-size="6.6" text-anchor="end" fill="#2a2a2a">10<tspan font-size="4.2" dy="-3.1">1</tspan></text>
<text transform="translate(205.00,486.3) scale(0.73,1)" font-size="8" font-weight="bold" text-anchor="middle" fill="#2a2a2a" stroke="#2a2a2a" stroke-width="0.15">[ADC] (nM)</text>
<text transform="translate(146.80,420.00) rotate(-90) scale(0.72,1)" font-size="7.8" font-weight="bold" text-anchor="middle" fill="#2a2a2a" stroke="#2a2a2a" stroke-width="0.15">% of Maximum</text>
<polyline points="169.00,391.75 169.87,391.75 170.73,391.76 171.60,391.76 172.46,391.76 173.33,391.76 174.19,391.76 175.06,391.76 175.93,391.76 176.79,391.76 177.66,391.76 178.52,391.76 179.39,391.76 180.25,391.76 181.12,391.76 181.98,391.76 182.85,391.76 183.72,391.76 184.58,391.76 185.45,391.76 186.31,391.76 187.18,391.76 188.04,391.77 188.91,391.77 189.78,391.77 190.64,391.77 191.51,391.78 192.37,391.78 193.24,391.79 194.10,391.79 194.97,391.80 195.83,391.80 196.70,391.81 197.57,391.82 198.43,391.84 199.30,391.85 200.16,391.87 201.03,391.88 201.89,391.91 202.76,391.93 203.62,391.96 204.49,392.00 205.36,392.04 206.22,392.09 207.09,392.15 207.95,392.22 208.82,392.30 209.68,392.39 210.55,392.50 211.42,392.63 212.28,392.78 213.15,392.95 214.01,393.16 214.88,393.39 215.74,393.67 216.61,393.99 217.47,394.36 218.34,394.79 219.21,395.28 220.07,395.86 220.94,396.52 221.80,397.27 222.67,398.13 223.53,399.11 224.40,400.22 225.27,401.46 226.13,402.85 227.00,404.40 227.86,406.10 228.73,407.96 229.59,409.98 230.46,412.14 231.32,414.43 232.19,416.83 233.06,419.32 233.92,421.87 234.79,424.44 235.65,427.01 236.52,429.54 237.38,432.00 238.25,434.37" fill="none" stroke="#6fb37c" stroke-width="0.9"/>
<line x1="182.85" y1="400.15" x2="182.85" y2="394.98" stroke="#6fb37c" stroke-width="0.6" opacity="0.55"/>
<rect x="181.85" y="396.56" width="2" height="2" fill="#3a6f4c"/>
<line x1="196.70" y1="394.98" x2="196.70" y2="388.53" stroke="#6fb37c" stroke-width="0.6" opacity="0.55"/>
<rect x="195.70" y="390.75" width="2" height="2" fill="#3a6f4c"/>
<line x1="210.55" y1="395.63" x2="210.55" y2="387.88" stroke="#6fb37c" stroke-width="0.6" opacity="0.55"/>
<rect x="209.55" y="390.75" width="2" height="2" fill="#3a6f4c"/>
<line x1="224.40" y1="396.92" x2="224.40" y2="390.46" stroke="#6fb37c" stroke-width="0.6" opacity="0.55"/>
<rect x="223.40" y="392.69" width="2" height="2" fill="#3a6f4c"/>
<line x1="238.25" y1="438.87" x2="238.25" y2="429.84" stroke="#6fb37c" stroke-width="0.6" opacity="0.55"/>
<rect x="237.25" y="433.35" width="2" height="2" fill="#3a6f4c"/>
<polyline points="169.00,391.75 169.87,391.75 170.73,391.75 171.60,391.75 172.46,391.75 173.33,391.75 174.19,391.75 175.06,391.75 175.93,391.76 176.79,391.76 177.66,391.76 178.52,391.76 179.39,391.76 180.25,391.76 181.12,391.76 181.98,391.76 182.85,391.76 183.72,391.76 184.58,391.76 185.45,391.76 186.31,391.76 187.18,391.76 188.04,391.76 188.91,391.76 189.78,391.76 190.64,391.76 191.51,391.76 192.37,391.76 193.24,391.76 194.10,391.77 194.97,391.77 195.83,391.77 196.70,391.77 197.57,391.77 198.43,391.78 199.30,391.78 200.16,391.79 201.03,391.79 201.89,391.80 202.76,391.80 203.62,391.81 204.49,391.82 205.36,391.83 206.22,391.84 207.09,391.86 207.95,391.88 208.82,391.89 209.68,391.92 210.55,391.94 211.42,391.97 212.28,392.01 213.15,392.05 214.01,392.09 214.88,392.15 215.74,392.21 216.61,392.28 217.47,392.37 218.34,392.46 219.21,392.58 220.07,392.70 220.94,392.85 221.80,393.03 222.67,393.22 223.53,393.45 224.40,393.72 225.27,394.02 226.13,394.37 227.00,394.76 227.86,395.22 228.73,395.74 229.59,396.33 230.46,397.00 231.32,397.76 232.19,398.62 233.06,399.58 233.92,400.66 234.79,401.86 235.65,403.19 236.52,404.65 237.38,406.25 238.25,407.98" fill="none" stroke="#36658f" stroke-width="0.9"/>
<line x1="182.85" y1="400.79" x2="182.85" y2="394.34" stroke="#36658f" stroke-width="0.6" opacity="0.55"/>
<rect x="181.85" y="396.56" width="2" height="2" fill="#1c3550"/>
<line x1="196.70" y1="406.60" x2="196.70" y2="401.44" stroke="#36658f" stroke-width="0.6" opacity="0.55"/>
<rect x="195.70" y="403.02" width="2" height="2" fill="#1c3550"/>
<line x1="210.55" y1="395.63" x2="210.55" y2="387.88" stroke="#36658f" stroke-width="0.6" opacity="0.55"/>
<rect x="209.55" y="390.75" width="2" height="2" fill="#1c3550"/>
<line x1="224.40" y1="396.92" x2="224.40" y2="390.46" stroke="#36658f" stroke-width="0.6" opacity="0.55"/>
<rect x="223.40" y="392.69" width="2" height="2" fill="#1c3550"/>
<line x1="238.25" y1="414.35" x2="238.25" y2="401.44" stroke="#36658f" stroke-width="0.6" opacity="0.55"/>
<rect x="237.25" y="406.89" width="2" height="2" fill="#1c3550"/>
<polyline points="169.00,391.77 169.87,391.77 170.73,391.77 171.60,391.77 172.46,391.77 173.33,391.78 174.19,391.78 175.06,391.78 175.93,391.79 176.79,391.79 177.66,391.80 178.52,391.80 179.39,391.81 180.25,391.82 181.12,391.83 181.98,391.84 182.85,391.86 183.72,391.87 184.58,391.89 185.45,391.91 186.31,391.93 187.18,391.96 188.04,391.99 188.91,392.03 189.78,392.07 190.64,392.11 191.51,392.17 192.37,392.23 193.24,392.30 194.10,392.38 194.97,392.48 195.83,392.59 196.70,392.71 197.57,392.85 198.43,393.02 199.30,393.20 200.16,393.42 201.03,393.66 201.89,393.94 202.76,394.26 203.62,394.62 204.49,395.03 205.36,395.50 206.22,396.03 207.09,396.63 207.95,397.30 208.82,398.06 209.68,398.91 210.55,399.86 211.42,400.91 212.28,402.08 213.15,403.36 214.01,404.77 214.88,406.29 215.74,407.94 216.61,409.71 217.47,411.60 218.34,413.58 219.21,415.67 220.07,417.82 220.94,420.04 221.80,422.30 222.67,424.57 223.53,426.84 224.40,429.08 225.27,431.28 226.13,433.40 227.00,435.44 227.86,437.38 228.73,439.21 229.59,440.92 230.46,442.51 231.32,443.98 232.19,445.32 233.06,446.55 233.92,447.66 234.79,448.66 235.65,449.56 236.52,450.37 237.38,451.08 238.25,451.72" fill="none" stroke="#c8405f" stroke-width="0.9"/>
<line x1="182.85" y1="402.73" x2="182.85" y2="392.40" stroke="#c8405f" stroke-width="0.6" opacity="0.55"/>
<rect x="181.85" y="396.56" width="2" height="2" fill="#8e2038"/>
<line x1="196.70" y1="397.56" x2="196.70" y2="385.95" stroke="#c8405f" stroke-width="0.6" opacity="0.55"/>
<rect x="195.70" y="390.75" width="2" height="2" fill="#8e2038"/>
<line x1="210.55" y1="424.67" x2="210.55" y2="401.44" stroke="#c8405f" stroke-width="0.6" opacity="0.55"/>
<rect x="209.55" y="412.05" width="2" height="2" fill="#8e2038"/>
<line x1="224.40" y1="426.61" x2="224.40" y2="421.45" stroke="#c8405f" stroke-width="0.6" opacity="0.55"/>
<rect x="223.40" y="423.03" width="2" height="2" fill="#8e2038"/>
<line x1="238.25" y1="447.91" x2="238.25" y2="445.33" stroke="#c8405f" stroke-width="0.6" opacity="0.55"/>
<rect x="237.25" y="445.62" width="2" height="2" fill="#8e2038"/>
<path d="M299,382.3 V456.3 M296,456.3 H371" fill="none" stroke="#111" stroke-width="1.15"/>
<line x1="296" y1="456.30" x2="299" y2="456.30" stroke="#111" stroke-width="0.8"/>
<text transform="translate(292.80,458.50) scale(1,1.05)" font-size="6.3" text-anchor="end" font-weight="normal" fill="#2a2a2a" stroke="#2a2a2a" stroke-width="0.12" >0</text>
<line x1="296" y1="449.85" x2="299" y2="449.85" stroke="#111" stroke-width="0.8"/>
<text transform="translate(292.80,452.05) scale(1,1.05)" font-size="6.3" text-anchor="end" font-weight="normal" fill="#2a2a2a" stroke="#2a2a2a" stroke-width="0.12" >10</text>
<line x1="296" y1="443.39" x2="299" y2="443.39" stroke="#111" stroke-width="0.8"/>
<text transform="translate(292.80,445.59) scale(1,1.05)" font-size="6.3" text-anchor="end" font-weight="normal" fill="#2a2a2a" stroke="#2a2a2a" stroke-width="0.12" >20</text>
<line x1="296" y1="436.94" x2="299" y2="436.94" stroke="#111" stroke-width="0.8"/>
<text transform="translate(292.80,439.14) scale(1,1.05)" font-size="6.3" text-anchor="end" font-weight="normal" fill="#2a2a2a" stroke="#2a2a2a" stroke-width="0.12" >30</text>
<line x1="296" y1="430.48" x2="299" y2="430.48" stroke="#111" stroke-width="0.8"/>
<text transform="translate(292.80,432.68) scale(1,1.05)" font-size="6.3" text-anchor="end" font-weight="normal" fill="#2a2a2a" stroke="#2a2a2a" stroke-width="0.12" >40</text>
<line x1="296" y1="424.03" x2="299" y2="424.03" stroke="#111" stroke-width="0.8"/>
<text transform="translate(292.80,426.23) scale(1,1.05)" font-size="6.3" text-anchor="end" font-weight="normal" fill="#2a2a2a" stroke="#2a2a2a" stroke-width="0.12" >50</text>
<line x1="296" y1="417.57" x2="299" y2="417.57" stroke="#111" stroke-width="0.8"/>
<text transform="translate(292.80,419.77) scale(1,1.05)" font-size="6.3" text-anchor="end" font-weight="normal" fill="#2a2a2a" stroke="#2a2a2a" stroke-width="0.12" >60</text>
<line x1="296" y1="411.12" x2="299" y2="411.12" stroke="#111" stroke-width="0.8"/>
<text transform="translate(292.80,413.32) scale(1,1.05)" font-size="6.3" text-anchor="end" font-weight="normal" fill="#2a2a2a" stroke="#2a2a2a" stroke-width="0.12" >70</text>
<line x1="296" y1="404.66" x2="299" y2="404.66" stroke="#111" stroke-width="0.8"/>
<text transform="translate(292.80,406.86) scale(1,1.05)" font-size="6.3" text-anchor="end" font-weight="normal" fill="#2a2a2a" stroke="#2a2a2a" stroke-width="0.12" >80</text>
<line x1="296" y1="398.21" x2="299" y2="398.21" stroke="#111" stroke-width="0.8"/>
<text transform="translate(292.80,400.41) scale(1,1.05)" font-size="6.3" text-anchor="end" font-weight="normal" fill="#2a2a2a" stroke="#2a2a2a" stroke-width="0.12" >90</text>
<line x1="296" y1="391.75" x2="299" y2="391.75" stroke="#111" stroke-width="0.8"/>
<text transform="translate(292.80,393.95) scale(1,1.05)" font-size="6.3" text-anchor="end" font-weight="normal" fill="#2a2a2a" stroke="#2a2a2a" stroke-width="0.12" >100</text>
<line x1="296" y1="385.30" x2="299" y2="385.30" stroke="#111" stroke-width="0.8"/>
<text transform="translate(292.80,387.50) scale(1,1.05)" font-size="6.3" text-anchor="end" font-weight="normal" fill="#2a2a2a" stroke="#2a2a2a" stroke-width="0.12" >110</text>
<line x1="299.00" y1="456.3" x2="299.00" y2="458.5" stroke="#111" stroke-width="0.8"/>
<text transform="translate(302.30,469.5) rotate(-27)" font-size="6.6" text-anchor="end" fill="#2a2a2a">10<tspan font-size="4.2" dy="-3.1">&#8722;4</tspan></text>
<line x1="312.85" y1="456.3" x2="312.85" y2="458.5" stroke="#111" stroke-width="0.8"/>
<text transform="translate(316.15,469.5) rotate(-27)" font-size="6.6" text-anchor="end" fill="#2a2a2a">10<tspan font-size="4.2" dy="-3.1">&#8722;3</tspan></text>
<line x1="326.70" y1="456.3" x2="326.70" y2="458.5" stroke="#111" stroke-width="0.8"/>
<text transform="translate(330.00,469.5) rotate(-27)" font-size="6.6" text-anchor="end" fill="#2a2a2a">10<tspan font-size="4.2" dy="-3.1">&#8722;2</tspan></text>
<line x1="340.55" y1="456.3" x2="340.55" y2="458.5" stroke="#111" stroke-width="0.8"/>
<text transform="translate(343.85,469.5) rotate(-27)" font-size="6.6" text-anchor="end" fill="#2a2a2a">10<tspan font-size="4.2" dy="-3.1">&#8722;1</tspan></text>
<line x1="354.40" y1="456.3" x2="354.40" y2="458.5" stroke="#111" stroke-width="0.8"/>
<text transform="translate(357.70,469.5) rotate(-27)" font-size="6.6" text-anchor="end" fill="#2a2a2a">10<tspan font-size="4.2" dy="-3.1">0</tspan></text>
<line x1="368.25" y1="456.3" x2="368.25" y2="458.5" stroke="#111" stroke-width="0.8"/>
<text transform="translate(371.55,469.5) rotate(-27)" font-size="6.6" text-anchor="end" fill="#2a2a2a">10<tspan font-size="4.2" dy="-3.1">1</tspan></text>
<text transform="translate(335.00,486.3) scale(0.73,1)" font-size="8" font-weight="bold" text-anchor="middle" fill="#2a2a2a" stroke="#2a2a2a" stroke-width="0.15">[ADC] (nM)</text>
<text transform="translate(276.80,420.00) rotate(-90) scale(0.72,1)" font-size="7.8" font-weight="bold" text-anchor="middle" fill="#2a2a2a" stroke="#2a2a2a" stroke-width="0.15">% of Maximum</text>
<polyline points="299.00,391.76 299.87,391.76 300.73,391.76 301.60,391.76 302.46,391.76 303.33,391.76 304.19,391.76 305.06,391.76 305.93,391.76 306.79,391.76 307.66,391.76 308.52,391.76 309.39,391.77 310.25,391.77 311.12,391.77 311.98,391.77 312.85,391.77 313.72,391.78 314.58,391.78 315.45,391.79 316.31,391.79 317.18,391.80 318.04,391.80 318.91,391.81 319.77,391.82 320.64,391.83 321.51,391.84 322.37,391.85 323.24,391.87 324.10,391.89 324.97,391.91 325.83,391.93 326.70,391.96 327.57,391.99 328.43,392.03 329.30,392.07 330.16,392.12 331.03,392.17 331.89,392.23 332.76,392.31 333.62,392.39 334.49,392.49 335.36,392.60 336.22,392.73 337.09,392.88 337.95,393.05 338.82,393.25 339.68,393.47 340.55,393.73 341.42,394.03 342.28,394.37 343.15,394.75 344.01,395.19 344.88,395.69 345.74,396.26 346.61,396.90 347.48,397.62 348.34,398.44 349.21,399.35 350.07,400.37 350.94,401.50 351.80,402.75 352.67,404.13 353.53,405.63 354.40,407.26 355.27,409.02 356.13,410.90 357.00,412.89 357.86,414.99 358.73,417.17 359.59,419.41 360.46,421.71 361.32,424.03 362.19,426.35 363.06,428.64 363.92,430.89 364.79,433.07 365.65,435.16 366.52,437.15 367.38,439.03 368.25,440.79" fill="none" stroke="#6fb37c" stroke-width="0.9"/>
<line x1="312.85" y1="395.63" x2="312.85" y2="387.88" stroke="#6fb37c" stroke-width="0.6" opacity="0.55"/>
<rect x="311.85" y="390.75" width="2" height="2" fill="#3a6f4c"/>
<line x1="326.70" y1="407.25" x2="326.70" y2="386.59" stroke="#6fb37c" stroke-width="0.6" opacity="0.55"/>
<rect x="325.70" y="395.92" width="2" height="2" fill="#3a6f4c"/>
<line x1="340.55" y1="398.21" x2="340.55" y2="390.46" stroke="#6fb37c" stroke-width="0.6" opacity="0.55"/>
<rect x="339.55" y="393.34" width="2" height="2" fill="#3a6f4c"/>
<line x1="354.40" y1="402.73" x2="354.40" y2="398.85" stroke="#6fb37c" stroke-width="0.6" opacity="0.55"/>
<rect x="353.40" y="399.79" width="2" height="2" fill="#3a6f4c"/>
<line x1="368.25" y1="454.36" x2="368.25" y2="451.78" stroke="#6fb37c" stroke-width="0.6" opacity="0.55"/>
<rect x="367.25" y="452.07" width="2" height="2" fill="#3a6f4c"/>
<polyline points="299.00,391.76 299.87,391.76 300.73,391.76 301.60,391.76 302.46,391.76 303.33,391.76 304.19,391.76 305.06,391.76 305.93,391.76 306.79,391.76 307.66,391.76 308.52,391.76 309.39,391.76 310.25,391.77 311.12,391.77 311.98,391.77 312.85,391.77 313.72,391.77 314.58,391.78 315.45,391.78 316.31,391.79 317.18,391.79 318.04,391.80 318.91,391.80 319.77,391.81 320.64,391.82 321.51,391.83 322.37,391.84 323.24,391.85 324.10,391.87 324.97,391.88 325.83,391.90 326.70,391.93 327.57,391.95 328.43,391.99 329.30,392.02 330.16,392.06 331.03,392.11 331.89,392.16 332.76,392.23 333.62,392.30 334.49,392.38 335.36,392.48 336.22,392.59 337.09,392.72 337.95,392.86 338.82,393.03 339.68,393.22 340.55,393.45 341.42,393.70 342.28,393.99 343.15,394.32 344.01,394.70 344.88,395.14 345.74,395.63 346.61,396.19 347.48,396.82 348.34,397.53 349.21,398.33 350.07,399.23 350.94,400.24 351.80,401.36 352.67,402.59 353.53,403.95 354.40,405.44 355.27,407.06 356.13,408.80 357.00,410.67 357.86,412.65 358.73,414.73 359.59,416.90 360.46,419.14 361.32,421.43 362.19,423.75 363.06,426.07 363.92,428.37 364.79,430.62 365.65,432.81 366.52,434.92 367.38,436.92 368.25,438.82" fill="none" stroke="#36658f" stroke-width="0.9"/>
<line x1="312.85" y1="394.34" x2="312.85" y2="389.17" stroke="#36658f" stroke-width="0.6" opacity="0.55"/>
<rect x="311.85" y="390.75" width="2" height="2" fill="#1c3550"/>
<line x1="326.70" y1="394.98" x2="326.70" y2="389.82" stroke="#36658f" stroke-width="0.6" opacity="0.55"/>
<rect x="325.70" y="391.40" width="2" height="2" fill="#1c3550"/>
<line x1="340.55" y1="396.27" x2="340.55" y2="391.11" stroke="#36658f" stroke-width="0.6" opacity="0.55"/>
<rect x="339.55" y="392.69" width="2" height="2" fill="#1c3550"/>
<line x1="354.40" y1="394.34" x2="354.40" y2="389.17" stroke="#36658f" stroke-width="0.6" opacity="0.55"/>
<rect x="353.40" y="390.75" width="2" height="2" fill="#1c3550"/>
<line x1="368.25" y1="455.65" x2="368.25" y2="450.49" stroke="#36658f" stroke-width="0.6" opacity="0.55"/>
<rect x="367.25" y="452.07" width="2" height="2" fill="#1c3550"/>
<polyline points="299.00,391.81 299.87,391.82 300.73,391.83 301.60,391.84 302.46,391.85 303.33,391.87 304.19,391.88 305.06,391.90 305.93,391.93 306.79,391.95 307.66,391.99 308.52,392.02 309.39,392.06 310.25,392.11 311.12,392.16 311.98,392.23 312.85,392.30 313.72,392.38 314.58,392.48 315.45,392.59 316.31,392.72 317.18,392.86 318.04,393.03 318.91,393.22 319.77,393.45 320.64,393.70 321.51,393.99 322.37,394.32 323.24,394.70 324.10,395.14 324.97,395.63 325.83,396.19 326.70,396.82 327.57,397.53 328.43,398.33 329.30,399.23 330.16,400.24 331.03,401.36 331.89,402.59 332.76,403.95 333.62,405.44 334.49,407.06 335.36,408.80 336.22,410.67 337.09,412.65 337.95,414.73 338.82,416.90 339.68,419.14 340.55,421.43 341.42,423.75 342.28,426.07 343.15,428.37 344.01,430.62 344.88,432.81 345.74,434.92 346.61,436.92 347.48,438.82 348.34,440.59 349.21,442.24 350.07,443.75 350.94,445.15 351.80,446.41 352.67,447.56 353.53,448.59 354.40,449.51 355.27,450.34 356.13,451.07 357.00,451.72 357.86,452.30 358.73,452.81 359.59,453.25 360.46,453.64 361.32,453.99 362.19,454.29 363.06,454.55 363.92,454.78 364.79,454.98 365.65,455.15 366.52,455.30 367.38,455.44 368.25,455.55" fill="none" stroke="#c8405f" stroke-width="0.9"/>
<line x1="312.85" y1="402.08" x2="312.85" y2="390.46" stroke="#c8405f" stroke-width="0.6" opacity="0.55"/>
<rect x="311.85" y="395.27" width="2" height="2" fill="#8e2038"/>
<line x1="326.70" y1="397.56" x2="326.70" y2="387.24" stroke="#c8405f" stroke-width="0.6" opacity="0.55"/>
<rect x="325.70" y="391.40" width="2" height="2" fill="#8e2038"/>
<line x1="340.55" y1="425.96" x2="340.55" y2="411.76" stroke="#c8405f" stroke-width="0.6" opacity="0.55"/>
<rect x="339.55" y="417.86" width="2" height="2" fill="#8e2038"/>
<line x1="368.25" y1="456.95" x2="368.25" y2="454.36" stroke="#c8405f" stroke-width="0.6" opacity="0.55"/>
<rect x="367.25" y="454.65" width="2" height="2" fill="#8e2038"/>
<path d="M425.8,382.3 V456.3 M422.8,456.3 H498" fill="none" stroke="#111" stroke-width="1.15"/>
<line x1="422.8" y1="456.30" x2="425.8" y2="456.30" stroke="#111" stroke-width="0.8"/>
<text transform="translate(419.60,458.50) scale(1,1.05)" font-size="6.3" text-anchor="end" font-weight="normal" fill="#2a2a2a" stroke="#2a2a2a" stroke-width="0.12" >0</text>
<line x1="422.8" y1="450.38" x2="425.8" y2="450.38" stroke="#111" stroke-width="0.8"/>
<text transform="translate(419.60,452.58) scale(1,1.05)" font-size="6.3" text-anchor="end" font-weight="normal" fill="#2a2a2a" stroke="#2a2a2a" stroke-width="0.12" >10</text>
<line x1="422.8" y1="444.47" x2="425.8" y2="444.47" stroke="#111" stroke-width="0.8"/>
<text transform="translate(419.60,446.67) scale(1,1.05)" font-size="6.3" text-anchor="end" font-weight="normal" fill="#2a2a2a" stroke="#2a2a2a" stroke-width="0.12" >20</text>
<line x1="422.8" y1="438.55" x2="425.8" y2="438.55" stroke="#111" stroke-width="0.8"/>
<text transform="translate(419.60,440.75) scale(1,1.05)" font-size="6.3" text-anchor="end" font-weight="normal" fill="#2a2a2a" stroke="#2a2a2a" stroke-width="0.12" >30</text>
<line x1="422.8" y1="432.63" x2="425.8" y2="432.63" stroke="#111" stroke-width="0.8"/>
<text transform="translate(419.60,434.83) scale(1,1.05)" font-size="6.3" text-anchor="end" font-weight="normal" fill="#2a2a2a" stroke="#2a2a2a" stroke-width="0.12" >40</text>
<line x1="422.8" y1="426.72" x2="425.8" y2="426.72" stroke="#111" stroke-width="0.8"/>
<text transform="translate(419.60,428.92) scale(1,1.05)" font-size="6.3" text-anchor="end" font-weight="normal" fill="#2a2a2a" stroke="#2a2a2a" stroke-width="0.12" >50</text>
<line x1="422.8" y1="420.80" x2="425.8" y2="420.80" stroke="#111" stroke-width="0.8"/>
<text transform="translate(419.60,423.00) scale(1,1.05)" font-size="6.3" text-anchor="end" font-weight="normal" fill="#2a2a2a" stroke="#2a2a2a" stroke-width="0.12" >60</text>
<line x1="422.8" y1="414.88" x2="425.8" y2="414.88" stroke="#111" stroke-width="0.8"/>
<text transform="translate(419.60,417.08) scale(1,1.05)" font-size="6.3" text-anchor="end" font-weight="normal" fill="#2a2a2a" stroke="#2a2a2a" stroke-width="0.12" >70</text>
<line x1="422.8" y1="408.97" x2="425.8" y2="408.97" stroke="#111" stroke-width="0.8"/>
<text transform="translate(419.60,411.17) scale(1,1.05)" font-size="6.3" text-anchor="end" font-weight="normal" fill="#2a2a2a" stroke="#2a2a2a" stroke-width="0.12" >80</text>
<line x1="422.8" y1="403.05" x2="425.8" y2="403.05" stroke="#111" stroke-width="0.8"/>
<text transform="translate(419.60,405.25) scale(1,1.05)" font-size="6.3" text-anchor="end" font-weight="normal" fill="#2a2a2a" stroke="#2a2a2a" stroke-width="0.12" >90</text>
<line x1="422.8" y1="397.13" x2="425.8" y2="397.13" stroke="#111" stroke-width="0.8"/>
<text transform="translate(419.60,399.33) scale(1,1.05)" font-size="6.3" text-anchor="end" font-weight="normal" fill="#2a2a2a" stroke="#2a2a2a" stroke-width="0.12" >100</text>
<line x1="422.8" y1="391.22" x2="425.8" y2="391.22" stroke="#111" stroke-width="0.8"/>
<text transform="translate(419.60,393.42) scale(1,1.05)" font-size="6.3" text-anchor="end" font-weight="normal" fill="#2a2a2a" stroke="#2a2a2a" stroke-width="0.12" >110</text>
<line x1="422.8" y1="385.30" x2="425.8" y2="385.30" stroke="#111" stroke-width="0.8"/>
<text transform="translate(419.60,387.50) scale(1,1.05)" font-size="6.3" text-anchor="end" font-weight="normal" fill="#2a2a2a" stroke="#2a2a2a" stroke-width="0.12" >120</text>
<line x1="425.80" y1="456.3" x2="425.80" y2="458.5" stroke="#111" stroke-width="0.8"/>
<text transform="translate(429.10,469.5) rotate(-27)" font-size="6.6" text-anchor="end" fill="#2a2a2a">10<tspan font-size="4.2" dy="-3.1">&#8722;5</tspan></text>
<line x1="435.74" y1="456.3" x2="435.74" y2="458.5" stroke="#111" stroke-width="0.8"/>
<text transform="translate(439.04,469.5) rotate(-27)" font-size="6.6" text-anchor="end" fill="#2a2a2a">10<tspan font-size="4.2" dy="-3.1">&#8722;4</tspan></text>
<line x1="445.68" y1="456.3" x2="445.68" y2="458.5" stroke="#111" stroke-width="0.8"/>
<text transform="translate(448.98,469.5) rotate(-27)" font-size="6.6" text-anchor="end" fill="#2a2a2a">10<tspan font-size="4.2" dy="-3.1">&#8722;3</tspan></text>
<line x1="455.62" y1="456.3" x2="455.62" y2="458.5" stroke="#111" stroke-width="0.8"/>
<text transform="translate(458.92,469.5) rotate(-27)" font-size="6.6" text-anchor="end" fill="#2a2a2a">10<tspan font-size="4.2" dy="-3.1">&#8722;2</tspan></text>
<line x1="465.56" y1="456.3" x2="465.56" y2="458.5" stroke="#111" stroke-width="0.8"/>
<text transform="translate(468.86,469.5) rotate(-27)" font-size="6.6" text-anchor="end" fill="#2a2a2a">10<tspan font-size="4.2" dy="-3.1">&#8722;1</tspan></text>
<line x1="475.50" y1="456.3" x2="475.50" y2="458.5" stroke="#111" stroke-width="0.8"/>
<text transform="translate(478.80,469.5) rotate(-27)" font-size="6.6" text-anchor="end" fill="#2a2a2a">10<tspan font-size="4.2" dy="-3.1">0</tspan></text>
<line x1="485.44" y1="456.3" x2="485.44" y2="458.5" stroke="#111" stroke-width="0.8"/>
<text transform="translate(488.74,469.5) rotate(-27)" font-size="6.6" text-anchor="end" fill="#2a2a2a">10<tspan font-size="4.2" dy="-3.1">1</tspan></text>
<line x1="495.38" y1="456.3" x2="495.38" y2="458.5" stroke="#111" stroke-width="0.8"/>
<text transform="translate(498.68,469.5) rotate(-27)" font-size="6.6" text-anchor="end" fill="#2a2a2a">10<tspan font-size="4.2" dy="-3.1">2</tspan></text>
<text transform="translate(461.90,486.3) scale(0.73,1)" font-size="8" font-weight="bold" text-anchor="middle" fill="#2a2a2a" stroke="#2a2a2a" stroke-width="0.15">[ADC] (nM)</text>
<text transform="translate(403.60,420.00) rotate(-90) scale(0.72,1)" font-size="7.8" font-weight="bold" text-anchor="middle" fill="#2a2a2a" stroke="#2a2a2a" stroke-width="0.15">% of Maximum</text>
<polyline points="435.74,397.13 436.36,397.13 436.98,397.13 437.60,397.13 438.23,397.13 438.85,397.13 439.47,397.13 440.09,397.13 440.71,397.13 441.33,397.13 441.95,397.13 442.57,397.13 443.19,397.13 443.82,397.13 444.44,397.13 445.06,397.13 445.68,397.13 446.30,397.13 446.92,397.13 447.54,397.13 448.17,397.13 448.79,397.13 449.41,397.13 450.03,397.13 450.65,397.13 451.27,397.13 451.89,397.13 452.51,397.13 453.13,397.13 453.76,397.13 454.38,397.13 455.00,397.13 455.62,397.13 456.24,397.13 456.86,397.14 457.48,397.14 458.11,397.14 458.73,397.14 459.35,397.14 459.97,397.14 460.59,397.14 461.21,397.14 461.83,397.14 462.45,397.15 463.07,397.15 463.70,397.16 464.32,397.16 464.94,397.17 465.56,397.18 466.18,397.19 466.80,397.20 467.42,397.22 468.05,397.25 468.67,397.27 469.29,397.31 469.91,397.36 470.53,397.42 471.15,397.49 471.77,397.58 472.39,397.69 473.01,397.84 473.64,398.02 474.26,398.24 474.88,398.52 475.50,398.87 476.12,399.30 476.74,399.84 477.36,400.50 477.99,401.31 478.61,402.29 479.23,403.48 479.85,404.91 480.47,406.60 481.09,408.58 481.71,410.86 482.33,413.43 482.95,416.29 483.58,419.38 484.20,422.66 484.82,426.04 485.44,429.43" fill="none" stroke="#6fb37c" stroke-width="0.9"/>
<line x1="435.74" y1="401.28" x2="435.74" y2="396.54" stroke="#6fb37c" stroke-width="0.6" opacity="0.55"/>
<rect x="434.74" y="397.91" width="2" height="2" fill="#3a6f4c"/>
<line x1="445.68" y1="400.68" x2="445.68" y2="393.58" stroke="#6fb37c" stroke-width="0.6" opacity="0.55"/>
<rect x="444.68" y="396.13" width="2" height="2" fill="#3a6f4c"/>
<line x1="455.62" y1="410.74" x2="455.62" y2="401.28" stroke="#6fb37c" stroke-width="0.6" opacity="0.55"/>
<rect x="454.62" y="405.01" width="2" height="2" fill="#3a6f4c"/>
<line x1="465.56" y1="400.09" x2="465.56" y2="394.18" stroke="#6fb37c" stroke-width="0.6" opacity="0.55"/>
<rect x="464.56" y="396.13" width="2" height="2" fill="#3a6f4c"/>
<line x1="475.50" y1="406.60" x2="475.50" y2="399.50" stroke="#6fb37c" stroke-width="0.6" opacity="0.55"/>
<rect x="474.50" y="402.05" width="2" height="2" fill="#3a6f4c"/>
<line x1="485.44" y1="432.63" x2="485.44" y2="429.08" stroke="#6fb37c" stroke-width="0.6" opacity="0.55"/>
<rect x="484.44" y="429.86" width="2" height="2" fill="#3a6f4c"/>
<polyline points="435.74,397.13 436.36,397.13 436.98,397.13 437.60,397.13 438.23,397.13 438.85,397.13 439.47,397.13 440.09,397.13 440.71,397.13 441.33,397.13 441.95,397.13 442.57,397.13 443.19,397.13 443.82,397.13 444.44,397.13 445.06,397.13 445.68,397.13 446.30,397.13 446.92,397.13 447.54,397.13 448.17,397.13 448.79,397.13 449.41,397.13 450.03,397.13 450.65,397.13 451.27,397.13 451.89,397.13 452.51,397.13 453.13,397.13 453.76,397.13 454.38,397.13 455.00,397.13 455.62,397.13 456.24,397.13 456.86,397.13 457.48,397.13 458.11,397.13 458.73,397.13 459.35,397.13 459.97,397.14 460.59,397.14 461.21,397.14 461.83,397.14 462.45,397.14 463.07,397.14 463.70,397.14 464.32,397.14 464.94,397.14 465.56,397.15 466.18,397.15 466.80,397.15 467.42,397.16 468.05,397.16 468.67,397.17 469.29,397.18 469.91,397.19 470.53,397.20 471.15,397.22 471.77,397.24 472.39,397.27 473.01,397.30 473.64,397.34 474.26,397.39 474.88,397.45 475.50,397.53 476.12,397.62 476.74,397.74 477.36,397.88 477.99,398.06 478.61,398.27 479.23,398.54 479.85,398.87 480.47,399.28 481.09,399.77 481.71,400.37 482.33,401.10 482.95,401.98 483.58,403.03 484.20,404.27 484.82,405.74 485.44,407.46" fill="none" stroke="#36658f" stroke-width="0.9"/>
<line x1="435.74" y1="404.82" x2="435.74" y2="395.36" stroke="#36658f" stroke-width="0.6" opacity="0.55"/>
<rect x="434.74" y="399.09" width="2" height="2" fill="#1c3550"/>
<line x1="445.68" y1="401.87" x2="445.68" y2="392.40" stroke="#36658f" stroke-width="0.6" opacity="0.55"/>
<rect x="444.68" y="396.13" width="2" height="2" fill="#1c3550"/>
<line x1="455.62" y1="411.93" x2="455.62" y2="402.46" stroke="#36658f" stroke-width="0.6" opacity="0.55"/>
<rect x="454.62" y="406.19" width="2" height="2" fill="#1c3550"/>
<line x1="465.56" y1="407.19" x2="465.56" y2="397.73" stroke="#36658f" stroke-width="0.6" opacity="0.55"/>
<rect x="464.56" y="401.46" width="2" height="2" fill="#1c3550"/>
<line x1="475.50" y1="406.60" x2="475.50" y2="397.13" stroke="#36658f" stroke-width="0.6" opacity="0.55"/>
<rect x="474.50" y="400.87" width="2" height="2" fill="#1c3550"/>
<line x1="485.44" y1="417.25" x2="485.44" y2="407.78" stroke="#36658f" stroke-width="0.6" opacity="0.55"/>
<rect x="484.44" y="411.52" width="2" height="2" fill="#1c3550"/>
<polyline points="435.74,397.25 436.36,397.27 436.98,397.30 437.60,397.32 438.23,397.36 438.85,397.40 439.47,397.44 440.09,397.49 440.71,397.55 441.33,397.63 441.95,397.71 442.57,397.81 443.19,397.92 443.82,398.05 444.44,398.21 445.06,398.39 445.68,398.60 446.30,398.84 446.92,399.13 447.54,399.46 448.17,399.84 448.79,400.27 449.41,400.78 450.03,401.36 450.65,402.03 451.27,402.79 451.89,403.65 452.51,404.62 453.13,405.72 453.76,406.95 454.38,408.32 455.00,409.82 455.62,411.47 456.24,413.26 456.86,415.18 457.48,417.23 458.11,419.38 458.73,421.62 459.35,423.92 459.97,426.25 460.59,428.59 461.21,430.90 461.83,433.17 462.45,435.36 463.07,437.44 463.70,439.42 464.32,441.26 464.94,442.97 465.56,444.53 466.18,445.95 466.80,447.24 467.42,448.38 468.05,449.41 468.67,450.32 469.29,451.12 469.91,451.82 470.53,452.43 471.15,452.96 471.77,453.43 472.39,453.83 473.01,454.18 473.64,454.48 474.26,454.74 474.88,454.96 475.50,455.16 476.12,455.32 476.74,455.46 477.36,455.58 477.99,455.69 478.61,455.78 479.23,455.85 479.85,455.92 480.47,455.97 481.09,456.02 481.71,456.06 482.33,456.10 482.95,456.13 483.58,456.15 484.20,456.17 484.82,456.19 485.44,456.21" fill="none" stroke="#c8405f" stroke-width="0.9"/>
<line x1="435.74" y1="400.68" x2="435.74" y2="393.58" stroke="#c8405f" stroke-width="0.6" opacity="0.55"/>
<rect x="434.74" y="396.13" width="2" height="2" fill="#8e2038"/>
<line x1="445.68" y1="406.01" x2="445.68" y2="398.91" stroke="#c8405f" stroke-width="0.6" opacity="0.55"/>
<rect x="444.68" y="401.46" width="2" height="2" fill="#8e2038"/>
<line x1="455.62" y1="404.23" x2="455.62" y2="397.13" stroke="#c8405f" stroke-width="0.6" opacity="0.55"/>
<rect x="454.62" y="399.68" width="2" height="2" fill="#8e2038"/>
<line x1="465.56" y1="455.12" x2="465.56" y2="448.02" stroke="#c8405f" stroke-width="0.6" opacity="0.55"/>
<rect x="464.56" y="450.57" width="2" height="2" fill="#8e2038"/>
<text transform="translate(7.00,510.90) scale(1,1.05)" font-size="11.2" text-anchor="start" font-weight="bold" fill="#000" stroke="#000" stroke-width="0" >D</text>
<text transform="translate(260.20,508.60) scale(1,1.05)" font-size="8.1" text-anchor="middle" font-weight="normal" fill="#2a2a2a" stroke="#2a2a2a" stroke-width="0.12" text-decoration="underline">AML1 leukemia cell killing</text>
<text transform="translate(104.40,518.70) scale(1,1.05)" font-size="6.3" text-anchor="middle" font-weight="normal" fill="#2a2a2a" stroke="#2a2a2a" stroke-width="0.12" text-decoration="underline">IC50 Mean ± SEM</text>
<ellipse cx="24.70" cy="527.10" rx="1.9" ry="0.8" fill="#5a1d2e"/>
<ellipse cx="24.70" cy="536.80" rx="1.9" ry="0.8" fill="#18283a"/>
<ellipse cx="24.70" cy="554.40" rx="1.9" ry="0.8" fill="#6b9a80"/>
<text transform="translate(29.60,529.20) scale(1,1.05)" font-size="6.3" text-anchor="start" font-weight="normal" fill="#2a2a2a" stroke="#2a2a2a" stroke-width="0.12" >CD45.2-MMAE</text>
<text transform="translate(29.60,538.90) scale(1,1.05)" font-size="6.3" text-anchor="start" font-weight="normal" fill="#2a2a2a" stroke="#2a2a2a" stroke-width="0.12" >CD45.2nb +</text>
<text transform="translate(29.60,547.40) scale(1,1.05)" font-size="6.3" text-anchor="start" font-weight="normal" fill="#2a2a2a" stroke="#2a2a2a" stroke-width="0.12" >free MMAE</text>
<text transform="translate(29.60,556.50) scale(1,1.05)" font-size="6.3" text-anchor="start" font-weight="normal" fill="#2a2a2a" stroke="#2a2a2a" stroke-width="0.12" >CD45.1-MMAE</text>
<text transform="translate(104.40,529.20) scale(1,1.05)" font-size="6.3" text-anchor="middle" font-weight="normal" fill="#2a2a2a" stroke="#2a2a2a" stroke-width="0.12" >No IC50</text>
<text transform="translate(104.40,543.15) scale(1,1.05)" font-size="6.3" text-anchor="middle" font-weight="normal" fill="#2a2a2a" stroke="#2a2a2a" stroke-width="0.12" >No IC50</text>
<text transform="translate(104.40,556.50) scale(1,1.05)" font-size="6.3" text-anchor="middle" font-weight="normal" fill="#2a2a2a" stroke="#2a2a2a" stroke-width="0.12" >32.4 ± 4.0 nM</text>
<text transform="translate(231.00,518.70) scale(1,1.05)" font-size="6.3" text-anchor="middle" font-weight="normal" fill="#2a2a2a" stroke="#2a2a2a" stroke-width="0.12" text-decoration="underline">IC50 Mean ± SEM</text>
<ellipse cx="156.80" cy="527.10" rx="1.9" ry="0.8" fill="#5a1d2e"/>
<ellipse cx="156.80" cy="536.80" rx="1.9" ry="0.8" fill="#18283a"/>
<ellipse cx="156.80" cy="554.40" rx="1.9" ry="0.8" fill="#6b9a80"/>
<text transform="translate(161.00,529.20) scale(1,1.05)" font-size="6.3" text-anchor="start" font-weight="normal" fill="#2a2a2a" stroke="#2a2a2a" stroke-width="0.12" >CD45.2-DUO</text>
<text transform="translate(161.00,538.90) scale(1,1.05)" font-size="6.3" text-anchor="start" font-weight="normal" fill="#2a2a2a" stroke="#2a2a2a" stroke-width="0.12" >CD45.2nb +</text>
<text transform="translate(161.00,547.40) scale(1,1.05)" font-size="6.3" text-anchor="start" font-weight="normal" fill="#2a2a2a" stroke="#2a2a2a" stroke-width="0.12" >free DUO</text>
<text transform="translate(161.00,556.50) scale(1,1.05)" font-size="6.3" text-anchor="start" font-weight="normal" fill="#2a2a2a" stroke="#2a2a2a" stroke-width="0.12" >CD45.1-DUO</text>
<text transform="translate(231.00,529.20) scale(1,1.05)" font-size="6.3" text-anchor="middle" font-weight="normal" fill="#2a2a2a" stroke="#2a2a2a" stroke-width="0.12" >31.4 ± 8.4 pM</text>
<text transform="translate(231.00,543.15) scale(1,1.05)" font-size="6.3" text-anchor="middle" font-weight="normal" fill="#2a2a2a" stroke="#2a2a2a" stroke-width="0.12" >10.9 ± 2.4 nM</text>
<text transform="translate(231.00,556.50) scale(1,1.05)" font-size="6.3" text-anchor="middle" font-weight="normal" fill="#2a2a2a" stroke="#2a2a2a" stroke-width="0.12" >1.5 ± 0.37 nM</text>
<text transform="translate(360.90,518.70) scale(1,1.05)" font-size="6.3" text-anchor="middle" font-weight="normal" fill="#2a2a2a" stroke="#2a2a2a" stroke-width="0.12" text-decoration="underline">IC50 Mean ± SEM</text>
<ellipse cx="287.40" cy="527.10" rx="1.9" ry="0.8" fill="#5a1d2e"/>
<ellipse cx="287.40" cy="536.80" rx="1.9" ry="0.8" fill="#18283a"/>
<ellipse cx="287.40" cy="554.40" rx="1.9" ry="0.8" fill="#6b9a80"/>
<text transform="translate(291.30,529.20) scale(1,1.05)" font-size="6.3" text-anchor="start" font-weight="normal" fill="#2a2a2a" stroke="#2a2a2a" stroke-width="0.12" >CD45.2-PNU</text>
<text transform="translate(291.30,538.90) scale(1,1.05)" font-size="6.3" text-anchor="start" font-weight="normal" fill="#2a2a2a" stroke="#2a2a2a" stroke-width="0.12" >CD45.2nb +</text>
<text transform="translate(291.30,547.40) scale(1,1.05)" font-size="6.3" text-anchor="start" font-weight="normal" fill="#2a2a2a" stroke="#2a2a2a" stroke-width="0.12" >free PNU</text>
<text transform="translate(291.30,556.50) scale(1,1.05)" font-size="6.3" text-anchor="start" font-weight="normal" fill="#2a2a2a" stroke="#2a2a2a" stroke-width="0.12" >CD45.1-PNU</text>
<text transform="translate(360.90,529.20) scale(1,1.05)" font-size="6.3" text-anchor="middle" font-weight="normal" fill="#2a2a2a" stroke="#2a2a2a" stroke-width="0.12" >84.2 ± 16.5 pM</text>
<text transform="translate(360.90,543.15) scale(1,1.05)" font-size="6.3" text-anchor="middle" font-weight="normal" fill="#2a2a2a" stroke="#2a2a2a" stroke-width="0.12" >3.4 ± 0.41 nM</text>
<text transform="translate(360.90,556.50) scale(1,1.05)" font-size="6.3" text-anchor="middle" font-weight="normal" fill="#2a2a2a" stroke="#2a2a2a" stroke-width="0.12" >2.40 ± 0.41 nM</text>
<text transform="translate(482.80,518.70) scale(1,1.05)" font-size="6.3" text-anchor="middle" font-weight="normal" fill="#2a2a2a" stroke="#2a2a2a" stroke-width="0.12" text-decoration="underline">IC50 Mean ± SEM</text>
<ellipse cx="408.60" cy="527.10" rx="1.9" ry="0.8" fill="#5a1d2e"/>
<ellipse cx="408.60" cy="536.80" rx="1.9" ry="0.8" fill="#18283a"/>
<ellipse cx="408.60" cy="554.40" rx="1.9" ry="0.8" fill="#6b9a80"/>
<text transform="translate(412.70,529.20) scale(1,1.05)" font-size="6.3" text-anchor="start" font-weight="normal" fill="#2a2a2a" stroke="#2a2a2a" stroke-width="0.12" >CD45.2-PBD</text>
<text transform="translate(412.70,538.90) scale(1,1.05)" font-size="6.3" text-anchor="start" font-weight="normal" fill="#2a2a2a" stroke="#2a2a2a" stroke-width="0.12" >CD45.2nb +</text>
<text transform="translate(412.70,547.40) scale(1,1.05)" font-size="6.3" text-anchor="start" font-weight="normal" fill="#2a2a2a" stroke="#2a2a2a" stroke-width="0.12" >free PBD</text>
<text transform="translate(412.70,556.50) scale(1,1.05)" font-size="6.3" text-anchor="start" font-weight="normal" fill="#2a2a2a" stroke="#2a2a2a" stroke-width="0.12" >CD45.1 PBD</text>
<text transform="translate(482.80,529.20) scale(1,1.05)" font-size="6.3" text-anchor="middle" font-weight="normal" fill="#2a2a2a" stroke="#2a2a2a" stroke-width="0.12" >26.1 ± 2.7 pM</text>
<text transform="translate(482.80,543.15) scale(1,1.05)" font-size="6.3" text-anchor="middle" font-weight="normal" fill="#2a2a2a" stroke="#2a2a2a" stroke-width="0.12" >27.6 ± 4.1 nM</text>
<text transform="translate(482.80,556.50) scale(1,1.05)" font-size="6.3" text-anchor="middle" font-weight="normal" fill="#2a2a2a" stroke="#2a2a2a" stroke-width="0.12" >3.2 ± 0.2 nM</text>
<path d="M35.8,560.5 V633.1 M32.8,633.1 H107.5" fill="none" stroke="#111" stroke-width="1.15"/>
<line x1="32.8" y1="633.10" x2="35.8" y2="633.10" stroke="#111" stroke-width="0.8"/>
<text transform="translate(29.60,635.30) scale(1,1.05)" font-size="6.3" text-anchor="end" font-weight="normal" fill="#2a2a2a" stroke="#2a2a2a" stroke-width="0.12" >0</text>
<line x1="32.8" y1="626.77" x2="35.8" y2="626.77" stroke="#111" stroke-width="0.8"/>
<text transform="translate(29.60,628.97) scale(1,1.05)" font-size="6.3" text-anchor="end" font-weight="normal" fill="#2a2a2a" stroke="#2a2a2a" stroke-width="0.12" >10</text>
<line x1="32.8" y1="620.45" x2="35.8" y2="620.45" stroke="#111" stroke-width="0.8"/>
<text transform="translate(29.60,622.65) scale(1,1.05)" font-size="6.3" text-anchor="end" font-weight="normal" fill="#2a2a2a" stroke="#2a2a2a" stroke-width="0.12" >20</text>
<line x1="32.8" y1="614.12" x2="35.8" y2="614.12" stroke="#111" stroke-width="0.8"/>
<text transform="translate(29.60,616.32) scale(1,1.05)" font-size="6.3" text-anchor="end" font-weight="normal" fill="#2a2a2a" stroke="#2a2a2a" stroke-width="0.12" >30</text>
<line x1="32.8" y1="607.79" x2="35.8" y2="607.79" stroke="#111" stroke-width="0.8"/>
<text transform="translate(29.60,609.99) scale(1,1.05)" font-size="6.3" text-anchor="end" font-weight="normal" fill="#2a2a2a" stroke="#2a2a2a" stroke-width="0.12" >40</text>
<line x1="32.8" y1="601.46" x2="35.8" y2="601.46" stroke="#111" stroke-width="0.8"/>
<text transform="translate(29.60,603.66) scale(1,1.05)" font-size="6.3" text-anchor="end" font-weight="normal" fill="#2a2a2a" stroke="#2a2a2a" stroke-width="0.12" >50</text>
<line x1="32.8" y1="595.14" x2="35.8" y2="595.14" stroke="#111" stroke-width="0.8"/>
<text transform="translate(29.60,597.34) scale(1,1.05)" font-size="6.3" text-anchor="end" font-weight="normal" fill="#2a2a2a" stroke="#2a2a2a" stroke-width="0.12" >60</text>
<line x1="32.8" y1="588.81" x2="35.8" y2="588.81" stroke="#111" stroke-width="0.8"/>
<text transform="translate(29.60,591.01) scale(1,1.05)" font-size="6.3" text-anchor="end" font-weight="normal" fill="#2a2a2a" stroke="#2a2a2a" stroke-width="0.12" >70</text>
<line x1="32.8" y1="582.48" x2="35.8" y2="582.48" stroke="#111" stroke-width="0.8"/>
<text transform="translate(29.60,584.68) scale(1,1.05)" font-size="6.3" text-anchor="end" font-weight="normal" fill="#2a2a2a" stroke="#2a2a2a" stroke-width="0.12" >80</text>
<line x1="32.8" y1="576.15" x2="35.8" y2="576.15" stroke="#111" stroke-width="0.8"/>
<text transform="translate(29.60,578.35) scale(1,1.05)" font-size="6.3" text-anchor="end" font-weight="normal" fill="#2a2a2a" stroke="#2a2a2a" stroke-width="0.12" >90</text>
<line x1="32.8" y1="569.83" x2="35.8" y2="569.83" stroke="#111" stroke-width="0.8"/>
<text transform="translate(29.60,572.03) scale(1,1.05)" font-size="6.3" text-anchor="end" font-weight="normal" fill="#2a2a2a" stroke="#2a2a2a" stroke-width="0.12" >100</text>
<line x1="32.8" y1="563.50" x2="35.8" y2="563.50" stroke="#111" stroke-width="0.8"/>
<text transform="translate(29.60,565.70) scale(1,1.05)" font-size="6.3" text-anchor="end" font-weight="normal" fill="#2a2a2a" stroke="#2a2a2a" stroke-width="0.12" >110</text>
<line x1="35.80" y1="633.1" x2="35.80" y2="635.3000000000001" stroke="#111" stroke-width="0.8"/>
<text transform="translate(39.10,646.3000000000001) rotate(-27)" font-size="6.6" text-anchor="end" fill="#2a2a2a">10<tspan font-size="4.2" dy="-3.1">&#8722;4</tspan></text>
<line x1="49.65" y1="633.1" x2="49.65" y2="635.3000000000001" stroke="#111" stroke-width="0.8"/>
<text transform="translate(52.95,646.3000000000001) rotate(-27)" font-size="6.6" text-anchor="end" fill="#2a2a2a">10<tspan font-size="4.2" dy="-3.1">&#8722;3</tspan></text>
<line x1="63.50" y1="633.1" x2="63.50" y2="635.3000000000001" stroke="#111" stroke-width="0.8"/>
<text transform="translate(66.80,646.3000000000001) rotate(-27)" font-size="6.6" text-anchor="end" fill="#2a2a2a">10<tspan font-size="4.2" dy="-3.1">&#8722;2</tspan></text>
<line x1="77.35" y1="633.1" x2="77.35" y2="635.3000000000001" stroke="#111" stroke-width="0.8"/>
<text transform="translate(80.65,646.3000000000001) rotate(-27)" font-size="6.6" text-anchor="end" fill="#2a2a2a">10<tspan font-size="4.2" dy="-3.1">&#8722;1</tspan></text>
<line x1="91.20" y1="633.1" x2="91.20" y2="635.3000000000001" stroke="#111" stroke-width="0.8"/>
<text transform="translate(94.50,646.3000000000001) rotate(-27)" font-size="6.6" text-anchor="end" fill="#2a2a2a">10<tspan font-size="4.2" dy="-3.1">0</tspan></text>
<line x1="105.05" y1="633.1" x2="105.05" y2="635.3000000000001" stroke="#111" stroke-width="0.8"/>
<text transform="translate(108.35,646.3000000000001) rotate(-27)" font-size="6.6" text-anchor="end" fill="#2a2a2a">10<tspan font-size="4.2" dy="-3.1">1</tspan></text>
<text transform="translate(71.65,663.1) scale(0.73,1)" font-size="8" font-weight="bold" text-anchor="middle" fill="#2a2a2a" stroke="#2a2a2a" stroke-width="0.15">[ADC] (nM)</text>
<text transform="translate(13.60,597.50) rotate(-90) scale(0.72,1)" font-size="7.8" font-weight="bold" text-anchor="middle" fill="#2a2a2a" stroke="#2a2a2a" stroke-width="0.15">% of Maximum</text>
<polyline points="35.80,569.83 49.65,570.46 63.50,571.09 77.35,571.09 91.20,571.09 105.05,587.54" fill="none" stroke="#6fb37c" stroke-width="0.9"/>
<line x1="35.80" y1="571.73" x2="35.80" y2="567.93" stroke="#6fb37c" stroke-width="0.6" opacity="0.55"/>
<rect x="34.80" y="568.83" width="2" height="2" fill="#3a6f4c"/>
<line x1="49.65" y1="572.36" x2="49.65" y2="568.56" stroke="#6fb37c" stroke-width="0.6" opacity="0.55"/>
<rect x="48.65" y="569.46" width="2" height="2" fill="#3a6f4c"/>
<line x1="63.50" y1="572.99" x2="63.50" y2="569.19" stroke="#6fb37c" stroke-width="0.6" opacity="0.55"/>
<rect x="62.50" y="570.09" width="2" height="2" fill="#3a6f4c"/>
<line x1="77.35" y1="572.99" x2="77.35" y2="569.19" stroke="#6fb37c" stroke-width="0.6" opacity="0.55"/>
<rect x="76.35" y="570.09" width="2" height="2" fill="#3a6f4c"/>
<line x1="91.20" y1="572.99" x2="91.20" y2="569.19" stroke="#6fb37c" stroke-width="0.6" opacity="0.55"/>
<rect x="90.20" y="570.09" width="2" height="2" fill="#3a6f4c"/>
<line x1="105.05" y1="589.44" x2="105.05" y2="585.65" stroke="#6fb37c" stroke-width="0.6" opacity="0.55"/>
<rect x="104.05" y="586.54" width="2" height="2" fill="#3a6f4c"/>
<polyline points="35.80,575.52 49.65,574.26 63.50,572.36 77.35,574.26 91.20,569.83 105.05,580.58" fill="none" stroke="#36658f" stroke-width="0.9"/>
<line x1="35.80" y1="578.69" x2="35.80" y2="572.36" stroke="#36658f" stroke-width="0.6" opacity="0.55"/>
<rect x="34.80" y="574.52" width="2" height="2" fill="#1c3550"/>
<line x1="49.65" y1="577.42" x2="49.65" y2="571.09" stroke="#36658f" stroke-width="0.6" opacity="0.55"/>
<rect x="48.65" y="573.26" width="2" height="2" fill="#1c3550"/>
<line x1="63.50" y1="575.52" x2="63.50" y2="569.19" stroke="#36658f" stroke-width="0.6" opacity="0.55"/>
<rect x="62.50" y="571.36" width="2" height="2" fill="#1c3550"/>
<line x1="77.35" y1="577.42" x2="77.35" y2="571.09" stroke="#36658f" stroke-width="0.6" opacity="0.55"/>
<rect x="76.35" y="573.26" width="2" height="2" fill="#1c3550"/>
<line x1="91.20" y1="572.99" x2="91.20" y2="566.66" stroke="#36658f" stroke-width="0.6" opacity="0.55"/>
<rect x="90.20" y="568.83" width="2" height="2" fill="#1c3550"/>
<line x1="105.05" y1="583.75" x2="105.05" y2="577.42" stroke="#36658f" stroke-width="0.6" opacity="0.55"/>
<rect x="104.05" y="579.58" width="2" height="2" fill="#1c3550"/>
<polyline points="35.80,569.83 49.65,569.83 63.50,574.26 77.35,576.79 91.20,571.09 105.05,576.79" fill="none" stroke="#c8405f" stroke-width="0.9"/>
<line x1="35.80" y1="571.09" x2="35.80" y2="568.56" stroke="#c8405f" stroke-width="0.6" opacity="0.55"/>
<rect x="34.80" y="568.83" width="2" height="2" fill="#8e2038"/>
<line x1="49.65" y1="571.09" x2="49.65" y2="568.56" stroke="#c8405f" stroke-width="0.6" opacity="0.55"/>
<rect x="48.65" y="568.83" width="2" height="2" fill="#8e2038"/>
<line x1="63.50" y1="575.52" x2="63.50" y2="572.99" stroke="#c8405f" stroke-width="0.6" opacity="0.55"/>
<rect x="62.50" y="573.26" width="2" height="2" fill="#8e2038"/>
<line x1="77.35" y1="578.05" x2="77.35" y2="575.52" stroke="#c8405f" stroke-width="0.6" opacity="0.55"/>
<rect x="76.35" y="575.79" width="2" height="2" fill="#8e2038"/>
<line x1="91.20" y1="572.36" x2="91.20" y2="569.83" stroke="#c8405f" stroke-width="0.6" opacity="0.55"/>
<rect x="90.20" y="570.09" width="2" height="2" fill="#8e2038"/>
<line x1="105.05" y1="578.05" x2="105.05" y2="575.52" stroke="#c8405f" stroke-width="0.6" opacity="0.55"/>
<rect x="104.05" y="575.79" width="2" height="2" fill="#8e2038"/>
<path d="M169,560.5 V633.1 M166,633.1 H241" fill="none" stroke="#111" stroke-width="1.15"/>
<line x1="166" y1="633.10" x2="169" y2="633.10" stroke="#111" stroke-width="0.8"/>
<text transform="translate(162.80,635.30) scale(1,1.05)" font-size="6.3" text-anchor="end" font-weight="normal" fill="#2a2a2a" stroke="#2a2a2a" stroke-width="0.12" >0</text>
<line x1="166" y1="626.77" x2="169" y2="626.77" stroke="#111" stroke-width="0.8"/>
<text transform="translate(162.80,628.97) scale(1,1.05)" font-size="6.3" text-anchor="end" font-weight="normal" fill="#2a2a2a" stroke="#2a2a2a" stroke-width="0.12" >10</text>
<line x1="166" y1="620.45" x2="169" y2="620.45" stroke="#111" stroke-width="0.8"/>
<text transform="translate(162.80,622.65) scale(1,1.05)" font-size="6.3" text-anchor="end" font-weight="normal" fill="#2a2a2a" stroke="#2a2a2a" stroke-width="0.12" >20</text>
<line x1="166" y1="614.12" x2="169" y2="614.12" stroke="#111" stroke-width="0.8"/>
<text transform="translate(162.80,616.32) scale(1,1.05)" font-size="6.3" text-anchor="end" font-weight="normal" fill="#2a2a2a" stroke="#2a2a2a" stroke-width="0.12" >30</text>
<line x1="166" y1="607.79" x2="169" y2="607.79" stroke="#111" stroke-width="0.8"/>
<text transform="translate(162.80,609.99) scale(1,1.05)" font-size="6.3" text-anchor="end" font-weight="normal" fill="#2a2a2a" stroke="#2a2a2a" stroke-width="0.12" >40</text>
<line x1="166" y1="601.46" x2="169" y2="601.46" stroke="#111" stroke-width="0.8"/>
<text transform="translate(162.80,603.66) scale(1,1.05)" font-size="6.3" text-anchor="end" font-weight="normal" fill="#2a2a2a" stroke="#2a2a2a" stroke-width="0.12" >50</text>
<line x1="166" y1="595.14" x2="169" y2="595.14" stroke="#111" stroke-width="0.8"/>
<text transform="translate(162.80,597.34) scale(1,1.05)" font-size="6.3" text-anchor="end" font-weight="normal" fill="#2a2a2a" stroke="#2a2a2a" stroke-width="0.12" >60</text>
<line x1="166" y1="588.81" x2="169" y2="588.81" stroke="#111" stroke-width="0.8"/>
<text transform="translate(162.80,591.01) scale(1,1.05)" font-size="6.3" text-anchor="end" font-weight="normal" fill="#2a2a2a" stroke="#2a2a2a" stroke-width="0.12" >70</text>
<line x1="166" y1="582.48" x2="169" y2="582.48" stroke="#111" stroke-width="0.8"/>
<text transform="translate(162.80,584.68) scale(1,1.05)" font-size="6.3" text-anchor="end" font-weight="normal" fill="#2a2a2a" stroke="#2a2a2a" stroke-width="0.12" >80</text>
<line x1="166" y1="576.15" x2="169" y2="576.15" stroke="#111" stroke-width="0.8"/>
<text transform="translate(162.80,578.35) scale(1,1.05)" font-size="6.3" text-anchor="end" font-weight="normal" fill="#2a2a2a" stroke="#2a2a2a" stroke-width="0.12" >90</text>
<line x1="166" y1="569.83" x2="169" y2="569.83" stroke="#111" stroke-width="0.8"/>
<text transform="translate(162.80,572.03) scale(1,1.05)" font-size="6.3" text-anchor="end" font-weight="normal" fill="#2a2a2a" stroke="#2a2a2a" stroke-width="0.12" >100</text>
<line x1="166" y1="563.50" x2="169" y2="563.50" stroke="#111" stroke-width="0.8"/>
<text transform="translate(162.80,565.70) scale(1,1.05)" font-size="6.3" text-anchor="end" font-weight="normal" fill="#2a2a2a" stroke="#2a2a2a" stroke-width="0.12" >110</text>
<line x1="169.00" y1="633.1" x2="169.00" y2="635.3000000000001" stroke="#111" stroke-width="0.8"/>
<text transform="translate(172.30,646.3000000000001) rotate(-27)" font-size="6.6" text-anchor="end" fill="#2a2a2a">10<tspan font-size="4.2" dy="-3.1">&#8722;4</tspan></text>
<line x1="182.85" y1="633.1" x2="182.85" y2="635.3000000000001" stroke="#111" stroke-width="0.8"/>
<text transform="translate(186.15,646.3000000000001) rotate(-27)" font-size="6.6" text-anchor="end" fill="#2a2a2a">10<tspan font-size="4.2" dy="-3.1">&#8722;3</tspan></text>
<line x1="196.70" y1="633.1" x2="196.70" y2="635.3000000000001" stroke="#111" stroke-width="0.8"/>
<text transform="translate(200.00,646.3000000000001) rotate(-27)" font-size="6.6" text-anchor="end" fill="#2a2a2a">10<tspan font-size="4.2" dy="-3.1">&#8722;2</tspan></text>
<line x1="210.55" y1="633.1" x2="210.55" y2="635.3000000000001" stroke="#111" stroke-width="0.8"/>
<text transform="translate(213.85,646.3000000000001) rotate(-27)" font-size="6.6" text-anchor="end" fill="#2a2a2a">10<tspan font-size="4.2" dy="-3.1">&#8722;1</tspan></text>
<line x1="224.40" y1="633.1" x2="224.40" y2="635.3000000000001" stroke="#111" stroke-width="0.8"/>
<text transform="translate(227.70,646.3000000000001) rotate(-27)" font-size="6.6" text-anchor="end" fill="#2a2a2a">10<tspan font-size="4.2" dy="-3.1">0</tspan></text>
<line x1="238.25" y1="633.1" x2="238.25" y2="635.3000000000001" stroke="#111" stroke-width="0.8"/>
<text transform="translate(241.55,646.3000000000001) rotate(-27)" font-size="6.6" text-anchor="end" fill="#2a2a2a">10<tspan font-size="4.2" dy="-3.1">1</tspan></text>
<text transform="translate(205.00,663.1) scale(0.73,1)" font-size="8" font-weight="bold" text-anchor="middle" fill="#2a2a2a" stroke="#2a2a2a" stroke-width="0.15">[ADC] (nM)</text>
<text transform="translate(146.80,597.50) rotate(-90) scale(0.72,1)" font-size="7.8" font-weight="bold" text-anchor="middle" fill="#2a2a2a" stroke="#2a2a2a" stroke-width="0.15">% of Maximum</text>
<polyline points="169.00,569.83 169.87,569.83 170.73,569.83 171.60,569.83 172.46,569.83 173.33,569.83 174.19,569.84 175.06,569.84 175.93,569.84 176.79,569.84 177.66,569.84 178.52,569.84 179.39,569.85 180.25,569.85 181.12,569.86 181.98,569.86 182.85,569.87 183.72,569.87 184.58,569.88 185.45,569.89 186.31,569.90 187.18,569.91 188.04,569.92 188.91,569.94 189.78,569.96 190.64,569.98 191.51,570.01 192.37,570.04 193.24,570.07 194.10,570.11 194.97,570.16 195.83,570.22 196.70,570.28 197.57,570.36 198.43,570.45 199.30,570.55 200.16,570.67 201.03,570.81 201.89,570.98 202.76,571.16 203.62,571.38 204.49,571.64 205.36,571.93 206.22,572.27 207.09,572.66 207.95,573.12 208.82,573.64 209.68,574.23 210.55,574.91 211.42,575.69 212.28,576.57 213.15,577.57 214.01,578.68 214.88,579.94 215.74,581.33 216.61,582.86 217.47,584.54 218.34,586.37 219.21,588.34 220.07,590.44 220.94,592.66 221.80,594.97 222.67,597.36 223.53,599.79 224.40,602.25 225.27,604.70 226.13,607.11 227.00,609.45 227.86,611.70 228.73,613.85 229.59,615.86 230.46,617.74 231.32,619.48 232.19,621.06 233.06,622.51 233.92,623.81 234.79,624.97 235.65,626.01 236.52,626.93 237.38,627.75 238.25,628.46" fill="none" stroke="#6fb37c" stroke-width="0.9"/>
<line x1="182.85" y1="574.26" x2="182.85" y2="569.19" stroke="#6fb37c" stroke-width="0.6" opacity="0.55"/>
<rect x="181.85" y="570.73" width="2" height="2" fill="#3a6f4c"/>
<line x1="196.70" y1="572.36" x2="196.70" y2="567.30" stroke="#6fb37c" stroke-width="0.6" opacity="0.55"/>
<rect x="195.70" y="568.83" width="2" height="2" fill="#3a6f4c"/>
<line x1="210.55" y1="577.42" x2="210.55" y2="572.36" stroke="#6fb37c" stroke-width="0.6" opacity="0.55"/>
<rect x="209.55" y="573.89" width="2" height="2" fill="#3a6f4c"/>
<line x1="224.40" y1="604.63" x2="224.40" y2="599.57" stroke="#6fb37c" stroke-width="0.6" opacity="0.55"/>
<rect x="223.40" y="601.10" width="2" height="2" fill="#3a6f4c"/>
<line x1="238.25" y1="623.61" x2="238.25" y2="618.55" stroke="#6fb37c" stroke-width="0.6" opacity="0.55"/>
<rect x="237.25" y="620.08" width="2" height="2" fill="#3a6f4c"/>
<polyline points="169.00,569.83 169.87,569.83 170.73,569.83 171.60,569.83 172.46,569.83 173.33,569.83 174.19,569.83 175.06,569.83 175.93,569.83 176.79,569.83 177.66,569.83 178.52,569.83 179.39,569.83 180.25,569.83 181.12,569.83 181.98,569.83 182.85,569.83 183.72,569.83 184.58,569.83 185.45,569.83 186.31,569.83 187.18,569.83 188.04,569.83 188.91,569.83 189.78,569.83 190.64,569.83 191.51,569.83 192.37,569.83 193.24,569.83 194.10,569.83 194.97,569.83 195.83,569.83 196.70,569.84 197.57,569.84 198.43,569.84 199.30,569.84 200.16,569.85 201.03,569.85 201.89,569.85 202.76,569.86 203.62,569.87 204.49,569.88 205.36,569.89 206.22,569.90 207.09,569.91 207.95,569.93 208.82,569.96 209.68,569.98 210.55,570.02 211.42,570.06 212.28,570.10 213.15,570.16 214.01,570.24 214.88,570.32 215.74,570.43 216.61,570.56 217.47,570.71 218.34,570.90 219.21,571.12 220.07,571.39 220.94,571.72 221.80,572.11 222.67,572.57 223.53,573.13 224.40,573.80 225.27,574.58 226.13,575.51 227.00,576.60 227.86,577.87 228.73,579.33 229.59,581.01 230.46,582.91 231.32,585.04 232.19,587.40 233.06,589.97 233.92,592.72 234.79,595.63 235.65,598.64 236.52,601.71 237.38,604.77 238.25,607.77" fill="none" stroke="#36658f" stroke-width="0.9"/>
<line x1="182.85" y1="577.42" x2="182.85" y2="571.09" stroke="#36658f" stroke-width="0.6" opacity="0.55"/>
<rect x="181.85" y="573.26" width="2" height="2" fill="#1c3550"/>
<line x1="196.70" y1="572.99" x2="196.70" y2="566.66" stroke="#36658f" stroke-width="0.6" opacity="0.55"/>
<rect x="195.70" y="568.83" width="2" height="2" fill="#1c3550"/>
<line x1="210.55" y1="582.48" x2="210.55" y2="576.15" stroke="#36658f" stroke-width="0.6" opacity="0.55"/>
<rect x="209.55" y="578.32" width="2" height="2" fill="#1c3550"/>
<line x1="224.40" y1="575.52" x2="224.40" y2="569.19" stroke="#36658f" stroke-width="0.6" opacity="0.55"/>
<rect x="223.40" y="571.36" width="2" height="2" fill="#1c3550"/>
<line x1="238.25" y1="610.32" x2="238.25" y2="603.99" stroke="#36658f" stroke-width="0.6" opacity="0.55"/>
<rect x="237.25" y="606.16" width="2" height="2" fill="#1c3550"/>
<polyline points="169.00,569.87 169.87,569.87 170.73,569.88 171.60,569.89 172.46,569.91 173.33,569.92 174.19,569.94 175.06,569.96 175.93,569.98 176.79,570.01 177.66,570.05 178.52,570.09 179.39,570.14 180.25,570.19 181.12,570.26 181.98,570.34 182.85,570.44 183.72,570.55 184.58,570.68 185.45,570.84 186.31,571.03 187.18,571.25 188.04,571.50 188.91,571.81 189.78,572.16 190.64,572.58 191.51,573.07 192.37,573.64 193.24,574.30 194.10,575.07 194.97,575.95 195.83,576.97 196.70,578.13 197.57,579.44 198.43,580.92 199.30,582.58 200.16,584.41 201.03,586.42 201.89,588.60 202.76,590.94 203.62,593.41 204.49,595.99 205.36,598.65 206.22,601.36 207.09,604.06 207.95,606.72 208.82,609.31 209.68,611.80 210.55,614.15 211.42,616.34 212.28,618.36 213.15,620.21 214.01,621.88 214.88,623.37 215.74,624.70 216.61,625.87 217.47,626.90 218.34,627.79 219.21,628.57 220.07,629.24 220.94,629.81 221.80,630.31 222.67,630.73 223.53,631.09 224.40,631.40 225.27,631.66 226.13,631.88 227.00,632.07 227.86,632.23 228.73,632.37 229.59,632.48 230.46,632.58 231.32,632.66 232.19,632.73 233.06,632.79 233.92,632.84 234.79,632.88 235.65,632.91 236.52,632.94 237.38,632.97 238.25,632.99" fill="none" stroke="#c8405f" stroke-width="0.9"/>
<line x1="182.85" y1="572.36" x2="182.85" y2="568.56" stroke="#c8405f" stroke-width="0.6" opacity="0.55"/>
<rect x="181.85" y="569.46" width="2" height="2" fill="#8e2038"/>
<line x1="196.70" y1="579.95" x2="196.70" y2="576.15" stroke="#c8405f" stroke-width="0.6" opacity="0.55"/>
<rect x="195.70" y="577.05" width="2" height="2" fill="#8e2038"/>
<line x1="210.55" y1="616.02" x2="210.55" y2="612.22" stroke="#c8405f" stroke-width="0.6" opacity="0.55"/>
<rect x="209.55" y="613.12" width="2" height="2" fill="#8e2038"/>
<line x1="224.40" y1="625.51" x2="224.40" y2="621.71" stroke="#c8405f" stroke-width="0.6" opacity="0.55"/>
<rect x="223.40" y="622.61" width="2" height="2" fill="#8e2038"/>
<line x1="238.25" y1="630.57" x2="238.25" y2="626.77" stroke="#c8405f" stroke-width="0.6" opacity="0.55"/>
<rect x="237.25" y="627.67" width="2" height="2" fill="#8e2038"/>
<path d="M299,560.5 V633.1 M296,633.1 H371" fill="none" stroke="#111" stroke-width="1.15"/>
<line x1="296" y1="633.10" x2="299" y2="633.10" stroke="#111" stroke-width="0.8"/>
<text transform="translate(292.80,635.30) scale(1,1.05)" font-size="6.3" text-anchor="end" font-weight="normal" fill="#2a2a2a" stroke="#2a2a2a" stroke-width="0.12" >0</text>
<line x1="296" y1="626.77" x2="299" y2="626.77" stroke="#111" stroke-width="0.8"/>
<text transform="translate(292.80,628.97) scale(1,1.05)" font-size="6.3" text-anchor="end" font-weight="normal" fill="#2a2a2a" stroke="#2a2a2a" stroke-width="0.12" >10</text>
<line x1="296" y1="620.45" x2="299" y2="620.45" stroke="#111" stroke-width="0.8"/>
<text transform="translate(292.80,622.65) scale(1,1.05)" font-size="6.3" text-anchor="end" font-weight="normal" fill="#2a2a2a" stroke="#2a2a2a" stroke-width="0.12" >20</text>
<line x1="296" y1="614.12" x2="299" y2="614.12" stroke="#111" stroke-width="0.8"/>
<text transform="translate(292.80,616.32) scale(1,1.05)" font-size="6.3" text-anchor="end" font-weight="normal" fill="#2a2a2a" stroke="#2a2a2a" stroke-width="0.12" >30</text>
<line x1="296" y1="607.79" x2="299" y2="607.79" stroke="#111" stroke-width="0.8"/>
<text transform="translate(292.80,609.99) scale(1,1.05)" font-size="6.3" text-anchor="end" font-weight="normal" fill="#2a2a2a" stroke="#2a2a2a" stroke-width="0.12" >40</text>
<line x1="296" y1="601.46" x2="299" y2="601.46" stroke="#111" stroke-width="0.8"/>
<text transform="translate(292.80,603.66) scale(1,1.05)" font-size="6.3" text-anchor="end" font-weight="normal" fill="#2a2a2a" stroke="#2a2a2a" stroke-width="0.12" >50</text>
<line x1="296" y1="595.14" x2="299" y2="595.14" stroke="#111" stroke-width="0.8"/>
<text transform="translate(292.80,597.34) scale(1,1.05)" font-size="6.3" text-anchor="end" font-weight="normal" fill="#2a2a2a" stroke="#2a2a2a" stroke-width="0.12" >60</text>
<line x1="296" y1="588.81" x2="299" y2="588.81" stroke="#111" stroke-width="0.8"/>
<text transform="translate(292.80,591.01) scale(1,1.05)" font-size="6.3" text-anchor="end" font-weight="normal" fill="#2a2a2a" stroke="#2a2a2a" stroke-width="0.12" >70</text>
<line x1="296" y1="582.48" x2="299" y2="582.48" stroke="#111" stroke-width="0.8"/>
<text transform="translate(292.80,584.68) scale(1,1.05)" font-size="6.3" text-anchor="end" font-weight="normal" fill="#2a2a2a" stroke="#2a2a2a" stroke-width="0.12" >80</text>
<line x1="296" y1="576.15" x2="299" y2="576.15" stroke="#111" stroke-width="0.8"/>
<text transform="translate(292.80,578.35) scale(1,1.05)" font-size="6.3" text-anchor="end" font-weight="normal" fill="#2a2a2a" stroke="#2a2a2a" stroke-width="0.12" >90</text>
<line x1="296" y1="569.83" x2="299" y2="569.83" stroke="#111" stroke-width="0.8"/>
<text transform="translate(292.80,572.03) scale(1,1.05)" font-size="6.3" text-anchor="end" font-weight="normal" fill="#2a2a2a" stroke="#2a2a2a" stroke-width="0.12" >100</text>
<line x1="296" y1="563.50" x2="299" y2="563.50" stroke="#111" stroke-width="0.8"/>
<text transform="translate(292.80,565.70) scale(1,1.05)" font-size="6.3" text-anchor="end" font-weight="normal" fill="#2a2a2a" stroke="#2a2a2a" stroke-width="0.12" >110</text>
<line x1="299.00" y1="633.1" x2="299.00" y2="635.3000000000001" stroke="#111" stroke-width="0.8"/>
<text transform="translate(302.30,646.3000000000001) rotate(-27)" font-size="6.6" text-anchor="end" fill="#2a2a2a">10<tspan font-size="4.2" dy="-3.1">&#8722;4</tspan></text>
<line x1="312.85" y1="633.1" x2="312.85" y2="635.3000000000001" stroke="#111" stroke-width="0.8"/>
<text transform="translate(316.15,646.3000000000001) rotate(-27)" font-size="6.6" text-anchor="end" fill="#2a2a2a">10<tspan font-size="4.2" dy="-3.1">&#8722;3</tspan></text>
<line x1="326.70" y1="633.1" x2="326.70" y2="635.3000000000001" stroke="#111" stroke-width="0.8"/>
<text transform="translate(330.00,646.3000000000001) rotate(-27)" font-size="6.6" text-anchor="end" fill="#2a2a2a">10<tspan font-size="4.2" dy="-3.1">&#8722;2</tspan></text>
<line x1="340.55" y1="633.1" x2="340.55" y2="635.3000000000001" stroke="#111" stroke-width="0.8"/>
<text transform="translate(343.85,646.3000000000001) rotate(-27)" font-size="6.6" text-anchor="end" fill="#2a2a2a">10<tspan font-size="4.2" dy="-3.1">&#8722;1</tspan></text>
<line x1="354.40" y1="633.1" x2="354.40" y2="635.3000000000001" stroke="#111" stroke-width="0.8"/>
<text transform="translate(357.70,646.3000000000001) rotate(-27)" font-size="6.6" text-anchor="end" fill="#2a2a2a">10<tspan font-size="4.2" dy="-3.1">0</tspan></text>
<line x1="368.25" y1="633.1" x2="368.25" y2="635.3000000000001" stroke="#111" stroke-width="0.8"/>
<text transform="translate(371.55,646.3000000000001) rotate(-27)" font-size="6.6" text-anchor="end" fill="#2a2a2a">10<tspan font-size="4.2" dy="-3.1">1</tspan></text>
<text transform="translate(335.00,663.1) scale(0.73,1)" font-size="8" font-weight="bold" text-anchor="middle" fill="#2a2a2a" stroke="#2a2a2a" stroke-width="0.15">[ADC] (nM)</text>
<text transform="translate(276.80,597.50) rotate(-90) scale(0.72,1)" font-size="7.8" font-weight="bold" text-anchor="middle" fill="#2a2a2a" stroke="#2a2a2a" stroke-width="0.15">% of Maximum</text>
<polyline points="299.00,569.83 299.87,569.83 300.73,569.83 301.60,569.83 302.46,569.83 303.33,569.83 304.19,569.83 305.06,569.83 305.93,569.83 306.79,569.83 307.66,569.83 308.52,569.83 309.39,569.83 310.25,569.83 311.12,569.84 311.98,569.84 312.85,569.84 313.72,569.84 314.58,569.84 315.45,569.85 316.31,569.85 317.18,569.85 318.04,569.86 318.91,569.87 319.77,569.87 320.64,569.88 321.51,569.89 322.37,569.90 323.24,569.92 324.10,569.93 324.97,569.96 325.83,569.98 326.70,570.01 327.57,570.04 328.43,570.08 329.30,570.13 330.16,570.19 331.03,570.25 331.89,570.33 332.76,570.43 333.62,570.54 334.49,570.67 335.36,570.83 336.22,571.01 337.09,571.23 337.95,571.49 338.82,571.79 339.68,572.15 340.55,572.57 341.42,573.06 342.28,573.63 343.15,574.30 344.01,575.07 344.88,575.96 345.74,576.99 346.61,578.16 347.48,579.49 348.34,580.99 349.21,582.67 350.07,584.53 350.94,586.57 351.80,588.78 352.67,591.15 353.53,593.65 354.40,596.27 355.27,598.96 356.13,601.68 357.00,604.41 357.86,607.09 358.73,609.68 359.59,612.17 360.46,614.51 361.32,616.70 362.19,618.71 363.06,620.54 363.92,622.19 364.79,623.66 365.65,624.96 366.52,626.11 367.38,627.12 368.25,627.99" fill="none" stroke="#6fb37c" stroke-width="0.9"/>
<line x1="312.85" y1="571.09" x2="312.85" y2="564.77" stroke="#6fb37c" stroke-width="0.6" opacity="0.55"/>
<rect x="311.85" y="566.93" width="2" height="2" fill="#3a6f4c"/>
<line x1="326.70" y1="577.42" x2="326.70" y2="571.09" stroke="#6fb37c" stroke-width="0.6" opacity="0.55"/>
<rect x="325.70" y="573.26" width="2" height="2" fill="#3a6f4c"/>
<line x1="340.55" y1="577.42" x2="340.55" y2="571.09" stroke="#6fb37c" stroke-width="0.6" opacity="0.55"/>
<rect x="339.55" y="573.26" width="2" height="2" fill="#3a6f4c"/>
<line x1="354.40" y1="597.03" x2="354.40" y2="590.71" stroke="#6fb37c" stroke-width="0.6" opacity="0.55"/>
<rect x="353.40" y="592.87" width="2" height="2" fill="#3a6f4c"/>
<line x1="368.25" y1="631.20" x2="368.25" y2="624.87" stroke="#6fb37c" stroke-width="0.6" opacity="0.55"/>
<rect x="367.25" y="627.04" width="2" height="2" fill="#3a6f4c"/>
<polyline points="299.00,569.83 299.87,569.83 300.73,569.83 301.60,569.83 302.46,569.83 303.33,569.83 304.19,569.83 305.06,569.83 305.93,569.83 306.79,569.83 307.66,569.83 308.52,569.83 309.39,569.83 310.25,569.83 311.12,569.83 311.98,569.83 312.85,569.83 313.72,569.83 314.58,569.83 315.45,569.83 316.31,569.84 317.18,569.84 318.04,569.84 318.91,569.84 319.77,569.84 320.64,569.85 321.51,569.85 322.37,569.85 323.24,569.86 324.10,569.86 324.97,569.87 325.83,569.88 326.70,569.89 327.57,569.90 328.43,569.92 329.30,569.93 330.16,569.95 331.03,569.98 331.89,570.01 332.76,570.04 333.62,570.08 334.49,570.13 335.36,570.18 336.22,570.25 337.09,570.33 337.95,570.42 338.82,570.53 339.68,570.66 340.55,570.81 341.42,571.00 342.28,571.21 343.15,571.47 344.01,571.77 344.88,572.12 345.74,572.53 346.61,573.02 347.48,573.58 348.34,574.24 349.21,575.00 350.07,575.89 350.94,576.90 351.80,578.06 352.67,579.38 353.53,580.87 354.40,582.53 355.27,584.37 356.13,586.40 357.00,588.59 357.86,590.95 358.73,593.45 359.59,596.05 360.46,598.74 361.32,601.46 362.19,604.19 363.06,606.87 363.92,609.48 364.79,611.98 365.65,614.33 366.52,616.53 367.38,618.55 368.25,620.40" fill="none" stroke="#36658f" stroke-width="0.9"/>
<line x1="312.85" y1="571.73" x2="312.85" y2="567.93" stroke="#36658f" stroke-width="0.6" opacity="0.55"/>
<rect x="311.85" y="568.83" width="2" height="2" fill="#1c3550"/>
<line x1="326.70" y1="576.15" x2="326.70" y2="572.36" stroke="#36658f" stroke-width="0.6" opacity="0.55"/>
<rect x="325.70" y="573.26" width="2" height="2" fill="#1c3550"/>
<line x1="340.55" y1="571.73" x2="340.55" y2="567.93" stroke="#36658f" stroke-width="0.6" opacity="0.55"/>
<rect x="339.55" y="568.83" width="2" height="2" fill="#1c3550"/>
<line x1="354.40" y1="579.95" x2="354.40" y2="576.15" stroke="#36658f" stroke-width="0.6" opacity="0.55"/>
<rect x="353.40" y="577.05" width="2" height="2" fill="#1c3550"/>
<line x1="368.25" y1="633.10" x2="368.25" y2="629.30" stroke="#36658f" stroke-width="0.6" opacity="0.55"/>
<rect x="367.25" y="630.20" width="2" height="2" fill="#1c3550"/>
<polyline points="299.00,569.89 299.87,569.90 300.73,569.91 301.60,569.92 302.46,569.93 303.33,569.95 304.19,569.97 305.06,569.99 305.93,570.01 306.79,570.04 307.66,570.08 308.52,570.11 309.39,570.16 310.25,570.21 311.12,570.27 311.98,570.33 312.85,570.41 313.72,570.50 314.58,570.61 315.45,570.72 316.31,570.86 317.18,571.02 318.04,571.20 318.91,571.40 319.77,571.64 320.64,571.91 321.51,572.22 322.37,572.58 323.24,572.98 324.10,573.44 324.97,573.97 325.83,574.56 326.70,575.23 327.57,575.98 328.43,576.83 329.30,577.78 330.16,578.83 331.03,580.00 331.89,581.29 332.76,582.71 333.62,584.25 334.49,585.91 335.36,587.70 336.22,589.60 337.09,591.60 337.95,593.70 338.82,595.88 339.68,598.11 340.55,600.37 341.42,602.65 342.28,604.91 343.15,607.14 344.01,609.31 344.88,611.40 345.74,613.41 346.61,615.30 347.48,617.09 348.34,618.75 349.21,620.28 350.07,621.69 350.94,622.97 351.80,624.14 352.67,625.19 353.53,626.13 354.40,626.98 355.27,627.73 356.13,628.39 357.00,628.98 357.86,629.50 358.73,629.96 359.59,630.36 360.46,630.72 361.32,631.03 362.19,631.30 363.06,631.53 363.92,631.74 364.79,631.92 365.65,632.07 366.52,632.21 367.38,632.33 368.25,632.43" fill="none" stroke="#c8405f" stroke-width="0.9"/>
<line x1="312.85" y1="577.42" x2="312.85" y2="574.89" stroke="#c8405f" stroke-width="0.6" opacity="0.55"/>
<rect x="311.85" y="575.15" width="2" height="2" fill="#8e2038"/>
<line x1="326.70" y1="574.89" x2="326.70" y2="572.36" stroke="#c8405f" stroke-width="0.6" opacity="0.55"/>
<rect x="325.70" y="572.62" width="2" height="2" fill="#8e2038"/>
<line x1="340.55" y1="601.46" x2="340.55" y2="598.93" stroke="#c8405f" stroke-width="0.6" opacity="0.55"/>
<rect x="339.55" y="599.20" width="2" height="2" fill="#8e2038"/>
<line x1="354.40" y1="624.24" x2="354.40" y2="621.71" stroke="#c8405f" stroke-width="0.6" opacity="0.55"/>
<rect x="353.40" y="621.98" width="2" height="2" fill="#8e2038"/>
<line x1="368.25" y1="633.10" x2="368.25" y2="630.57" stroke="#c8405f" stroke-width="0.6" opacity="0.55"/>
<rect x="367.25" y="630.83" width="2" height="2" fill="#8e2038"/>
<path d="M425.8,560.5 V633.1 M422.8,633.1 H498" fill="none" stroke="#111" stroke-width="1.15"/>
<line x1="422.8" y1="633.10" x2="425.8" y2="633.10" stroke="#111" stroke-width="0.8"/>
<text transform="translate(419.60,635.30) scale(1,1.05)" font-size="6.3" text-anchor="end" font-weight="normal" fill="#2a2a2a" stroke="#2a2a2a" stroke-width="0.12" >0</text>
<line x1="422.8" y1="626.77" x2="425.8" y2="626.77" stroke="#111" stroke-width="0.8"/>
<text transform="translate(419.60,628.97) scale(1,1.05)" font-size="6.3" text-anchor="end" font-weight="normal" fill="#2a2a2a" stroke="#2a2a2a" stroke-width="0.12" >10</text>
<line x1="422.8" y1="620.45" x2="425.8" y2="620.45" stroke="#111" stroke-width="0.8"/>
<text transform="translate(419.60,622.65) scale(1,1.05)" font-size="6.3" text-anchor="end" font-weight="normal" fill="#2a2a2a" stroke="#2a2a2a" stroke-width="0.12" >20</text>
<line x1="422.8" y1="614.12" x2="425.8" y2="614.12" stroke="#111" stroke-width="0.8"/>
<text transform="translate(419.60,616.32) scale(1,1.05)" font-size="6.3" text-anchor="end" font-weight="normal" fill="#2a2a2a" stroke="#2a2a2a" stroke-width="0.12" >30</text>
<line x1="422.8" y1="607.79" x2="425.8" y2="607.79" stroke="#111" stroke-width="0.8"/>
<text transform="translate(419.60,609.99) scale(1,1.05)" font-size="6.3" text-anchor="end" font-weight="normal" fill="#2a2a2a" stroke="#2a2a2a" stroke-width="0.12" >40</text>
<line x1="422.8" y1="601.46" x2="425.8" y2="601.46" stroke="#111" stroke-width="0.8"/>
<text transform="translate(419.60,603.66) scale(1,1.05)" font-size="6.3" text-anchor="end" font-weight="normal" fill="#2a2a2a" stroke="#2a2a2a" stroke-width="0.12" >50</text>
<line x1="422.8" y1="595.14" x2="425.8" y2="595.14" stroke="#111" stroke-width="0.8"/>
<text transform="translate(419.60,597.34) scale(1,1.05)" font-size="6.3" text-anchor="end" font-weight="normal" fill="#2a2a2a" stroke="#2a2a2a" stroke-width="0.12" >60</text>
<line x1="422.8" y1="588.81" x2="425.8" y2="588.81" stroke="#111" stroke-width="0.8"/>
<text transform="translate(419.60,591.01) scale(1,1.05)" font-size="6.3" text-anchor="end" font-weight="normal" fill="#2a2a2a" stroke="#2a2a2a" stroke-width="0.12" >70</text>
<line x1="422.8" y1="582.48" x2="425.8" y2="582.48" stroke="#111" stroke-width="0.8"/>
<text transform="translate(419.60,584.68) scale(1,1.05)" font-size="6.3" text-anchor="end" font-weight="normal" fill="#2a2a2a" stroke="#2a2a2a" stroke-width="0.12" >80</text>
<line x1="422.8" y1="576.15" x2="425.8" y2="576.15" stroke="#111" stroke-width="0.8"/>
<text transform="translate(419.60,578.35) scale(1,1.05)" font-size="6.3" text-anchor="end" font-weight="normal" fill="#2a2a2a" stroke="#2a2a2a" stroke-width="0.12" >90</text>
<line x1="422.8" y1="569.83" x2="425.8" y2="569.83" stroke="#111" stroke-width="0.8"/>
<text transform="translate(419.60,572.03) scale(1,1.05)" font-size="6.3" text-anchor="end" font-weight="normal" fill="#2a2a2a" stroke="#2a2a2a" stroke-width="0.12" >100</text>
<line x1="422.8" y1="563.50" x2="425.8" y2="563.50" stroke="#111" stroke-width="0.8"/>
<text transform="translate(419.60,565.70) scale(1,1.05)" font-size="6.3" text-anchor="end" font-weight="normal" fill="#2a2a2a" stroke="#2a2a2a" stroke-width="0.12" >110</text>
<line x1="425.80" y1="633.1" x2="425.80" y2="635.3000000000001" stroke="#111" stroke-width="0.8"/>
<text transform="translate(429.10,646.3000000000001) rotate(-27)" font-size="6.6" text-anchor="end" fill="#2a2a2a">10<tspan font-size="4.2" dy="-3.1">&#8722;4</tspan></text>
<line x1="439.65" y1="633.1" x2="439.65" y2="635.3000000000001" stroke="#111" stroke-width="0.8"/>
<text transform="translate(442.95,646.3000000000001) rotate(-27)" font-size="6.6" text-anchor="end" fill="#2a2a2a">10<tspan font-size="4.2" dy="-3.1">&#8722;3</tspan></text>
<line x1="453.50" y1="633.1" x2="453.50" y2="635.3000000000001" stroke="#111" stroke-width="0.8"/>
<text transform="translate(456.80,646.3000000000001) rotate(-27)" font-size="6.6" text-anchor="end" fill="#2a2a2a">10<tspan font-size="4.2" dy="-3.1">&#8722;2</tspan></text>
<line x1="467.35" y1="633.1" x2="467.35" y2="635.3000000000001" stroke="#111" stroke-width="0.8"/>
<text transform="translate(470.65,646.3000000000001) rotate(-27)" font-size="6.6" text-anchor="end" fill="#2a2a2a">10<tspan font-size="4.2" dy="-3.1">&#8722;1</tspan></text>
<line x1="481.20" y1="633.1" x2="481.20" y2="635.3000000000001" stroke="#111" stroke-width="0.8"/>
<text transform="translate(484.50,646.3000000000001) rotate(-27)" font-size="6.6" text-anchor="end" fill="#2a2a2a">10<tspan font-size="4.2" dy="-3.1">0</tspan></text>
<line x1="495.05" y1="633.1" x2="495.05" y2="635.3000000000001" stroke="#111" stroke-width="0.8"/>
<text transform="translate(498.35,646.3000000000001) rotate(-27)" font-size="6.6" text-anchor="end" fill="#2a2a2a">10<tspan font-size="4.2" dy="-3.1">1</tspan></text>
<text transform="translate(461.90,663.1) scale(0.73,1)" font-size="8" font-weight="bold" text-anchor="middle" fill="#2a2a2a" stroke="#2a2a2a" stroke-width="0.15">[ADC] (nM)</text>
<text transform="translate(403.60,597.50) rotate(-90) scale(0.72,1)" font-size="7.8" font-weight="bold" text-anchor="middle" fill="#2a2a2a" stroke="#2a2a2a" stroke-width="0.15">% of Maximum</text>
<polyline points="425.80,569.84 426.67,569.84 427.53,569.85 428.40,569.85 429.26,569.85 430.13,569.85 430.99,569.86 431.86,569.86 432.73,569.86 433.59,569.87 434.46,569.88 435.32,569.88 436.19,569.89 437.05,569.90 437.92,569.90 438.78,569.91 439.65,569.93 440.52,569.94 441.38,569.95 442.25,569.97 443.11,569.99 443.98,570.01 444.84,570.03 445.71,570.06 446.57,570.09 447.44,570.12 448.31,570.16 449.17,570.20 450.04,570.25 450.90,570.30 451.77,570.36 452.63,570.43 453.50,570.50 454.37,570.59 455.23,570.69 456.10,570.80 456.96,570.92 457.83,571.06 458.69,571.21 459.56,571.38 460.43,571.58 461.29,571.80 462.16,572.04 463.02,572.31 463.89,572.62 464.75,572.96 465.62,573.34 466.48,573.76 467.35,574.24 468.22,574.76 469.08,575.34 469.95,575.98 470.81,576.68 471.68,577.45 472.54,578.30 473.41,579.23 474.28,580.24 475.14,581.33 476.01,582.52 476.87,583.79 477.74,585.15 478.60,586.59 479.47,588.12 480.33,589.74 481.20,591.42 482.07,593.17 482.93,594.98 483.80,596.83 484.66,598.72 485.53,600.62 486.39,602.53 487.26,604.44 488.12,606.32 488.99,608.17 489.86,609.97 490.72,611.71 491.59,613.39 492.45,614.99 493.32,616.51 494.18,617.95 495.05,619.30" fill="none" stroke="#6fb37c" stroke-width="0.9"/>
<line x1="439.65" y1="573.62" x2="439.65" y2="568.56" stroke="#6fb37c" stroke-width="0.6" opacity="0.55"/>
<rect x="438.65" y="570.09" width="2" height="2" fill="#3a6f4c"/>
<line x1="453.50" y1="572.36" x2="453.50" y2="567.30" stroke="#6fb37c" stroke-width="0.6" opacity="0.55"/>
<rect x="452.50" y="568.83" width="2" height="2" fill="#3a6f4c"/>
<line x1="467.35" y1="575.52" x2="467.35" y2="570.46" stroke="#6fb37c" stroke-width="0.6" opacity="0.55"/>
<rect x="466.35" y="571.99" width="2" height="2" fill="#3a6f4c"/>
<line x1="481.20" y1="593.87" x2="481.20" y2="588.81" stroke="#6fb37c" stroke-width="0.6" opacity="0.55"/>
<rect x="480.20" y="590.34" width="2" height="2" fill="#3a6f4c"/>
<line x1="495.05" y1="616.02" x2="495.05" y2="610.95" stroke="#6fb37c" stroke-width="0.6" opacity="0.55"/>
<rect x="494.05" y="612.49" width="2" height="2" fill="#3a6f4c"/>
<polyline points="425.80,569.83 426.67,569.83 427.53,569.83 428.40,569.83 429.26,569.83 430.13,569.83 430.99,569.83 431.86,569.83 432.73,569.83 433.59,569.83 434.46,569.83 435.32,569.83 436.19,569.83 437.05,569.83 437.92,569.83 438.78,569.83 439.65,569.83 440.52,569.83 441.38,569.83 442.25,569.83 443.11,569.83 443.98,569.83 444.84,569.83 445.71,569.83 446.57,569.83 447.44,569.83 448.31,569.84 449.17,569.84 450.04,569.84 450.90,569.84 451.77,569.84 452.63,569.84 453.50,569.85 454.37,569.85 455.23,569.85 456.10,569.86 456.96,569.86 457.83,569.87 458.69,569.87 459.56,569.88 460.43,569.89 461.29,569.90 462.16,569.91 463.02,569.92 463.89,569.94 464.75,569.96 465.62,569.98 466.48,570.00 467.35,570.03 468.22,570.06 469.08,570.09 469.95,570.13 470.81,570.18 471.68,570.24 472.54,570.30 473.41,570.37 474.28,570.45 475.14,570.55 476.01,570.66 476.87,570.79 477.74,570.93 478.60,571.10 479.47,571.29 480.33,571.51 481.20,571.77 482.07,572.06 482.93,572.39 483.80,572.77 484.66,573.20 485.53,573.69 486.39,574.24 487.26,574.87 488.12,575.58 488.99,576.38 489.86,577.27 490.72,578.27 491.59,579.38 492.45,580.61 493.32,581.96 494.18,583.43 495.05,585.03" fill="none" stroke="#36658f" stroke-width="0.9"/>
<line x1="439.65" y1="572.99" x2="439.65" y2="567.93" stroke="#36658f" stroke-width="0.6" opacity="0.55"/>
<rect x="438.65" y="569.46" width="2" height="2" fill="#1c3550"/>
<line x1="453.50" y1="572.99" x2="453.50" y2="567.93" stroke="#36658f" stroke-width="0.6" opacity="0.55"/>
<rect x="452.50" y="569.46" width="2" height="2" fill="#1c3550"/>
<line x1="467.35" y1="572.36" x2="467.35" y2="567.30" stroke="#36658f" stroke-width="0.6" opacity="0.55"/>
<rect x="466.35" y="568.83" width="2" height="2" fill="#1c3550"/>
<line x1="481.20" y1="574.89" x2="481.20" y2="569.83" stroke="#36658f" stroke-width="0.6" opacity="0.55"/>
<rect x="480.20" y="571.36" width="2" height="2" fill="#1c3550"/>
<line x1="495.05" y1="587.54" x2="495.05" y2="582.48" stroke="#36658f" stroke-width="0.6" opacity="0.55"/>
<rect x="494.05" y="584.01" width="2" height="2" fill="#1c3550"/>
<polyline points="425.80,569.92 426.67,569.93 427.53,569.95 428.40,569.97 429.26,570.00 430.13,570.03 430.99,570.07 431.86,570.11 432.73,570.16 433.59,570.22 434.46,570.29 435.32,570.37 436.19,570.47 437.05,570.58 437.92,570.72 438.78,570.87 439.65,571.06 440.52,571.28 441.38,571.53 442.25,571.83 443.11,572.17 443.98,572.58 444.84,573.05 445.71,573.59 446.57,574.22 447.44,574.95 448.31,575.78 449.17,576.74 450.04,577.83 450.90,579.06 451.77,580.44 452.63,581.98 453.50,583.69 454.37,585.56 455.23,587.60 456.10,589.79 456.96,592.12 457.83,594.56 458.69,597.09 459.56,599.69 460.43,602.30 461.29,604.91 462.16,607.46 463.02,609.94 463.89,612.31 464.75,614.56 465.62,616.65 466.48,618.58 467.35,620.35 468.22,621.95 469.08,623.39 469.95,624.68 470.81,625.81 471.68,626.81 472.54,627.69 473.41,628.46 474.28,629.12 475.14,629.69 476.01,630.19 476.87,630.62 477.74,630.98 478.60,631.30 479.47,631.56 480.33,631.79 481.20,631.99 482.07,632.16 482.93,632.30 483.80,632.42 484.66,632.52 485.53,632.61 486.39,632.68 487.26,632.75 488.12,632.80 488.99,632.85 489.86,632.88 490.72,632.92 491.59,632.95 492.45,632.97 493.32,632.99 494.18,633.01 495.05,633.02" fill="none" stroke="#c8405f" stroke-width="0.9"/>
<line x1="439.65" y1="572.99" x2="439.65" y2="570.46" stroke="#c8405f" stroke-width="0.6" opacity="0.55"/>
<rect x="438.65" y="570.73" width="2" height="2" fill="#8e2038"/>
<line x1="453.50" y1="585.01" x2="453.50" y2="582.48" stroke="#c8405f" stroke-width="0.6" opacity="0.55"/>
<rect x="452.50" y="582.75" width="2" height="2" fill="#8e2038"/>
<line x1="467.35" y1="621.71" x2="467.35" y2="619.18" stroke="#c8405f" stroke-width="0.6" opacity="0.55"/>
<rect x="466.35" y="619.45" width="2" height="2" fill="#8e2038"/>
<line x1="481.20" y1="631.20" x2="481.20" y2="628.67" stroke="#c8405f" stroke-width="0.6" opacity="0.55"/>
<rect x="480.20" y="628.94" width="2" height="2" fill="#8e2038"/>
<line x1="495.05" y1="632.47" x2="495.05" y2="629.94" stroke="#c8405f" stroke-width="0.6" opacity="0.55"/>
<rect x="494.05" y="630.20" width="2" height="2" fill="#8e2038"/>
</svg>
<div class="bd"></div>
</div>
</body></html>
